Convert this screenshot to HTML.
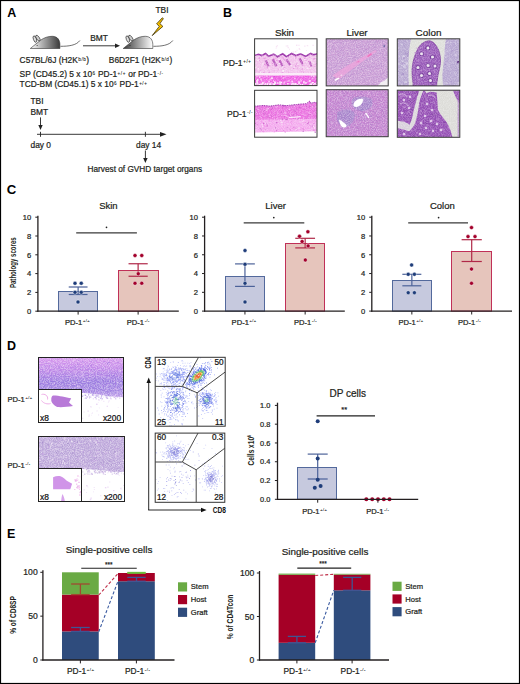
<!DOCTYPE html>
<html><head><meta charset="utf-8"><title>Figure</title>
<style>html,body{margin:0;padding:0;background:#fff;}body{width:520px;height:684px;overflow:hidden;font-family:"Liberation Sans",sans-serif;}svg{display:block;}</style>
</head><body>
<svg width="520" height="684" viewBox="0 0 520 684" font-family="Liberation Sans, sans-serif"><defs><filter id="soft" x="-5%" y="-5%" width="110%" height="110%"><feGaussianBlur stdDeviation="0.35"/></filter><filter id="grain" x="0" y="0" width="100%" height="100%"><feTurbulence type="fractalNoise" baseFrequency="0.85" numOctaves="2" seed="5" result="t"/><feColorMatrix in="t" type="matrix" values="0 0 0 0 1  0 0 0 0 1  0 0 0 0 1  0 0 0 -3 1.9"/></filter><filter id="grainD" x="0" y="0" width="100%" height="100%"><feTurbulence type="fractalNoise" baseFrequency="0.8" numOctaves="2" seed="9" result="t"/><feColorMatrix in="t" type="matrix" values="0 0 0 0 0.35  0 0 0 0 0.2  0 0 0 0 0.55  0 0 0 -3 1.9"/></filter><linearGradient id="m1" x1="0" x2="1" y1="0" y2="0"><stop offset="0" stop-color="#ffffff"/><stop offset="1" stop-color="#3a3a3a"/></linearGradient><linearGradient id="thy1" x1="0" x2="0" y1="0" y2="1"><stop offset="0" stop-color="#d898ee"/><stop offset="0.3" stop-color="#c088e8"/><stop offset="0.6" stop-color="#9c7ce0"/><stop offset="0.85" stop-color="#a486e2"/><stop offset="1" stop-color="#c4a4ec"/></linearGradient><linearGradient id="m2" x1="0" x2="1" y1="0" y2="0"><stop offset="0" stop-color="#3a3a3a"/><stop offset="1" stop-color="#ffffff"/></linearGradient><clipPath id="cp1"><rect x="254.6" y="38.8" width="62.4" height="46.8"/></clipPath><clipPath id="cp2"><rect x="254.6" y="90.3" width="62.4" height="46.9"/></clipPath><clipPath id="cp3"><rect x="326.2" y="38.8" width="62" height="47.1"/></clipPath><clipPath id="cp4"><rect x="326.2" y="89.7" width="62" height="47"/></clipPath><clipPath id="cp5"><rect x="397.3" y="38.8" width="62.5" height="47.1"/></clipPath><clipPath id="cp6"><rect x="397.3" y="90.2" width="62.5" height="47.1"/></clipPath><clipPath id="cp7"><rect x="38.5" y="357.5" width="85" height="65"/></clipPath><clipPath id="cp8"><rect x="38.5" y="436.5" width="86" height="65"/></clipPath><clipPath id="cp9"><rect x="155.2" y="357.3" width="70" height="68.9"/></clipPath><clipPath id="cp10"><rect x="155.2" y="433.1" width="69.6" height="69.2"/></clipPath></defs><rect x="0" y="0" width="520" height="684" fill="#fff"/><text x="7.20" y="16.80" font-size="12.5" text-anchor="start" fill="#000" font-weight="bold" >A</text>
<g transform="translate(30.3,48.5)">
<path d="M0,0 L10.2,-8.2 C14,-11 18,-12.2 22,-12.2 C27.5,-12.2 29.6,-8 29.6,-4 L29.6,0 Z" fill="url(#m1)" stroke="#333" stroke-width="0.6"/>
<path d="M30.2,-2.2 C38,-2.2 46,-3 49.6,-8" fill="none" stroke="#333" stroke-width="0.7"/>
<ellipse cx="4.6" cy="-9.4" rx="1.5" ry="3.4" transform="rotate(-20 4.6 -9.4)" fill="#ddd" stroke="#222" stroke-width="0.6"/>
<ellipse cx="7.6" cy="-10.4" rx="1.5" ry="3.3" transform="rotate(-35 7.6 -10.4)" fill="#ccc" stroke="#222" stroke-width="0.6"/>
<circle cx="6.8" cy="-3" r="0.5" fill="#222"/>
</g>
<g transform="translate(123.2,48.5)">
<path d="M0,0 L10.2,-8.2 C14,-11 18,-12.2 22,-12.2 C27.5,-12.2 29.6,-8 29.6,-4 L29.6,0 Z" fill="url(#m2)" stroke="#333" stroke-width="0.6"/>
<path d="M30.2,-2.2 C38,-2.2 46,-3 49.6,-8" fill="none" stroke="#333" stroke-width="0.7"/>
<ellipse cx="4.6" cy="-9.4" rx="1.5" ry="3.4" transform="rotate(-20 4.6 -9.4)" fill="#ddd" stroke="#222" stroke-width="0.6"/>
<ellipse cx="7.6" cy="-10.4" rx="1.5" ry="3.3" transform="rotate(-35 7.6 -10.4)" fill="#ccc" stroke="#222" stroke-width="0.6"/>
<circle cx="6.8" cy="-3" r="0.5" fill="#222"/>
</g>
<text x="99.00" y="40.50" font-size="8.4" text-anchor="middle" fill="#231f20" stroke="#231f20" stroke-width="0.22" >BMT</text>
<line x1="83.00" y1="45.80" x2="117.00" y2="45.80" stroke="#222" stroke-width="0.9" />
<path d="M115,43.6 L120,45.8 L115,48 Z" fill="#222"/>
<text x="162.00" y="13.40" font-size="8.4" text-anchor="middle" fill="#231f20" stroke="#231f20" stroke-width="0.22" >TBI</text>
<path d="M162.3,17.8 L156.6,23.8 L159.3,26.3 L152.2,35.6 L162.9,26.4 L159.9,23.6 L163.4,18.6 Z" fill="#f5c000" stroke="#2a2000" stroke-width="0.7" stroke-linejoin="round"/>
<text x="19.60" y="63.10" font-size="8.4" text-anchor="start" fill="#231f20" stroke="#231f20" stroke-width="0.22" >C57BL/6J (H2K<tspan dx="0.5" dy="-2.6" font-size="4.6" letter-spacing="0.55" stroke-width="0.08">b/b</tspan><tspan dy="2.6" stroke-width="0.22">)</tspan></text>
<text x="108.80" y="63.10" font-size="8.4" text-anchor="start" fill="#231f20" stroke="#231f20" stroke-width="0.22" >B6D2F1 (H2K<tspan dx="0.5" dy="-2.6" font-size="4.6" letter-spacing="0.55" stroke-width="0.08">b/d</tspan><tspan dy="2.6" stroke-width="0.22">)</tspan></text>
<text x="19.60" y="77.10" font-size="8.4" text-anchor="start" fill="#231f20" stroke="#231f20" stroke-width="0.22" >SP (CD45.2) 5 x 10<tspan dx="0.5" dy="-2.6" font-size="4.6" letter-spacing="0.55" stroke-width="0.08">6</tspan><tspan dy="2.6" stroke-width="0.22"> PD-1</tspan><tspan dx="0.5" dy="-2.6" font-size="4.6" letter-spacing="0.55" stroke-width="0.08">+/+</tspan><tspan dy="2.6" stroke-width="0.22"> or PD-1</tspan><tspan dx="0.5" dy="-2.6" font-size="4.6" letter-spacing="0.55" stroke-width="0.08">-/-</tspan></text>
<text x="19.60" y="87.10" font-size="8.4" text-anchor="start" fill="#231f20" stroke="#231f20" stroke-width="0.22" >TCD-BM (CD45.1) 5 x 10<tspan dx="0.5" dy="-2.6" font-size="4.6" letter-spacing="0.55" stroke-width="0.08">6</tspan><tspan dy="2.6" stroke-width="0.22"> PD-1</tspan><tspan dx="0.5" dy="-2.6" font-size="4.6" letter-spacing="0.55" stroke-width="0.08">+/+</tspan></text>
<text x="30.50" y="103.50" font-size="8.4" text-anchor="start" fill="#231f20" stroke="#231f20" stroke-width="0.22" >TBI</text>
<text x="30.50" y="114.60" font-size="8.4" text-anchor="start" fill="#231f20" stroke="#231f20" stroke-width="0.22" >BMT</text>
<line x1="40.50" y1="117.40" x2="40.50" y2="127.00" stroke="#222" stroke-width="0.9" />
<path d="M38.3,125 L40.5,130 L42.7,125 Z" fill="#222"/>
<line x1="37.00" y1="134.30" x2="162.00" y2="134.30" stroke="#222" stroke-width="0.9" />
<path d="M160,131.9 L166.5,134.3 L160,136.7 Z" fill="#222"/>
<line x1="40.50" y1="131.80" x2="40.50" y2="136.80" stroke="#222" stroke-width="0.9" />
<line x1="145.40" y1="131.80" x2="145.40" y2="136.80" stroke="#222" stroke-width="0.9" />
<text x="30.50" y="147.50" font-size="8.4" text-anchor="start" fill="#231f20" stroke="#231f20" stroke-width="0.22" >day 0</text>
<text x="136.00" y="147.50" font-size="8.4" text-anchor="start" fill="#231f20" stroke="#231f20" stroke-width="0.22" >day 14</text>
<line x1="145.40" y1="150.50" x2="145.40" y2="160.00" stroke="#222" stroke-width="0.9" />
<path d="M143.2,158 L145.4,163 L147.6,158 Z" fill="#222"/>
<text x="87.50" y="172.30" font-size="8.25" text-anchor="start" fill="#231f20" stroke="#231f20" stroke-width="0.22" >Harvest of GVHD target organs</text>
<text x="223.00" y="16.70" font-size="12.5" text-anchor="start" fill="#000" font-weight="bold" >B</text>
<text x="284.50" y="36.00" font-size="9.9" text-anchor="middle" fill="#231f20" stroke="#231f20" stroke-width="0.22" >Skin</text>
<text x="357.00" y="36.20" font-size="9.8" text-anchor="middle" fill="#231f20" stroke="#231f20" stroke-width="0.22" >Liver</text>
<text x="428.50" y="36.20" font-size="9.9" text-anchor="middle" fill="#231f20" stroke="#231f20" stroke-width="0.22" >Colon</text>
<text x="223.00" y="65.90" font-size="8.6" text-anchor="start" fill="#231f20" stroke="#231f20" stroke-width="0.22" >PD-1<tspan dx="0.69" dy="-2.67" font-size="4.47" letter-spacing="0.52" stroke-width="0.08">+/+</tspan></text>
<text x="227.00" y="117.00" font-size="8.6" text-anchor="start" fill="#231f20" stroke="#231f20" stroke-width="0.22" >PD-1<tspan dx="0.69" dy="-2.67" font-size="4.47" letter-spacing="0.52" stroke-width="0.08">-/-</tspan></text>
<g clip-path="url(#cp1)"><g filter="url(#soft)"><rect x="254.6" y="38.8" width="62.4" height="46.8" fill="#fff"/><path fill="#f4d4f0" opacity="0.7" d="M286.8 45.3h1.5v1.5h-1.5zM306.8 44.9h1.4v1.4h-1.4zM275.7 47.8h0.9v0.9h-0.9zM296.0 44.6h1.4v1.4h-1.4zM299.4 49.0h0.9v0.9h-0.9zM275.9 45.9h1.4v1.4h-1.4zM285.7 45.5h0.9v0.9h-0.9zM296.6 49.8h0.9v0.9h-0.9zM289.1 48.8h0.9v0.9h-0.9zM298.7 48.1h1.3v1.3h-1.3zM292.6 51.6h1.2v1.2h-1.2zM305.9 49.9h1.0v1.0h-1.0zM294.8 51.0h1.5v1.5h-1.5zM298.3 44.7h1.3v1.3h-1.3zM304.2 45.4h1.3v1.3h-1.3zM312.4 44.7h1.4v1.4h-1.4zM287.6 47.0h1.3v1.3h-1.3zM276.8 45.0h1.1v1.1h-1.1z"/><path d="M254.6,55.3 L258.6,54.3 L261.6,55.599999999999994 L265.6,53.599999999999994 L268.6,56.3 L273.6,54.099999999999994 L277.6,56.8 L282.6,53.8 L286.6,56.8 L291.6,53.4 L295.6,55.599999999999994 L300.6,54.0 L305.6,56.4 L310.6,53.4 L313.6,54.8 L317.0,53.8 L317.0,85.6 L254.6,85.6 Z" fill="#f2c2ec"/><path fill="#fff" opacity="0.6" d="M257.8 68.1h1.2v1.2h-1.2zM312.7 62.2h1.2v1.2h-1.2zM281.9 65.4h1.5v1.5h-1.5zM265.2 60.3h0.8v0.8h-0.8zM282.3 70.8h1.6v1.6h-1.6zM278.9 63.0h1.1v1.1h-1.1zM307.0 73.1h1.1v1.1h-1.1zM259.4 72.2h1.3v1.3h-1.3zM316.0 56.7h1.2v1.2h-1.2zM304.2 58.6h1.4v1.4h-1.4zM285.4 69.3h0.9v0.9h-0.9zM306.0 57.2h1.3v1.3h-1.3zM287.5 65.4h0.6v0.6h-0.6zM297.3 63.9h1.1v1.1h-1.1zM311.8 71.6h0.8v0.8h-0.8zM316.0 70.6h0.8v0.8h-0.8zM274.2 68.8h0.6v0.6h-0.6zM310.5 59.2h1.4v1.4h-1.4zM306.8 67.5h1.5v1.5h-1.5zM259.5 57.1h1.3v1.3h-1.3zM270.8 58.6h0.6v0.6h-0.6zM299.9 65.8h0.8v0.8h-0.8zM269.3 63.8h1.3v1.3h-1.3zM254.7 66.7h1.5v1.5h-1.5zM290.5 65.1h1.4v1.4h-1.4zM299.5 67.4h0.6v0.6h-0.6zM268.5 67.3h1.1v1.1h-1.1zM282.5 70.0h1.6v1.6h-1.6zM309.5 68.3h0.8v0.8h-0.8zM278.4 58.7h1.5v1.5h-1.5zM279.4 68.7h1.0v1.0h-1.0zM310.4 61.2h1.0v1.0h-1.0zM278.6 71.3h0.7v0.7h-0.7zM303.3 63.8h0.6v0.6h-0.6zM294.2 57.5h1.1v1.1h-1.1zM288.5 64.0h0.9v0.9h-0.9zM304.8 59.9h0.6v0.6h-0.6zM259.9 71.6h1.0v1.0h-1.0zM261.9 63.3h1.4v1.4h-1.4zM314.7 64.8h0.7v0.7h-0.7zM263.7 73.0h0.7v0.7h-0.7zM314.1 66.9h1.1v1.1h-1.1zM257.3 59.4h1.5v1.5h-1.5zM268.3 56.9h0.9v0.9h-0.9z"/><path fill="#e070d8" opacity="0.6" d="M271.7 62.7h1.3v1.3h-1.3zM296.8 62.9h0.8v0.8h-0.8zM297.1 65.0h1.2v1.2h-1.2zM287.5 72.3h1.2v1.2h-1.2zM313.7 66.5h1.1v1.1h-1.1zM313.6 65.4h0.7v0.7h-0.7zM301.3 61.2h1.2v1.2h-1.2zM266.4 64.5h1.3v1.3h-1.3zM266.6 66.7h1.5v1.5h-1.5zM283.8 67.2h1.4v1.4h-1.4zM255.3 69.7h1.3v1.3h-1.3zM264.7 64.2h1.3v1.3h-1.3zM274.4 65.0h1.2v1.2h-1.2zM309.3 57.4h0.8v0.8h-0.8zM302.2 64.9h1.2v1.2h-1.2zM262.6 58.3h1.0v1.0h-1.0zM314.8 58.1h0.9v0.9h-0.9zM310.2 61.1h0.6v0.6h-0.6zM303.9 57.5h1.5v1.5h-1.5zM304.4 73.4h0.6v0.6h-0.6zM267.7 59.4h0.9v0.9h-0.9zM283.8 64.9h0.8v0.8h-0.8zM259.9 70.3h0.7v0.7h-0.7zM278.6 61.3h1.2v1.2h-1.2zM300.0 70.2h0.7v0.7h-0.7zM259.3 56.9h1.2v1.2h-1.2zM277.8 64.1h0.7v0.7h-0.7zM293.1 67.8h1.1v1.1h-1.1zM282.3 57.2h1.5v1.5h-1.5zM258.9 71.8h0.9v0.9h-0.9zM254.9 57.4h0.9v0.9h-0.9zM306.2 58.1h1.5v1.5h-1.5zM301.3 70.9h0.9v0.9h-0.9zM311.0 72.2h1.1v1.1h-1.1zM280.8 61.4h1.4v1.4h-1.4zM278.2 60.0h1.2v1.2h-1.2z"/><path fill="#f8dcf6" opacity="0.6" d="M257.9 69.5h0.7v0.7h-0.7zM278.9 71.8h1.1v1.1h-1.1zM306.0 59.5h0.9v0.9h-0.9zM280.2 62.5h1.2v1.2h-1.2zM258.1 57.5h0.8v0.8h-0.8zM261.1 66.7h0.7v0.7h-0.7zM283.9 68.0h1.1v1.1h-1.1zM297.6 60.8h1.0v1.0h-1.0zM293.6 66.5h1.4v1.4h-1.4zM304.2 70.0h1.3v1.3h-1.3zM306.2 58.3h1.0v1.0h-1.0zM279.0 72.2h1.3v1.3h-1.3zM295.0 62.2h1.1v1.1h-1.1zM286.9 72.2h1.0v1.0h-1.0zM295.4 70.1h1.1v1.1h-1.1zM302.4 66.5h1.4v1.4h-1.4zM281.7 66.7h1.1v1.1h-1.1zM262.7 71.0h1.6v1.6h-1.6zM300.5 57.7h1.5v1.5h-1.5zM285.8 57.1h1.6v1.6h-1.6zM312.1 61.0h0.7v0.7h-0.7zM312.7 72.8h0.9v0.9h-0.9zM266.7 61.7h0.9v0.9h-0.9zM297.0 73.0h0.9v0.9h-0.9zM279.5 62.4h0.7v0.7h-0.7zM291.6 68.3h0.6v0.6h-0.6zM305.4 66.0h1.5v1.5h-1.5zM304.7 70.8h0.8v0.8h-0.8zM292.8 67.4h0.7v0.7h-0.7zM274.7 67.2h1.3v1.3h-1.3zM283.2 64.4h0.7v0.7h-0.7zM315.9 62.6h1.5v1.5h-1.5zM305.9 60.9h1.5v1.5h-1.5zM257.2 68.7h1.1v1.1h-1.1zM294.5 61.3h0.6v0.6h-0.6zM300.3 73.0h0.9v0.9h-0.9zM272.9 65.8h1.0v1.0h-1.0zM280.8 65.7h0.8v0.8h-0.8zM261.8 64.7h1.2v1.2h-1.2zM314.9 60.7h0.7v0.7h-0.7zM259.6 69.7h0.6v0.6h-0.6zM297.9 58.4h0.7v0.7h-0.7zM294.3 71.3h1.1v1.1h-1.1z"/><path fill="#d860d0" opacity="0.6" d="M308.0 61.0h1.0v1.0h-1.0zM308.8 66.9h0.7v0.7h-0.7zM273.4 58.6h1.3v1.3h-1.3zM276.2 60.0h1.1v1.1h-1.1zM303.5 64.4h0.8v0.8h-0.8zM281.7 71.9h1.6v1.6h-1.6zM259.1 58.0h1.1v1.1h-1.1zM283.7 59.1h1.4v1.4h-1.4zM305.7 60.0h0.9v0.9h-0.9zM285.7 60.4h1.1v1.1h-1.1zM296.1 63.7h0.8v0.8h-0.8zM303.1 71.7h0.8v0.8h-0.8zM316.1 63.2h1.0v1.0h-1.0zM281.6 56.6h0.9v0.9h-0.9zM263.3 71.8h1.2v1.2h-1.2zM272.3 64.9h0.8v0.8h-0.8zM294.8 65.3h1.5v1.5h-1.5zM264.1 57.5h1.4v1.4h-1.4zM264.0 63.9h0.9v0.9h-0.9zM314.9 65.7h0.8v0.8h-0.8zM301.7 68.5h1.1v1.1h-1.1zM295.1 57.3h1.3v1.3h-1.3zM297.3 67.8h0.9v0.9h-0.9zM273.5 57.7h1.1v1.1h-1.1zM258.6 57.7h1.3v1.3h-1.3zM313.3 58.3h1.4v1.4h-1.4zM274.0 70.8h0.6v0.6h-0.6zM314.7 63.8h0.9v0.9h-0.9zM264.8 63.4h0.9v0.9h-0.9zM275.5 57.9h0.8v0.8h-0.8zM278.1 69.1h0.8v0.8h-0.8zM275.3 57.4h0.9v0.9h-0.9zM268.5 71.8h1.2v1.2h-1.2zM287.7 73.3h0.9v0.9h-0.9zM288.2 56.8h1.0v1.0h-1.0zM259.1 60.2h1.0v1.0h-1.0zM276.9 63.2h0.6v0.6h-0.6z"/><path d="M264.6,60.8 l3,6 l2.2,-0.8 l-3,-6z M271.6,59.8 l4,7 l2,-1 l-4,-7z M278.6,60.8 l3,6 l2,-1 l-3,-6z M285.6,59.8 l3.5,6 l2,-1 l-3.5,-6z M298.6,58.8 l3,6 l2,-1 l-3,-6z M308.6,61.8 l2,5 l1.8,-0.6 l-2,-5z" fill="#a838b0" opacity="0.75"/><path d="M254.6,55.3 L258.6,54.3 L261.6,55.599999999999994 L265.6,53.599999999999994 L268.6,56.3 L273.6,54.099999999999994 L277.6,56.8 L282.6,53.8 L286.6,56.8 L291.6,53.4 L295.6,55.599999999999994 L300.6,54.0 L305.6,56.4 L310.6,53.4 L313.6,54.8 L317.0,53.8" fill="none" stroke="#9c36aa" stroke-width="1.7"/><rect x="254.6" y="73.0" width="62.4" height="2.6" fill="#fae8f8"/><rect x="254.6" y="75.6" width="62.4" height="10.0" fill="#f060e4"/><path fill="#fff" opacity="0.7" d="M300.2 78.8h1.0v1.0h-1.0zM273.5 81.0h1.1v1.1h-1.1zM308.7 79.9h2.0v2.0h-2.0zM315.6 78.4h0.9v0.9h-0.9zM271.1 77.3h1.9v1.9h-1.9zM312.8 75.4h1.8v1.8h-1.8zM303.0 81.3h1.8v1.8h-1.8zM273.0 80.2h1.0v1.0h-1.0zM258.7 76.3h1.7v1.7h-1.7zM274.0 81.7h1.9v1.9h-1.9zM315.8 82.1h1.0v1.0h-1.0zM270.3 78.4h1.0v1.0h-1.0zM268.2 80.7h1.6v1.6h-1.6zM311.1 75.5h1.2v1.2h-1.2zM256.8 79.1h1.8v1.8h-1.8zM291.4 80.4h1.6v1.6h-1.6zM260.4 79.2h1.5v1.5h-1.5zM256.0 80.0h1.9v1.9h-1.9zM288.5 79.8h0.9v0.9h-0.9zM294.2 77.9h1.3v1.3h-1.3zM281.2 76.4h0.9v0.9h-0.9zM279.3 81.3h1.4v1.4h-1.4z"/><path fill="#e040d8" opacity="0.7" d="M270.7 81.6h0.9v0.9h-0.9zM257.2 75.6h1.3v1.3h-1.3zM274.2 76.1h1.9v1.9h-1.9zM253.9 80.1h1.9v1.9h-1.9zM311.6 76.2h1.8v1.8h-1.8zM274.4 77.4h1.2v1.2h-1.2zM279.4 79.7h1.4v1.4h-1.4zM279.8 79.3h1.6v1.6h-1.6zM272.3 79.1h1.2v1.2h-1.2zM258.1 77.0h1.1v1.1h-1.1zM305.1 78.0h1.2v1.2h-1.2zM273.2 76.3h1.8v1.8h-1.8zM283.9 77.8h1.8v1.8h-1.8zM278.4 76.7h2.0v2.0h-2.0zM273.2 81.9h1.2v1.2h-1.2zM259.5 79.5h1.2v1.2h-1.2z"/><path fill="#f8c0f0" opacity="0.7" d="M285.0 76.6h1.1v1.1h-1.1zM310.7 75.4h1.5v1.5h-1.5zM257.2 75.2h1.5v1.5h-1.5zM282.9 77.1h1.7v1.7h-1.7zM289.0 80.5h1.3v1.3h-1.3zM305.5 78.4h0.9v0.9h-0.9zM266.1 78.9h1.3v1.3h-1.3zM276.9 81.7h0.8v0.8h-0.8zM269.4 79.5h1.3v1.3h-1.3zM255.8 75.3h1.9v1.9h-1.9zM266.0 75.5h1.5v1.5h-1.5zM270.8 81.7h1.5v1.5h-1.5zM300.2 79.7h1.9v1.9h-1.9zM283.3 81.5h1.9v1.9h-1.9zM270.7 75.9h0.9v0.9h-0.9zM287.4 80.4h1.7v1.7h-1.7zM263.4 81.2h1.5v1.5h-1.5zM260.1 78.2h1.8v1.8h-1.8zM311.7 77.5h1.8v1.8h-1.8zM256.5 77.8h0.9v0.9h-0.9zM309.3 78.3h0.8v0.8h-0.8zM262.2 75.7h1.0v1.0h-1.0z"/><path fill="#fff" opacity="0.9" d="M264.7 82.9h1.2v1.2h-1.2zM311.6 81.9h1.6v1.6h-1.6zM273.3 83.4h1.8v1.8h-1.8zM310.0 83.4h2.0v2.0h-2.0zM293.7 84.3h1.7v1.7h-1.7zM312.4 82.1h1.4v1.4h-1.4zM269.0 83.7h2.1v2.1h-2.1zM294.9 83.0h1.5v1.5h-1.5zM301.5 84.1h1.5v1.5h-1.5zM280.7 81.8h1.5v1.5h-1.5zM294.8 84.4h1.0v1.0h-1.0zM315.8 83.7h2.0v2.0h-2.0zM262.1 84.6h1.3v1.3h-1.3zM314.1 83.0h1.6v1.6h-1.6zM274.6 81.9h1.3v1.3h-1.3zM292.2 82.9h1.6v1.6h-1.6zM261.9 82.2h1.8v1.8h-1.8zM287.2 83.0h1.4v1.4h-1.4zM266.6 83.6h1.6v1.6h-1.6zM269.6 84.8h1.1v1.1h-1.1zM279.4 82.5h1.1v1.1h-1.1zM254.3 83.1h2.1v2.1h-2.1zM259.0 83.9h1.2v1.2h-1.2zM294.0 84.9h1.3v1.3h-1.3zM264.2 84.3h2.0v2.0h-2.0zM283.6 83.5h1.0v1.0h-1.0z"/><path fill="#fbe0f8" opacity="0.9" d="M272.9 84.5h1.1v1.1h-1.1zM305.7 82.3h1.3v1.3h-1.3zM308.8 84.2h1.8v1.8h-1.8zM261.1 83.4h1.7v1.7h-1.7zM294.4 82.7h1.3v1.3h-1.3zM254.0 84.8h1.6v1.6h-1.6zM304.6 83.1h1.1v1.1h-1.1zM256.1 81.7h2.1v2.1h-2.1zM302.6 83.5h1.1v1.1h-1.1zM296.8 84.0h1.3v1.3h-1.3zM292.0 82.4h1.4v1.4h-1.4zM310.4 83.2h1.3v1.3h-1.3zM266.8 82.4h1.6v1.6h-1.6zM277.1 82.2h1.5v1.5h-1.5zM296.4 84.7h1.2v1.2h-1.2zM260.9 83.2h1.8v1.8h-1.8zM269.3 83.1h2.0v2.0h-2.0zM270.3 84.7h1.7v1.7h-1.7zM272.4 83.3h1.4v1.4h-1.4zM299.7 84.1h1.3v1.3h-1.3zM257.3 83.5h1.4v1.4h-1.4zM254.6 84.0h1.8v1.8h-1.8zM259.6 83.4h2.0v2.0h-2.0zM279.2 82.7h1.0v1.0h-1.0zM290.8 83.3h1.7v1.7h-1.7zM279.5 83.1h1.8v1.8h-1.8zM304.7 82.2h1.4v1.4h-1.4zM292.7 84.6h1.9v1.9h-1.9zM298.2 81.3h2.0v2.0h-2.0zM270.3 83.9h1.1v1.1h-1.1zM298.2 82.3h1.7v1.7h-1.7zM296.3 84.2h2.2v2.2h-2.2zM312.9 84.1h1.4v1.4h-1.4zM274.1 82.0h2.1v2.1h-2.1z"/></g><rect x="254.6" y="38.8" width="62.4" height="46.8" filter="url(#grain)" opacity="0.3"/><g filter="url(#soft)"></g></g>
<rect x="254.60" y="38.80" width="62.40" height="46.80" fill="none" stroke="#3a3a3a" stroke-width="1" />
<g clip-path="url(#cp2)"><g filter="url(#soft)"><rect x="254.6" y="90.3" width="62.4" height="46.9" fill="#fff"/><path d="M254.6,106.3 L262.6,105.5 L270.6,106.1 L278.6,104.89999999999999 L286.6,105.7 L294.6,104.7 L300.6,104.1 L306.6,103.7 L309.6,101.3 L311.6,103.8 L313.6,102.3 L317.0,102.8 L317.0,131.3 L254.6,132.6 Z" fill="#f4a8ee"/><path d="M254.6,106.3 L262.6,105.5 L270.6,106.1 L278.6,104.89999999999999 L286.6,105.7 L294.6,104.7 L300.6,104.1 L306.6,103.7 L309.6,101.3 L311.6,103.8 L313.6,102.3 L317.0,102.8 L317.0,118.8 L254.6,119.8 Z" fill="#ea70e0"/><path fill="#fff" opacity="0.55" d="M281.3 124.3h1.2v1.2h-1.2zM262.3 126.1h1.2v1.2h-1.2zM274.2 116.4h0.6v0.6h-0.6zM312.0 105.9h1.4v1.4h-1.4zM302.1 121.0h1.1v1.1h-1.1zM308.2 116.9h1.2v1.2h-1.2zM263.8 109.1h0.8v0.8h-0.8zM298.7 118.5h1.2v1.2h-1.2zM299.5 121.3h1.2v1.2h-1.2zM296.3 117.6h1.4v1.4h-1.4zM280.7 121.9h1.3v1.3h-1.3zM295.6 128.7h1.4v1.4h-1.4zM316.6 123.2h0.8v0.8h-0.8zM293.7 105.5h1.2v1.2h-1.2zM256.1 124.1h1.2v1.2h-1.2zM288.7 129.5h0.9v0.9h-0.9zM280.2 119.5h1.4v1.4h-1.4zM276.3 118.2h0.9v0.9h-0.9zM303.6 113.8h0.9v0.9h-0.9zM303.3 120.0h0.9v0.9h-0.9zM267.7 108.0h1.1v1.1h-1.1zM313.8 127.2h1.2v1.2h-1.2zM313.0 125.9h1.2v1.2h-1.2zM304.7 112.6h0.6v0.6h-0.6zM265.9 109.5h1.3v1.3h-1.3zM277.5 117.5h0.7v0.7h-0.7zM284.5 120.2h0.9v0.9h-0.9zM316.2 111.0h0.6v0.6h-0.6zM283.5 114.8h1.0v1.0h-1.0zM306.6 121.7h1.1v1.1h-1.1zM274.4 111.3h0.7v0.7h-0.7zM288.4 108.5h1.5v1.5h-1.5zM276.6 105.9h1.0v1.0h-1.0zM279.7 124.5h0.7v0.7h-0.7zM308.6 112.1h0.8v0.8h-0.8zM261.4 123.9h1.4v1.4h-1.4zM255.1 129.6h1.3v1.3h-1.3zM302.7 114.0h0.8v0.8h-0.8zM298.7 127.5h1.2v1.2h-1.2zM309.7 113.0h1.1v1.1h-1.1zM278.2 120.8h0.6v0.6h-0.6zM264.3 130.5h0.9v0.9h-0.9zM284.5 112.2h1.6v1.6h-1.6zM281.4 115.1h0.8v0.8h-0.8zM274.1 127.4h1.4v1.4h-1.4zM255.4 111.5h1.5v1.5h-1.5zM281.3 121.4h1.6v1.6h-1.6zM297.4 125.1h0.7v0.7h-0.7zM265.1 122.6h0.9v0.9h-0.9z"/><path fill="#f080e8" opacity="0.55" d="M303.3 115.3h1.2v1.2h-1.2zM297.8 124.9h0.7v0.7h-0.7zM301.4 109.9h1.6v1.6h-1.6zM289.9 112.5h1.0v1.0h-1.0zM314.2 120.5h1.6v1.6h-1.6zM277.3 113.0h1.0v1.0h-1.0zM312.9 108.1h1.2v1.2h-1.2zM264.5 116.5h1.4v1.4h-1.4zM285.6 111.8h1.4v1.4h-1.4zM300.3 129.3h1.0v1.0h-1.0zM290.5 122.1h1.4v1.4h-1.4zM269.7 116.2h1.1v1.1h-1.1zM263.9 125.6h1.5v1.5h-1.5zM311.1 121.6h1.3v1.3h-1.3zM270.5 110.7h1.3v1.3h-1.3zM267.2 106.8h0.9v0.9h-0.9zM275.5 108.7h1.5v1.5h-1.5zM260.0 122.6h0.9v0.9h-0.9zM279.0 119.8h1.0v1.0h-1.0zM303.2 129.3h1.2v1.2h-1.2zM265.8 105.9h0.6v0.6h-0.6zM294.3 130.2h0.7v0.7h-0.7zM299.0 105.3h0.6v0.6h-0.6zM271.4 121.5h1.3v1.3h-1.3zM271.9 108.4h1.5v1.5h-1.5zM263.1 130.9h1.4v1.4h-1.4zM268.4 120.2h1.5v1.5h-1.5zM259.7 110.1h1.5v1.5h-1.5zM280.5 130.2h1.4v1.4h-1.4zM270.0 119.9h1.2v1.2h-1.2zM280.4 111.6h0.6v0.6h-0.6zM290.6 110.4h0.7v0.7h-0.7zM255.1 120.9h1.2v1.2h-1.2zM305.1 127.9h0.7v0.7h-0.7zM256.3 122.2h0.9v0.9h-0.9zM270.9 119.2h1.5v1.5h-1.5zM261.3 120.6h1.6v1.6h-1.6zM290.0 112.0h1.3v1.3h-1.3zM256.1 113.9h0.8v0.8h-0.8zM257.6 105.3h1.2v1.2h-1.2zM306.0 114.2h1.4v1.4h-1.4zM292.3 127.5h1.4v1.4h-1.4zM279.9 107.6h1.0v1.0h-1.0zM290.4 118.0h1.6v1.6h-1.6zM263.5 127.8h0.9v0.9h-0.9zM272.1 114.3h1.0v1.0h-1.0zM279.5 118.2h1.2v1.2h-1.2zM273.7 131.0h1.4v1.4h-1.4z"/><path fill="#d050c8" opacity="0.55" d="M311.1 108.9h0.6v0.6h-0.6zM292.6 108.9h1.6v1.6h-1.6zM255.9 108.4h1.2v1.2h-1.2zM260.9 110.5h0.7v0.7h-0.7zM313.2 129.2h1.4v1.4h-1.4zM305.6 121.9h0.9v0.9h-0.9zM286.4 107.4h1.1v1.1h-1.1zM287.4 110.4h1.5v1.5h-1.5zM266.4 125.1h1.6v1.6h-1.6zM312.8 111.2h0.8v0.8h-0.8zM284.6 131.5h1.2v1.2h-1.2zM309.7 124.9h1.0v1.0h-1.0zM255.3 111.6h1.3v1.3h-1.3zM315.8 109.7h1.1v1.1h-1.1zM263.6 113.0h1.0v1.0h-1.0zM287.1 114.0h1.2v1.2h-1.2zM264.5 128.8h1.2v1.2h-1.2zM268.7 108.5h1.1v1.1h-1.1zM285.0 119.1h1.5v1.5h-1.5zM262.2 131.2h0.7v0.7h-0.7zM305.2 117.4h1.4v1.4h-1.4zM263.1 122.8h1.3v1.3h-1.3zM260.6 109.9h0.6v0.6h-0.6zM290.0 129.6h1.0v1.0h-1.0zM267.5 109.1h0.6v0.6h-0.6zM254.4 122.6h1.6v1.6h-1.6zM282.9 130.0h0.9v0.9h-0.9zM270.6 108.8h1.5v1.5h-1.5zM296.8 129.5h0.9v0.9h-0.9zM282.6 107.0h1.4v1.4h-1.4zM269.4 129.7h1.1v1.1h-1.1zM291.3 114.1h1.1v1.1h-1.1zM316.4 115.2h0.6v0.6h-0.6zM288.9 128.3h1.1v1.1h-1.1zM307.7 121.8h1.5v1.5h-1.5zM312.8 106.3h1.2v1.2h-1.2zM296.2 112.8h1.2v1.2h-1.2zM303.7 108.8h1.4v1.4h-1.4zM257.7 124.5h0.9v0.9h-0.9zM298.7 110.3h0.7v0.7h-0.7zM256.3 123.7h1.2v1.2h-1.2zM276.0 129.7h1.6v1.6h-1.6zM302.6 128.2h1.2v1.2h-1.2zM286.1 119.1h1.1v1.1h-1.1zM260.3 111.4h1.4v1.4h-1.4zM269.0 116.8h1.0v1.0h-1.0zM290.8 125.5h0.7v0.7h-0.7zM291.5 121.3h0.6v0.6h-0.6zM258.4 116.4h1.1v1.1h-1.1zM293.4 126.4h1.5v1.5h-1.5zM266.6 116.1h1.5v1.5h-1.5zM313.2 123.0h1.1v1.1h-1.1z"/><path fill="#b040b8" opacity="0.55" d="M309.5 106.3h1.5v1.5h-1.5zM292.7 105.6h1.0v1.0h-1.0zM293.3 114.4h1.0v1.0h-1.0zM261.0 129.5h0.9v0.9h-0.9zM282.8 104.9h1.5v1.5h-1.5zM297.3 118.2h1.2v1.2h-1.2zM307.2 123.0h1.2v1.2h-1.2zM280.9 111.7h1.3v1.3h-1.3zM310.1 113.9h0.6v0.6h-0.6zM271.4 115.8h0.6v0.6h-0.6zM314.4 131.4h1.6v1.6h-1.6zM275.9 121.8h1.4v1.4h-1.4zM270.9 115.0h0.9v0.9h-0.9zM276.5 122.5h0.9v0.9h-0.9zM260.5 108.7h0.8v0.8h-0.8zM266.4 123.4h1.1v1.1h-1.1zM296.1 108.1h0.7v0.7h-0.7zM264.0 113.3h1.3v1.3h-1.3zM295.6 127.5h1.0v1.0h-1.0zM308.7 114.2h0.8v0.8h-0.8zM286.5 126.9h1.4v1.4h-1.4zM283.9 116.1h0.7v0.7h-0.7zM299.5 107.0h1.2v1.2h-1.2zM293.4 116.1h1.0v1.0h-1.0zM312.1 120.8h0.6v0.6h-0.6zM306.1 105.9h1.4v1.4h-1.4zM302.4 130.4h1.5v1.5h-1.5zM263.2 111.0h0.7v0.7h-0.7zM306.6 113.9h0.8v0.8h-0.8zM281.6 118.5h1.1v1.1h-1.1zM274.8 127.3h1.5v1.5h-1.5zM272.1 107.5h1.3v1.3h-1.3zM299.0 106.2h0.7v0.7h-0.7zM313.1 105.2h1.2v1.2h-1.2zM263.3 123.2h1.0v1.0h-1.0zM268.2 116.2h1.0v1.0h-1.0zM281.3 118.4h1.5v1.5h-1.5zM294.5 110.1h1.3v1.3h-1.3zM308.6 116.8h0.7v0.7h-0.7zM259.8 127.7h1.5v1.5h-1.5zM292.0 115.0h1.1v1.1h-1.1zM288.8 115.2h0.9v0.9h-0.9zM311.5 125.6h1.1v1.1h-1.1zM286.2 118.6h1.3v1.3h-1.3zM282.9 105.8h1.3v1.3h-1.3zM263.7 109.9h1.0v1.0h-1.0z"/><path fill="#f8c0f2" opacity="0.55" d="M275.7 107.2h1.3v1.3h-1.3zM270.4 130.3h0.9v0.9h-0.9zM285.1 114.8h1.5v1.5h-1.5zM294.5 114.2h0.9v0.9h-0.9zM268.4 113.7h1.2v1.2h-1.2zM291.8 114.3h0.8v0.8h-0.8zM269.9 130.3h1.6v1.6h-1.6zM314.2 107.6h1.0v1.0h-1.0zM303.7 124.6h1.0v1.0h-1.0zM269.1 115.4h1.3v1.3h-1.3zM307.5 118.7h1.3v1.3h-1.3zM310.8 107.7h0.9v0.9h-0.9zM275.8 127.6h1.1v1.1h-1.1zM286.4 115.6h1.5v1.5h-1.5zM267.1 108.1h1.4v1.4h-1.4zM283.5 120.1h0.8v0.8h-0.8zM283.2 112.7h1.1v1.1h-1.1zM302.6 117.3h1.4v1.4h-1.4zM305.6 129.1h1.4v1.4h-1.4zM284.2 129.1h1.3v1.3h-1.3zM304.5 107.3h1.1v1.1h-1.1zM257.4 113.1h0.6v0.6h-0.6zM267.3 122.8h1.1v1.1h-1.1zM311.2 122.5h1.0v1.0h-1.0zM296.2 120.5h1.6v1.6h-1.6zM298.8 111.2h1.3v1.3h-1.3zM311.5 114.5h1.3v1.3h-1.3zM258.9 113.0h1.3v1.3h-1.3zM277.0 120.3h1.0v1.0h-1.0zM263.2 126.3h1.0v1.0h-1.0zM274.5 120.9h1.6v1.6h-1.6zM291.6 113.1h1.0v1.0h-1.0zM277.5 123.2h1.2v1.2h-1.2zM287.8 117.9h1.0v1.0h-1.0zM273.4 106.4h1.0v1.0h-1.0zM274.2 118.6h0.8v0.8h-0.8zM290.0 114.3h1.4v1.4h-1.4zM314.4 111.8h0.6v0.6h-0.6zM278.8 117.0h0.8v0.8h-0.8zM257.4 108.5h1.4v1.4h-1.4zM284.2 109.4h0.8v0.8h-0.8zM311.1 128.9h1.1v1.1h-1.1zM312.1 128.0h1.5v1.5h-1.5zM260.9 117.1h1.1v1.1h-1.1zM314.9 106.1h1.5v1.5h-1.5zM289.2 127.5h0.7v0.7h-0.7zM314.7 116.5h0.9v0.9h-0.9zM311.9 107.5h0.9v0.9h-0.9zM254.2 127.2h1.1v1.1h-1.1zM289.9 108.6h0.8v0.8h-0.8zM309.4 124.4h1.4v1.4h-1.4zM266.8 121.2h1.3v1.3h-1.3zM259.6 115.7h1.4v1.4h-1.4zM269.2 107.1h1.2v1.2h-1.2zM279.3 108.4h1.2v1.2h-1.2zM263.1 120.1h1.3v1.3h-1.3zM295.6 105.3h0.7v0.7h-0.7zM260.6 108.3h0.6v0.6h-0.6zM313.5 112.6h0.9v0.9h-0.9zM310.3 107.0h1.2v1.2h-1.2zM271.9 116.9h1.3v1.3h-1.3zM268.0 130.5h1.3v1.3h-1.3zM280.2 123.0h0.7v0.7h-0.7zM270.7 121.7h1.2v1.2h-1.2zM277.8 112.8h1.1v1.1h-1.1z"/><path d="M254.6,106.3 L262.6,105.5 L270.6,106.1 L278.6,104.89999999999999 L286.6,105.7 L294.6,104.7 L300.6,104.1 L306.6,103.7 L309.6,101.3 L311.6,103.8 L313.6,102.3 L317.0,102.8" fill="none" stroke="#a040b0" stroke-width="1.1" stroke-dasharray="1.5,0.8"/><path d="M288.6,117.1 L300.6,116.1 L300.6,117.3 L288.6,118.3 Z" fill="#fff" opacity="0.8"/></g><rect x="254.6" y="90.3" width="62.4" height="46.9" filter="url(#grain)" opacity="0.3"/><g filter="url(#soft)"></g></g>
<rect x="254.60" y="90.30" width="62.40" height="46.90" fill="none" stroke="#3a3a3a" stroke-width="1" />
<g clip-path="url(#cp3)"><g filter="url(#soft)"><rect x="326.2" y="38.8" width="62" height="47.1" fill="#d0a2d8"/><path fill="#dcb4e2" opacity="0.6" d="M376.4 84.8h1.3v1.3h-1.3zM336.1 62.8h1.3v1.3h-1.3zM367.7 70.1h1.1v1.1h-1.1zM349.8 60.4h0.9v0.9h-0.9zM335.5 54.8h1.2v1.2h-1.2zM364.8 65.7h0.8v0.8h-0.8zM384.1 85.3h1.1v1.1h-1.1zM359.2 50.9h1.2v1.2h-1.2zM331.0 51.8h1.3v1.3h-1.3zM381.2 39.4h1.2v1.2h-1.2zM361.1 72.2h0.8v0.8h-0.8zM372.1 42.3h1.2v1.2h-1.2zM368.4 73.0h1.3v1.3h-1.3zM328.3 60.2h1.4v1.4h-1.4zM340.5 40.2h1.1v1.1h-1.1zM381.8 82.8h1.0v1.0h-1.0zM334.6 49.2h0.7v0.7h-0.7zM339.4 56.0h0.6v0.6h-0.6zM334.8 41.9h0.6v0.6h-0.6zM381.8 46.1h0.8v0.8h-0.8zM375.5 70.1h1.1v1.1h-1.1zM370.4 53.9h1.1v1.1h-1.1zM366.6 55.8h1.1v1.1h-1.1zM358.6 50.2h1.0v1.0h-1.0zM364.5 83.5h1.0v1.0h-1.0zM368.5 39.1h1.4v1.4h-1.4zM337.3 64.5h0.8v0.8h-0.8zM330.3 67.5h1.1v1.1h-1.1zM377.9 83.8h1.2v1.2h-1.2zM365.0 72.7h0.7v0.7h-0.7zM357.3 68.3h0.9v0.9h-0.9zM346.4 71.4h1.1v1.1h-1.1zM334.9 47.8h1.3v1.3h-1.3zM344.6 55.0h1.0v1.0h-1.0zM364.5 54.1h1.0v1.0h-1.0zM358.4 54.7h1.2v1.2h-1.2zM332.6 73.0h0.7v0.7h-0.7zM367.6 54.9h0.8v0.8h-0.8zM376.8 51.7h0.9v0.9h-0.9zM379.8 50.1h0.9v0.9h-0.9zM328.6 74.8h1.0v1.0h-1.0zM372.3 60.2h0.9v0.9h-0.9zM328.2 62.2h0.8v0.8h-0.8zM342.5 53.8h0.6v0.6h-0.6zM368.1 59.1h1.1v1.1h-1.1zM385.8 38.2h1.2v1.2h-1.2zM345.5 55.2h1.3v1.3h-1.3zM353.8 42.5h0.9v0.9h-0.9zM382.6 50.4h0.8v0.8h-0.8zM367.1 54.0h0.7v0.7h-0.7zM332.2 64.7h1.3v1.3h-1.3zM351.3 60.5h1.3v1.3h-1.3zM383.2 52.2h0.9v0.9h-0.9zM355.6 40.8h1.2v1.2h-1.2zM345.0 50.2h1.3v1.3h-1.3zM369.7 76.1h1.1v1.1h-1.1zM334.1 79.6h1.3v1.3h-1.3zM383.1 44.7h0.7v0.7h-0.7zM339.7 64.2h0.7v0.7h-0.7zM335.0 47.0h0.9v0.9h-0.9zM356.6 63.7h0.7v0.7h-0.7zM380.7 38.8h1.4v1.4h-1.4zM326.4 82.6h0.9v0.9h-0.9zM387.5 75.6h1.0v1.0h-1.0zM337.9 67.6h1.3v1.3h-1.3zM375.4 61.4h1.2v1.2h-1.2zM340.6 66.0h1.0v1.0h-1.0zM331.1 51.0h1.2v1.2h-1.2zM339.6 80.2h1.1v1.1h-1.1zM325.5 46.4h1.4v1.4h-1.4zM386.6 72.8h1.2v1.2h-1.2zM334.2 73.9h0.8v0.8h-0.8zM348.1 69.4h1.1v1.1h-1.1zM384.0 76.6h0.6v0.6h-0.6zM351.7 84.3h1.1v1.1h-1.1zM385.4 47.2h0.8v0.8h-0.8zM368.0 55.4h0.9v0.9h-0.9zM342.1 47.7h1.3v1.3h-1.3zM328.4 51.4h1.0v1.0h-1.0zM372.4 51.3h0.9v0.9h-0.9zM380.8 79.7h0.7v0.7h-0.7zM369.8 45.0h1.2v1.2h-1.2zM378.5 69.7h1.1v1.1h-1.1zM381.3 80.5h1.2v1.2h-1.2zM380.1 44.4h1.2v1.2h-1.2zM339.1 59.8h1.2v1.2h-1.2zM362.0 57.1h1.0v1.0h-1.0zM365.5 65.4h0.9v0.9h-0.9zM368.8 58.3h0.6v0.6h-0.6zM378.5 63.3h0.8v0.8h-0.8zM369.5 82.6h1.4v1.4h-1.4zM373.8 72.6h0.7v0.7h-0.7zM334.1 39.0h0.8v0.8h-0.8zM378.9 54.2h1.0v1.0h-1.0zM362.5 44.4h0.8v0.8h-0.8zM361.1 81.6h1.1v1.1h-1.1zM372.8 65.1h1.2v1.2h-1.2zM382.2 47.9h0.6v0.6h-0.6zM373.7 40.4h1.0v1.0h-1.0zM369.4 69.4h1.1v1.1h-1.1zM333.4 69.0h0.8v0.8h-0.8zM349.5 46.1h0.7v0.7h-0.7zM348.3 45.2h0.7v0.7h-0.7zM365.7 62.2h1.3v1.3h-1.3zM336.8 43.1h0.8v0.8h-0.8zM339.7 47.5h0.8v0.8h-0.8zM332.5 64.5h1.0v1.0h-1.0zM330.0 48.7h1.2v1.2h-1.2zM330.7 50.6h1.3v1.3h-1.3z"/><path fill="#e4c0e8" opacity="0.6" d="M364.7 62.9h1.3v1.3h-1.3zM379.7 80.5h1.0v1.0h-1.0zM361.5 57.8h0.7v0.7h-0.7zM385.0 61.5h1.4v1.4h-1.4zM344.9 79.5h1.0v1.0h-1.0zM385.1 58.0h1.3v1.3h-1.3zM327.9 69.7h0.9v0.9h-0.9zM340.8 44.5h0.8v0.8h-0.8zM360.0 60.2h1.2v1.2h-1.2zM357.0 49.0h1.0v1.0h-1.0zM362.2 55.7h0.8v0.8h-0.8zM350.0 42.5h0.7v0.7h-0.7zM343.0 57.1h1.3v1.3h-1.3zM336.8 43.6h1.3v1.3h-1.3zM370.1 40.4h0.6v0.6h-0.6zM359.8 67.8h1.4v1.4h-1.4zM379.9 65.8h1.2v1.2h-1.2zM357.4 70.3h0.8v0.8h-0.8zM336.4 45.9h1.2v1.2h-1.2zM347.2 42.6h1.1v1.1h-1.1zM334.1 71.5h1.1v1.1h-1.1zM369.4 38.5h1.2v1.2h-1.2zM383.8 54.9h0.8v0.8h-0.8zM359.8 74.3h0.7v0.7h-0.7zM362.7 59.9h1.2v1.2h-1.2zM332.9 52.0h0.9v0.9h-0.9zM332.5 61.4h0.9v0.9h-0.9zM373.8 77.9h0.8v0.8h-0.8zM385.2 62.9h1.3v1.3h-1.3zM349.3 68.8h0.9v0.9h-0.9zM331.3 40.2h1.0v1.0h-1.0zM381.1 41.5h0.6v0.6h-0.6zM331.0 53.6h1.0v1.0h-1.0zM379.3 63.2h1.1v1.1h-1.1zM339.4 73.1h1.2v1.2h-1.2zM339.4 77.7h1.1v1.1h-1.1zM378.4 70.2h1.2v1.2h-1.2zM377.3 56.9h0.7v0.7h-0.7zM351.0 40.7h0.6v0.6h-0.6zM383.2 70.2h0.8v0.8h-0.8zM384.6 39.0h0.9v0.9h-0.9zM348.2 63.3h0.8v0.8h-0.8zM345.2 54.1h1.0v1.0h-1.0zM342.7 61.9h0.8v0.8h-0.8zM348.1 51.4h1.2v1.2h-1.2zM350.7 56.8h1.2v1.2h-1.2zM330.1 47.1h1.3v1.3h-1.3zM347.9 55.4h0.9v0.9h-0.9zM383.9 67.9h0.7v0.7h-0.7zM371.3 80.7h1.3v1.3h-1.3zM350.9 81.4h1.4v1.4h-1.4zM327.5 39.2h1.2v1.2h-1.2zM344.3 85.2h0.8v0.8h-0.8zM355.2 82.2h1.2v1.2h-1.2zM375.4 45.3h1.3v1.3h-1.3zM329.5 43.3h1.4v1.4h-1.4zM358.4 38.5h0.8v0.8h-0.8zM377.9 83.6h0.7v0.7h-0.7zM350.5 53.3h0.9v0.9h-0.9zM349.7 56.5h0.9v0.9h-0.9zM368.5 72.5h1.4v1.4h-1.4zM357.1 66.0h1.4v1.4h-1.4zM358.2 60.9h0.8v0.8h-0.8zM329.8 74.0h0.9v0.9h-0.9zM358.5 76.7h0.8v0.8h-0.8zM368.8 59.5h1.0v1.0h-1.0zM331.2 68.1h1.3v1.3h-1.3zM347.5 56.4h1.1v1.1h-1.1zM361.1 39.0h1.0v1.0h-1.0zM383.4 69.1h1.2v1.2h-1.2zM327.9 48.7h1.0v1.0h-1.0zM351.0 72.7h0.8v0.8h-0.8zM336.8 81.7h1.0v1.0h-1.0zM375.6 63.6h0.7v0.7h-0.7zM346.0 78.1h0.7v0.7h-0.7zM332.9 77.5h0.7v0.7h-0.7zM338.1 60.4h1.2v1.2h-1.2zM328.8 54.0h1.0v1.0h-1.0zM328.2 65.6h0.9v0.9h-0.9zM351.6 77.9h0.7v0.7h-0.7zM377.9 79.4h1.0v1.0h-1.0zM342.0 43.4h0.8v0.8h-0.8zM348.5 47.7h0.9v0.9h-0.9zM386.9 81.0h1.2v1.2h-1.2zM374.9 71.5h0.8v0.8h-0.8zM346.9 76.5h1.0v1.0h-1.0zM327.8 75.6h0.7v0.7h-0.7zM335.2 54.7h0.7v0.7h-0.7zM331.5 72.2h0.9v0.9h-0.9zM371.8 77.4h1.2v1.2h-1.2zM329.8 75.1h1.2v1.2h-1.2zM351.1 63.8h0.8v0.8h-0.8zM367.9 40.1h1.3v1.3h-1.3zM350.0 54.1h0.7v0.7h-0.7zM344.7 53.2h1.3v1.3h-1.3zM360.2 59.3h1.2v1.2h-1.2zM347.7 82.7h0.8v0.8h-0.8zM377.3 71.7h1.3v1.3h-1.3zM350.6 61.9h0.9v0.9h-0.9zM338.9 72.5h1.2v1.2h-1.2zM328.3 77.4h0.7v0.7h-0.7zM343.8 82.2h1.4v1.4h-1.4zM337.7 67.5h0.7v0.7h-0.7zM352.8 47.5h1.2v1.2h-1.2zM387.4 52.9h0.6v0.6h-0.6zM374.8 60.6h1.3v1.3h-1.3zM338.9 50.4h0.6v0.6h-0.6zM355.9 68.5h0.8v0.8h-0.8zM336.0 68.9h1.3v1.3h-1.3zM370.0 60.3h1.3v1.3h-1.3zM333.1 61.8h0.9v0.9h-0.9zM375.5 80.4h0.6v0.6h-0.6zM328.5 49.5h1.3v1.3h-1.3zM373.0 80.0h0.7v0.7h-0.7zM337.2 62.0h1.3v1.3h-1.3zM334.7 66.7h1.4v1.4h-1.4zM326.3 42.0h0.7v0.7h-0.7zM358.0 59.8h0.9v0.9h-0.9zM377.8 72.2h0.6v0.6h-0.6zM378.2 58.4h1.3v1.3h-1.3zM364.2 52.2h0.8v0.8h-0.8zM385.6 45.9h1.0v1.0h-1.0zM370.1 58.8h0.7v0.7h-0.7zM331.3 79.0h1.1v1.1h-1.1zM379.2 60.1h0.9v0.9h-0.9zM327.7 77.4h0.8v0.8h-0.8zM348.6 46.1h1.1v1.1h-1.1zM333.1 61.0h0.7v0.7h-0.7zM332.5 82.7h1.0v1.0h-1.0zM333.1 84.7h1.0v1.0h-1.0zM365.8 70.8h0.6v0.6h-0.6zM378.7 55.5h1.3v1.3h-1.3zM353.6 78.4h0.8v0.8h-0.8zM377.8 52.7h0.9v0.9h-0.9z"/><path fill="#bc88cc" opacity="0.6" d="M357.1 47.3h0.7v0.7h-0.7zM347.5 85.1h1.1v1.1h-1.1zM368.8 39.0h0.6v0.6h-0.6zM382.7 57.2h0.7v0.7h-0.7zM358.0 62.5h0.6v0.6h-0.6zM334.7 49.6h0.8v0.8h-0.8zM342.1 42.8h1.3v1.3h-1.3zM347.4 59.5h0.9v0.9h-0.9zM339.2 56.8h1.2v1.2h-1.2zM353.1 67.6h0.8v0.8h-0.8zM335.7 66.1h0.7v0.7h-0.7zM331.2 46.4h0.9v0.9h-0.9zM385.9 52.0h1.0v1.0h-1.0zM346.5 79.4h0.9v0.9h-0.9zM333.4 73.6h1.1v1.1h-1.1zM327.6 72.3h0.7v0.7h-0.7zM341.2 78.2h0.9v0.9h-0.9zM352.5 74.1h0.7v0.7h-0.7zM367.1 65.2h1.3v1.3h-1.3zM377.5 75.0h0.8v0.8h-0.8zM387.7 67.4h0.8v0.8h-0.8zM362.1 49.6h1.1v1.1h-1.1zM328.5 80.6h0.8v0.8h-0.8zM353.4 65.2h0.8v0.8h-0.8zM374.4 53.5h0.9v0.9h-0.9zM366.1 41.9h1.2v1.2h-1.2zM371.0 85.2h1.1v1.1h-1.1zM386.1 83.6h1.1v1.1h-1.1zM332.6 46.6h1.3v1.3h-1.3zM339.9 65.4h0.7v0.7h-0.7zM379.1 64.1h1.2v1.2h-1.2zM360.8 74.9h0.7v0.7h-0.7zM354.3 44.1h0.7v0.7h-0.7zM336.2 73.5h0.9v0.9h-0.9zM370.4 40.3h1.1v1.1h-1.1zM347.7 53.7h1.1v1.1h-1.1zM356.1 61.3h0.6v0.6h-0.6zM350.0 79.4h1.1v1.1h-1.1zM326.8 59.7h1.4v1.4h-1.4zM387.2 39.9h1.0v1.0h-1.0zM379.7 74.7h1.1v1.1h-1.1zM381.5 51.4h0.8v0.8h-0.8zM372.8 67.9h0.8v0.8h-0.8zM379.4 68.9h0.8v0.8h-0.8zM370.4 38.6h0.8v0.8h-0.8zM336.4 78.8h1.2v1.2h-1.2zM335.5 39.3h0.8v0.8h-0.8zM335.1 68.0h0.9v0.9h-0.9zM381.7 56.7h0.8v0.8h-0.8zM379.3 85.2h0.8v0.8h-0.8zM382.1 45.3h1.2v1.2h-1.2zM386.5 40.0h0.8v0.8h-0.8zM378.7 84.2h0.8v0.8h-0.8zM342.7 46.7h0.8v0.8h-0.8zM366.8 42.3h1.1v1.1h-1.1zM335.3 69.6h0.7v0.7h-0.7zM333.4 45.6h0.8v0.8h-0.8zM375.4 50.2h1.0v1.0h-1.0zM382.8 72.1h0.9v0.9h-0.9zM386.3 78.4h1.1v1.1h-1.1zM349.2 63.1h1.0v1.0h-1.0zM350.3 44.6h1.2v1.2h-1.2zM367.3 73.2h0.9v0.9h-0.9zM373.5 44.0h0.8v0.8h-0.8zM378.0 44.9h0.9v0.9h-0.9zM379.8 45.2h0.9v0.9h-0.9zM337.2 63.7h1.0v1.0h-1.0zM348.5 76.2h0.8v0.8h-0.8zM329.2 58.7h1.1v1.1h-1.1zM357.8 60.4h0.8v0.8h-0.8zM369.5 59.2h0.9v0.9h-0.9zM356.0 39.0h1.2v1.2h-1.2zM338.2 51.6h0.8v0.8h-0.8zM361.6 52.4h1.1v1.1h-1.1zM375.9 72.4h1.0v1.0h-1.0zM374.6 66.4h1.0v1.0h-1.0zM348.1 69.7h0.7v0.7h-0.7zM331.0 46.2h1.3v1.3h-1.3zM352.1 67.9h0.7v0.7h-0.7zM331.0 65.7h0.8v0.8h-0.8zM376.7 41.8h0.9v0.9h-0.9zM383.0 70.5h1.2v1.2h-1.2zM358.5 54.0h0.7v0.7h-0.7zM333.9 77.1h1.3v1.3h-1.3zM372.0 66.2h1.1v1.1h-1.1zM361.2 82.1h1.3v1.3h-1.3zM326.2 61.5h0.6v0.6h-0.6zM378.9 83.9h0.9v0.9h-0.9zM360.7 69.2h1.2v1.2h-1.2zM356.5 71.1h0.6v0.6h-0.6zM334.6 65.9h1.1v1.1h-1.1zM364.5 49.6h1.2v1.2h-1.2zM345.8 77.6h1.0v1.0h-1.0zM375.1 54.8h0.7v0.7h-0.7zM338.0 53.4h1.0v1.0h-1.0zM365.6 83.8h1.1v1.1h-1.1zM368.2 82.0h0.7v0.7h-0.7zM335.0 69.8h1.2v1.2h-1.2zM342.8 41.1h1.0v1.0h-1.0zM339.3 75.8h0.8v0.8h-0.8zM351.9 41.2h1.1v1.1h-1.1zM385.1 53.6h1.4v1.4h-1.4zM343.1 47.4h1.2v1.2h-1.2zM371.9 82.8h1.3v1.3h-1.3zM327.2 76.4h1.4v1.4h-1.4zM354.3 40.2h1.3v1.3h-1.3zM338.2 54.8h1.3v1.3h-1.3zM365.2 73.4h0.6v0.6h-0.6zM342.2 45.7h0.6v0.6h-0.6zM375.7 46.0h1.0v1.0h-1.0zM357.4 83.4h0.9v0.9h-0.9zM330.1 39.6h1.1v1.1h-1.1zM356.8 67.5h1.1v1.1h-1.1zM350.2 38.6h1.2v1.2h-1.2zM367.8 42.5h0.8v0.8h-0.8zM382.4 72.7h1.2v1.2h-1.2zM342.7 50.1h0.9v0.9h-0.9zM352.2 54.3h0.7v0.7h-0.7zM383.7 57.3h1.3v1.3h-1.3zM365.8 48.5h1.2v1.2h-1.2zM372.5 50.1h0.8v0.8h-0.8zM330.5 72.6h1.0v1.0h-1.0zM368.7 46.3h1.4v1.4h-1.4zM375.6 70.0h0.8v0.8h-0.8zM366.8 46.9h0.7v0.7h-0.7zM377.7 41.1h0.8v0.8h-0.8zM361.2 49.0h0.7v0.7h-0.7zM382.0 46.0h1.2v1.2h-1.2zM340.3 39.7h1.0v1.0h-1.0zM347.9 60.2h1.3v1.3h-1.3zM358.1 62.4h0.9v0.9h-0.9zM331.7 51.4h1.2v1.2h-1.2zM357.2 67.7h1.2v1.2h-1.2zM334.5 76.0h1.4v1.4h-1.4zM369.1 39.1h1.0v1.0h-1.0z"/><path fill="#c496d4" opacity="0.6" d="M367.1 47.6h1.0v1.0h-1.0zM375.9 41.4h0.6v0.6h-0.6zM381.5 76.8h0.8v0.8h-0.8zM345.8 69.7h0.7v0.7h-0.7zM375.7 74.1h0.8v0.8h-0.8zM383.8 46.7h0.9v0.9h-0.9zM368.0 40.1h0.9v0.9h-0.9zM347.4 83.0h1.0v1.0h-1.0zM355.9 47.0h1.4v1.4h-1.4zM359.6 50.2h0.6v0.6h-0.6zM369.4 59.6h0.7v0.7h-0.7zM330.7 71.9h1.4v1.4h-1.4zM365.5 67.7h1.3v1.3h-1.3zM332.1 72.2h0.8v0.8h-0.8zM348.6 64.3h0.9v0.9h-0.9zM384.7 60.9h1.1v1.1h-1.1zM348.0 49.6h1.0v1.0h-1.0zM364.2 79.4h1.1v1.1h-1.1zM376.9 44.1h0.9v0.9h-0.9zM332.9 39.4h0.7v0.7h-0.7zM377.6 66.1h0.8v0.8h-0.8zM362.4 40.5h0.7v0.7h-0.7zM370.8 53.9h1.0v1.0h-1.0zM367.8 52.5h1.2v1.2h-1.2zM356.8 80.3h1.2v1.2h-1.2zM362.0 45.0h1.2v1.2h-1.2zM370.6 64.1h1.3v1.3h-1.3zM370.3 81.6h1.3v1.3h-1.3zM339.4 57.2h0.8v0.8h-0.8zM385.6 66.8h0.7v0.7h-0.7zM365.5 81.9h0.8v0.8h-0.8zM379.5 39.6h1.0v1.0h-1.0zM341.8 60.3h0.6v0.6h-0.6zM360.9 85.0h0.6v0.6h-0.6zM366.5 66.7h0.9v0.9h-0.9zM376.3 61.0h0.6v0.6h-0.6zM366.0 64.1h1.2v1.2h-1.2zM348.2 63.3h0.8v0.8h-0.8zM326.2 60.6h1.1v1.1h-1.1zM359.9 46.7h1.4v1.4h-1.4zM386.6 61.7h1.1v1.1h-1.1zM339.9 47.8h1.2v1.2h-1.2zM338.7 40.6h1.2v1.2h-1.2zM346.7 81.5h1.2v1.2h-1.2zM369.2 72.8h0.6v0.6h-0.6zM364.8 63.8h1.4v1.4h-1.4zM385.8 47.7h0.6v0.6h-0.6zM359.3 64.1h1.2v1.2h-1.2zM381.5 68.3h0.8v0.8h-0.8zM382.0 40.6h1.2v1.2h-1.2zM376.7 75.4h1.3v1.3h-1.3zM369.8 56.8h1.0v1.0h-1.0zM330.1 75.8h1.1v1.1h-1.1zM341.8 77.8h1.3v1.3h-1.3zM348.3 69.5h1.0v1.0h-1.0zM372.7 45.3h1.1v1.1h-1.1zM356.0 69.3h1.1v1.1h-1.1zM361.2 41.1h0.7v0.7h-0.7zM333.7 83.5h0.8v0.8h-0.8zM369.9 52.2h0.9v0.9h-0.9zM360.6 40.8h1.1v1.1h-1.1zM357.6 58.3h0.6v0.6h-0.6zM341.1 56.2h0.9v0.9h-0.9zM344.7 44.6h0.8v0.8h-0.8zM371.1 38.9h0.7v0.7h-0.7zM356.5 70.0h1.1v1.1h-1.1zM384.6 57.8h1.1v1.1h-1.1zM343.9 49.2h1.1v1.1h-1.1zM369.6 72.3h0.8v0.8h-0.8zM350.0 39.9h0.9v0.9h-0.9zM387.4 82.5h1.0v1.0h-1.0zM385.5 54.3h1.4v1.4h-1.4zM346.3 55.6h0.7v0.7h-0.7zM341.1 65.3h0.6v0.6h-0.6zM328.2 67.3h1.2v1.2h-1.2zM352.6 77.1h1.2v1.2h-1.2zM349.9 75.1h1.2v1.2h-1.2zM377.1 57.6h0.7v0.7h-0.7zM366.9 80.9h0.9v0.9h-0.9zM380.2 60.7h0.9v0.9h-0.9zM354.2 54.2h0.8v0.8h-0.8zM350.3 60.4h0.6v0.6h-0.6zM330.4 67.7h1.0v1.0h-1.0zM371.1 73.8h0.6v0.6h-0.6zM355.4 38.5h1.3v1.3h-1.3zM387.5 46.4h1.1v1.1h-1.1zM356.3 84.3h0.9v0.9h-0.9zM335.9 73.2h0.7v0.7h-0.7zM381.8 65.8h1.4v1.4h-1.4zM356.9 57.7h0.7v0.7h-0.7zM358.5 51.8h1.1v1.1h-1.1zM353.6 38.8h1.0v1.0h-1.0zM373.5 56.7h1.4v1.4h-1.4zM367.4 80.9h0.7v0.7h-0.7zM363.8 51.4h0.7v0.7h-0.7zM363.5 80.9h0.8v0.8h-0.8zM367.5 84.1h1.2v1.2h-1.2zM327.3 62.8h0.7v0.7h-0.7zM339.4 46.3h1.2v1.2h-1.2zM339.5 79.0h1.4v1.4h-1.4zM373.5 47.7h1.2v1.2h-1.2zM329.8 48.2h0.6v0.6h-0.6zM360.3 67.8h1.1v1.1h-1.1zM373.5 54.3h1.3v1.3h-1.3zM373.7 60.3h1.4v1.4h-1.4zM386.8 67.3h0.7v0.7h-0.7zM331.3 51.3h0.8v0.8h-0.8zM341.4 52.5h0.9v0.9h-0.9zM372.8 77.5h1.4v1.4h-1.4zM346.9 64.0h0.9v0.9h-0.9zM325.9 74.7h0.8v0.8h-0.8zM375.1 63.5h0.7v0.7h-0.7zM363.7 67.4h0.7v0.7h-0.7zM366.3 66.4h1.2v1.2h-1.2zM378.3 41.9h0.7v0.7h-0.7zM342.2 82.0h1.3v1.3h-1.3zM348.4 72.5h0.7v0.7h-0.7zM378.4 49.5h1.3v1.3h-1.3zM379.6 40.6h1.1v1.1h-1.1zM352.2 41.3h0.8v0.8h-0.8zM374.3 44.4h1.2v1.2h-1.2zM373.7 69.7h0.7v0.7h-0.7z"/><circle cx="384" cy="46" r="1.2" fill="#7a6aa8"/></g><rect x="326.2" y="38.8" width="62" height="47.1" filter="url(#grain)" opacity="0.35"/><rect x="326.2" y="38.8" width="62" height="47.1" filter="url(#grainD)" opacity="0.3"/><g filter="url(#soft)"><path d="M332.5,75.5 L345,67 L358,59.6 L375.5,50 L376.6,51.6 L361,62.6 L348.5,71.8 L338.5,79.5 Z" fill="#eea4dc" opacity="0.75"/><path d="M367,56 L371,53 L372,54.5 L368,57.2 Z M356,62.5 L359,60.8 L359.5,62 Z" fill="#f06ab8" opacity="0.8"/><path d="M334.5,79.8 L338.5,77.5 L339.5,78.6 L335.5,81 Z M340,75.5 L342,74.5 L342.4,75.4 Z" fill="#fff"/><path d="M378,86 L381,82 L384,81 L388.2,77 L388.2,86 Z" fill="#f2eef2"/></g></g>
<rect x="326.20" y="38.80" width="62.00" height="47.10" fill="none" stroke="#3a3a3a" stroke-width="1" />
<g clip-path="url(#cp4)"><g filter="url(#soft)"><rect x="326.2" y="89.7" width="62" height="47" fill="#c986d2"/><path fill="#b070c4" opacity="0.6" d="M383.9 108.0h1.1v1.1h-1.1zM327.7 97.6h0.9v0.9h-0.9zM361.1 125.5h0.8v0.8h-0.8zM387.7 95.6h0.9v0.9h-0.9zM331.5 109.5h1.3v1.3h-1.3zM375.7 119.9h1.0v1.0h-1.0zM381.5 134.6h0.8v0.8h-0.8zM376.5 117.3h1.3v1.3h-1.3zM327.4 126.6h1.3v1.3h-1.3zM381.6 126.2h0.8v0.8h-0.8zM351.7 111.8h0.8v0.8h-0.8zM383.3 101.7h0.8v0.8h-0.8zM347.0 112.4h0.8v0.8h-0.8zM375.7 126.5h0.8v0.8h-0.8zM376.9 111.4h0.9v0.9h-0.9zM387.6 131.6h0.7v0.7h-0.7zM336.7 118.9h0.8v0.8h-0.8zM368.3 111.7h0.8v0.8h-0.8zM329.8 121.5h0.6v0.6h-0.6zM378.6 120.3h0.9v0.9h-0.9zM334.6 121.9h1.2v1.2h-1.2zM327.6 131.9h1.1v1.1h-1.1zM368.2 120.4h0.6v0.6h-0.6zM378.4 130.6h0.7v0.7h-0.7zM371.1 106.3h0.7v0.7h-0.7zM348.6 118.1h1.0v1.0h-1.0zM361.2 94.1h1.1v1.1h-1.1zM338.6 106.3h0.9v0.9h-0.9zM332.0 126.5h1.1v1.1h-1.1zM337.0 132.0h1.0v1.0h-1.0zM339.3 118.9h0.6v0.6h-0.6zM363.2 131.8h0.8v0.8h-0.8zM384.4 110.2h0.7v0.7h-0.7zM362.5 96.1h0.7v0.7h-0.7zM347.7 107.4h0.7v0.7h-0.7zM365.6 110.9h1.3v1.3h-1.3zM384.9 118.5h0.7v0.7h-0.7zM343.2 95.4h1.3v1.3h-1.3zM363.4 115.6h1.3v1.3h-1.3zM348.7 107.5h0.9v0.9h-0.9zM339.4 109.9h0.7v0.7h-0.7zM384.2 114.9h1.3v1.3h-1.3zM373.5 96.0h1.3v1.3h-1.3zM372.1 129.6h0.9v0.9h-0.9zM386.4 91.2h0.6v0.6h-0.6zM335.8 131.0h1.2v1.2h-1.2zM356.6 121.7h0.7v0.7h-0.7zM356.6 132.5h1.2v1.2h-1.2zM378.9 135.7h1.0v1.0h-1.0zM361.9 109.1h1.3v1.3h-1.3zM362.3 95.5h0.9v0.9h-0.9zM330.8 110.4h0.9v0.9h-0.9zM376.2 90.8h1.0v1.0h-1.0zM379.0 99.8h0.8v0.8h-0.8zM339.4 131.8h1.1v1.1h-1.1zM373.1 117.0h0.7v0.7h-0.7zM345.3 90.7h0.8v0.8h-0.8zM360.0 98.9h1.0v1.0h-1.0zM383.1 135.8h1.1v1.1h-1.1zM367.3 107.1h1.4v1.4h-1.4zM329.7 128.0h1.4v1.4h-1.4zM348.1 120.1h1.4v1.4h-1.4zM362.2 109.4h1.0v1.0h-1.0zM337.9 101.3h1.2v1.2h-1.2zM346.6 92.8h1.2v1.2h-1.2zM336.2 109.3h1.3v1.3h-1.3zM369.6 109.5h0.7v0.7h-0.7zM376.5 126.4h0.8v0.8h-0.8zM327.9 108.6h1.3v1.3h-1.3zM333.6 92.4h0.9v0.9h-0.9zM368.8 116.2h1.4v1.4h-1.4zM364.3 120.3h0.7v0.7h-0.7zM359.3 102.8h1.3v1.3h-1.3zM365.2 121.9h0.8v0.8h-0.8zM375.6 100.0h0.9v0.9h-0.9zM370.4 124.0h0.7v0.7h-0.7zM351.9 96.2h1.2v1.2h-1.2zM387.0 107.7h0.7v0.7h-0.7zM368.0 118.7h0.8v0.8h-0.8zM361.7 116.2h0.8v0.8h-0.8zM354.8 125.3h1.3v1.3h-1.3zM327.9 104.4h1.1v1.1h-1.1zM340.9 116.8h0.9v0.9h-0.9zM373.6 111.5h1.4v1.4h-1.4zM335.8 132.2h1.3v1.3h-1.3zM376.8 120.0h0.7v0.7h-0.7zM342.4 129.1h0.7v0.7h-0.7zM363.2 95.4h0.9v0.9h-0.9zM367.2 103.2h1.2v1.2h-1.2zM334.1 103.7h0.6v0.6h-0.6zM366.2 100.9h1.1v1.1h-1.1zM369.1 97.1h1.1v1.1h-1.1zM377.5 122.8h0.9v0.9h-0.9zM353.2 130.9h1.1v1.1h-1.1zM365.9 106.7h1.0v1.0h-1.0zM360.0 123.8h0.7v0.7h-0.7zM338.0 99.0h0.8v0.8h-0.8zM372.2 110.5h1.0v1.0h-1.0zM363.8 119.0h1.2v1.2h-1.2zM357.7 115.2h1.3v1.3h-1.3zM382.1 109.8h1.2v1.2h-1.2zM383.1 94.4h0.8v0.8h-0.8zM375.8 106.2h1.2v1.2h-1.2zM326.8 96.4h0.8v0.8h-0.8zM376.2 115.1h1.1v1.1h-1.1zM361.8 103.7h1.4v1.4h-1.4zM359.5 120.1h0.8v0.8h-0.8zM362.1 103.3h0.8v0.8h-0.8zM334.2 115.1h0.7v0.7h-0.7zM369.9 93.6h1.1v1.1h-1.1zM381.0 114.1h1.0v1.0h-1.0zM354.6 109.9h1.1v1.1h-1.1zM327.1 93.8h1.2v1.2h-1.2zM361.1 90.6h1.3v1.3h-1.3zM328.6 112.7h1.0v1.0h-1.0zM353.5 111.1h1.1v1.1h-1.1zM384.6 136.1h1.0v1.0h-1.0zM346.8 118.9h0.9v0.9h-0.9zM338.5 105.2h0.6v0.6h-0.6zM371.0 126.8h1.1v1.1h-1.1zM347.6 111.4h0.7v0.7h-0.7zM382.1 115.6h1.4v1.4h-1.4zM364.3 111.6h1.1v1.1h-1.1zM363.7 95.7h1.2v1.2h-1.2zM328.8 94.8h1.3v1.3h-1.3zM350.2 114.8h1.3v1.3h-1.3zM357.0 95.8h1.3v1.3h-1.3zM380.8 100.5h1.2v1.2h-1.2zM375.7 114.6h1.0v1.0h-1.0zM347.5 130.7h0.7v0.7h-0.7z"/><path fill="#bc7ccc" opacity="0.6" d="M348.2 112.1h0.7v0.7h-0.7zM345.0 126.2h0.8v0.8h-0.8zM379.7 108.9h1.0v1.0h-1.0zM353.4 112.7h1.0v1.0h-1.0zM362.5 101.2h0.9v0.9h-0.9zM365.4 108.4h1.4v1.4h-1.4zM385.4 131.6h0.8v0.8h-0.8zM361.8 133.5h1.1v1.1h-1.1zM338.0 89.9h1.0v1.0h-1.0zM369.0 89.5h0.8v0.8h-0.8zM354.9 92.7h0.9v0.9h-0.9zM364.5 122.0h0.8v0.8h-0.8zM372.3 128.7h0.9v0.9h-0.9zM340.7 101.4h0.9v0.9h-0.9zM363.9 131.7h0.8v0.8h-0.8zM339.6 125.3h1.3v1.3h-1.3zM350.4 113.9h0.8v0.8h-0.8zM338.0 94.8h1.0v1.0h-1.0zM345.3 111.5h1.2v1.2h-1.2zM358.8 125.8h1.2v1.2h-1.2zM364.1 94.2h1.0v1.0h-1.0zM355.0 134.1h1.1v1.1h-1.1zM372.1 132.2h1.0v1.0h-1.0zM386.3 118.2h0.9v0.9h-0.9zM379.4 116.4h0.6v0.6h-0.6zM363.1 131.3h1.4v1.4h-1.4zM339.7 104.0h1.3v1.3h-1.3zM344.4 118.3h0.9v0.9h-0.9zM372.6 127.5h0.8v0.8h-0.8zM349.4 128.8h0.7v0.7h-0.7zM374.7 128.6h1.4v1.4h-1.4zM345.3 105.3h1.3v1.3h-1.3zM358.1 127.6h1.2v1.2h-1.2zM372.1 122.6h1.2v1.2h-1.2zM381.4 115.5h0.9v0.9h-0.9zM354.0 119.0h1.4v1.4h-1.4zM335.6 108.4h1.1v1.1h-1.1zM374.7 116.9h1.1v1.1h-1.1zM363.9 127.1h1.0v1.0h-1.0zM348.3 131.3h0.9v0.9h-0.9zM332.8 96.9h0.7v0.7h-0.7zM384.9 132.8h1.1v1.1h-1.1zM374.7 126.1h1.3v1.3h-1.3zM345.5 124.9h0.8v0.8h-0.8zM335.5 129.5h1.0v1.0h-1.0zM334.9 124.9h1.1v1.1h-1.1zM363.1 109.5h1.3v1.3h-1.3zM356.4 123.2h0.8v0.8h-0.8zM373.3 121.7h1.1v1.1h-1.1zM385.0 91.2h1.3v1.3h-1.3zM347.4 129.1h1.3v1.3h-1.3zM354.4 111.2h1.2v1.2h-1.2zM365.6 124.8h1.1v1.1h-1.1zM338.9 108.8h1.0v1.0h-1.0zM355.6 114.2h0.8v0.8h-0.8zM385.1 110.6h0.9v0.9h-0.9zM372.6 100.5h0.7v0.7h-0.7zM342.4 135.2h0.7v0.7h-0.7zM332.1 133.1h0.8v0.8h-0.8zM348.9 106.5h0.7v0.7h-0.7zM332.7 126.8h0.7v0.7h-0.7zM351.1 114.5h0.8v0.8h-0.8zM335.3 92.5h1.0v1.0h-1.0zM374.8 126.5h0.7v0.7h-0.7zM340.4 99.4h1.4v1.4h-1.4zM347.3 121.9h0.9v0.9h-0.9zM331.5 99.7h0.7v0.7h-0.7zM351.8 120.5h0.7v0.7h-0.7zM342.7 125.3h1.2v1.2h-1.2zM376.9 135.4h0.9v0.9h-0.9zM346.9 108.5h0.9v0.9h-0.9zM332.6 102.0h1.0v1.0h-1.0zM357.4 95.1h0.8v0.8h-0.8zM348.6 109.5h1.0v1.0h-1.0zM332.1 114.2h0.7v0.7h-0.7zM378.9 98.9h1.3v1.3h-1.3zM378.2 117.5h1.0v1.0h-1.0zM343.1 93.0h1.4v1.4h-1.4zM377.8 106.2h1.4v1.4h-1.4zM370.3 123.8h0.7v0.7h-0.7zM358.8 129.9h0.8v0.8h-0.8zM327.3 123.2h0.6v0.6h-0.6zM379.7 135.7h1.0v1.0h-1.0zM360.2 89.6h0.6v0.6h-0.6zM339.2 134.1h0.9v0.9h-0.9zM356.7 90.3h1.2v1.2h-1.2zM342.2 105.7h0.7v0.7h-0.7zM335.2 97.1h1.3v1.3h-1.3zM358.9 99.3h1.2v1.2h-1.2zM386.6 96.7h0.8v0.8h-0.8zM333.0 99.9h0.6v0.6h-0.6zM351.3 133.0h0.9v0.9h-0.9zM387.6 113.3h0.7v0.7h-0.7zM381.6 109.6h0.6v0.6h-0.6zM334.7 107.9h0.6v0.6h-0.6zM346.5 95.2h1.1v1.1h-1.1zM333.0 123.7h0.7v0.7h-0.7zM363.2 97.4h0.7v0.7h-0.7zM330.7 118.0h1.1v1.1h-1.1zM334.2 127.8h0.9v0.9h-0.9zM331.6 113.5h0.9v0.9h-0.9zM332.8 113.1h1.0v1.0h-1.0zM348.7 108.4h1.3v1.3h-1.3zM330.8 129.9h0.7v0.7h-0.7zM368.1 98.3h1.1v1.1h-1.1zM349.9 95.8h1.0v1.0h-1.0zM358.2 95.9h1.0v1.0h-1.0zM340.8 102.5h1.4v1.4h-1.4zM342.3 108.1h0.8v0.8h-0.8zM362.7 132.4h1.2v1.2h-1.2zM346.2 122.2h1.3v1.3h-1.3zM361.7 89.8h0.9v0.9h-0.9zM371.0 111.2h1.2v1.2h-1.2zM328.5 130.4h1.1v1.1h-1.1zM369.6 133.9h0.6v0.6h-0.6zM371.0 128.5h1.2v1.2h-1.2zM341.1 113.5h0.9v0.9h-0.9zM335.1 110.1h1.3v1.3h-1.3zM346.0 92.6h0.9v0.9h-0.9zM381.5 91.6h1.3v1.3h-1.3zM331.6 125.1h1.2v1.2h-1.2zM368.1 129.1h1.1v1.1h-1.1zM375.8 117.8h0.7v0.7h-0.7zM338.4 103.8h0.6v0.6h-0.6z"/><path fill="#e0a8e6" opacity="0.6" d="M357.4 133.8h1.0v1.0h-1.0zM364.1 99.2h1.3v1.3h-1.3zM360.7 122.8h0.7v0.7h-0.7zM360.6 102.1h0.9v0.9h-0.9zM374.7 101.1h1.1v1.1h-1.1zM381.6 92.4h1.2v1.2h-1.2zM355.1 121.0h1.2v1.2h-1.2zM349.3 112.5h0.9v0.9h-0.9zM365.5 130.7h0.7v0.7h-0.7zM348.5 134.3h1.2v1.2h-1.2zM364.9 122.1h1.4v1.4h-1.4zM348.5 129.1h1.1v1.1h-1.1zM332.6 132.9h1.4v1.4h-1.4zM370.5 90.6h1.2v1.2h-1.2zM331.2 91.5h1.0v1.0h-1.0zM333.8 129.4h1.4v1.4h-1.4zM372.9 107.8h0.8v0.8h-0.8zM375.4 90.5h1.0v1.0h-1.0zM372.6 125.4h1.1v1.1h-1.1zM376.5 119.7h0.6v0.6h-0.6zM367.1 91.6h1.3v1.3h-1.3zM354.8 110.8h1.2v1.2h-1.2zM345.9 90.3h1.2v1.2h-1.2zM355.6 108.6h1.3v1.3h-1.3zM327.0 95.2h1.4v1.4h-1.4zM338.3 103.5h0.9v0.9h-0.9zM356.4 124.7h0.6v0.6h-0.6zM363.1 106.8h1.3v1.3h-1.3zM379.4 106.0h1.3v1.3h-1.3zM356.9 131.4h1.3v1.3h-1.3zM357.3 133.0h1.0v1.0h-1.0zM335.4 110.0h0.6v0.6h-0.6zM375.6 131.8h0.7v0.7h-0.7zM359.0 100.0h1.3v1.3h-1.3zM350.8 122.9h1.4v1.4h-1.4zM344.9 119.1h1.0v1.0h-1.0zM337.7 104.0h1.0v1.0h-1.0zM375.3 96.5h1.0v1.0h-1.0zM342.7 104.7h1.3v1.3h-1.3zM384.1 107.1h0.7v0.7h-0.7zM329.5 127.2h0.7v0.7h-0.7zM364.9 122.6h0.7v0.7h-0.7zM328.0 104.5h1.2v1.2h-1.2zM386.0 135.9h1.2v1.2h-1.2zM357.6 96.3h0.6v0.6h-0.6zM378.0 106.1h1.2v1.2h-1.2zM381.0 98.0h1.4v1.4h-1.4zM329.0 135.6h1.0v1.0h-1.0zM330.6 126.2h1.3v1.3h-1.3zM347.1 133.2h0.7v0.7h-0.7zM348.3 134.1h1.4v1.4h-1.4zM356.7 102.6h0.9v0.9h-0.9zM355.6 133.0h0.8v0.8h-0.8zM348.1 117.7h0.8v0.8h-0.8zM369.7 116.8h0.9v0.9h-0.9zM347.4 122.6h1.0v1.0h-1.0zM326.6 98.9h0.7v0.7h-0.7zM387.2 118.4h1.1v1.1h-1.1zM341.7 96.0h0.7v0.7h-0.7zM354.3 124.4h1.2v1.2h-1.2zM351.8 100.2h1.2v1.2h-1.2zM387.1 100.6h0.6v0.6h-0.6zM357.6 133.3h0.8v0.8h-0.8zM356.5 135.6h1.2v1.2h-1.2zM346.4 93.9h1.2v1.2h-1.2zM326.0 99.7h0.9v0.9h-0.9zM346.4 101.6h1.1v1.1h-1.1zM335.9 109.9h0.7v0.7h-0.7zM331.2 123.2h1.3v1.3h-1.3zM385.6 119.3h1.4v1.4h-1.4zM344.9 98.7h1.2v1.2h-1.2zM348.8 113.2h1.1v1.1h-1.1zM376.4 111.8h1.2v1.2h-1.2zM347.9 124.6h1.2v1.2h-1.2zM348.6 101.9h1.0v1.0h-1.0zM343.7 96.6h0.7v0.7h-0.7zM370.1 105.9h0.6v0.6h-0.6zM371.4 94.6h0.9v0.9h-0.9zM337.9 129.2h1.3v1.3h-1.3zM387.5 132.4h0.6v0.6h-0.6zM366.8 110.9h1.1v1.1h-1.1zM384.0 130.5h0.8v0.8h-0.8zM368.5 92.2h1.3v1.3h-1.3zM382.7 105.6h0.9v0.9h-0.9zM334.4 121.0h0.7v0.7h-0.7zM367.6 112.6h1.0v1.0h-1.0zM359.4 92.5h0.7v0.7h-0.7zM341.9 119.6h0.7v0.7h-0.7zM366.6 130.2h0.8v0.8h-0.8zM344.8 121.1h1.0v1.0h-1.0zM367.4 124.2h0.9v0.9h-0.9zM372.4 106.3h1.0v1.0h-1.0zM362.4 121.6h1.0v1.0h-1.0zM348.9 127.0h1.3v1.3h-1.3zM343.0 124.1h1.3v1.3h-1.3zM335.4 125.2h0.9v0.9h-0.9zM354.8 112.9h1.2v1.2h-1.2zM375.8 130.3h0.8v0.8h-0.8zM359.9 117.4h1.1v1.1h-1.1zM339.5 130.0h0.9v0.9h-0.9zM331.7 123.0h1.3v1.3h-1.3zM377.4 89.8h1.3v1.3h-1.3zM364.6 117.0h1.4v1.4h-1.4zM338.9 91.6h0.8v0.8h-0.8zM376.4 130.3h0.9v0.9h-0.9zM327.1 110.0h0.9v0.9h-0.9zM328.3 103.0h1.2v1.2h-1.2zM327.3 123.3h0.9v0.9h-0.9zM349.6 109.8h0.8v0.8h-0.8zM365.9 101.4h1.3v1.3h-1.3zM353.1 125.1h0.8v0.8h-0.8zM379.4 94.1h0.7v0.7h-0.7zM384.1 101.2h1.3v1.3h-1.3zM368.5 132.9h0.9v0.9h-0.9zM350.6 116.0h1.0v1.0h-1.0zM387.1 110.9h1.3v1.3h-1.3zM368.0 92.8h1.0v1.0h-1.0zM355.2 103.9h0.9v0.9h-0.9zM378.2 120.8h0.7v0.7h-0.7zM386.0 102.9h0.7v0.7h-0.7zM331.6 133.7h0.9v0.9h-0.9zM368.6 97.6h0.7v0.7h-0.7zM338.6 99.0h1.1v1.1h-1.1zM364.7 97.2h1.4v1.4h-1.4zM371.9 113.1h0.7v0.7h-0.7zM378.4 125.8h1.1v1.1h-1.1zM367.1 89.3h1.0v1.0h-1.0zM352.3 130.6h1.1v1.1h-1.1zM369.6 122.1h1.2v1.2h-1.2zM327.5 119.5h1.2v1.2h-1.2zM339.0 133.2h1.2v1.2h-1.2zM364.5 94.7h0.9v0.9h-0.9z"/><path fill="#d8a0e0" opacity="0.6" d="M335.3 127.3h1.1v1.1h-1.1zM336.3 109.2h0.7v0.7h-0.7zM379.1 134.3h0.8v0.8h-0.8zM367.6 92.6h1.2v1.2h-1.2zM338.7 104.5h1.3v1.3h-1.3zM354.4 104.3h1.4v1.4h-1.4zM331.2 134.8h1.0v1.0h-1.0zM380.5 118.1h1.1v1.1h-1.1zM347.2 124.9h0.9v0.9h-0.9zM368.6 120.9h1.2v1.2h-1.2zM370.0 99.9h1.2v1.2h-1.2zM331.7 116.9h0.8v0.8h-0.8zM337.8 116.7h0.7v0.7h-0.7zM357.4 99.1h1.2v1.2h-1.2zM332.3 92.5h0.9v0.9h-0.9zM329.8 127.0h1.0v1.0h-1.0zM369.0 103.9h1.3v1.3h-1.3zM336.1 97.3h1.2v1.2h-1.2zM369.4 106.1h1.3v1.3h-1.3zM386.0 94.8h0.8v0.8h-0.8zM332.4 99.7h1.3v1.3h-1.3zM338.0 111.0h0.9v0.9h-0.9zM384.8 103.7h1.1v1.1h-1.1zM366.3 115.9h1.0v1.0h-1.0zM339.1 130.5h1.4v1.4h-1.4zM335.6 119.3h0.7v0.7h-0.7zM363.1 101.5h0.8v0.8h-0.8zM377.5 109.1h1.0v1.0h-1.0zM351.5 128.6h1.2v1.2h-1.2zM355.0 102.2h1.0v1.0h-1.0zM347.7 109.2h0.9v0.9h-0.9zM328.3 126.1h1.0v1.0h-1.0zM384.6 96.1h0.9v0.9h-0.9zM365.4 111.7h0.9v0.9h-0.9zM367.4 134.8h0.9v0.9h-0.9zM345.9 108.4h1.0v1.0h-1.0zM353.2 118.3h1.3v1.3h-1.3zM359.8 131.0h0.6v0.6h-0.6zM380.4 117.5h0.9v0.9h-0.9zM361.1 123.5h0.9v0.9h-0.9zM342.8 106.4h1.3v1.3h-1.3zM354.0 129.8h0.9v0.9h-0.9zM346.4 96.7h1.3v1.3h-1.3zM364.7 114.1h1.3v1.3h-1.3zM368.1 124.3h0.8v0.8h-0.8zM335.6 121.3h1.0v1.0h-1.0zM380.7 132.0h1.3v1.3h-1.3zM356.3 101.8h0.9v0.9h-0.9zM345.3 116.1h0.6v0.6h-0.6zM377.1 131.1h1.0v1.0h-1.0zM356.8 116.2h1.0v1.0h-1.0zM381.1 105.9h1.2v1.2h-1.2zM339.3 120.6h1.3v1.3h-1.3zM357.3 97.0h1.1v1.1h-1.1zM341.9 110.6h0.8v0.8h-0.8zM382.7 93.9h1.0v1.0h-1.0zM341.2 93.7h1.3v1.3h-1.3zM343.7 133.0h1.3v1.3h-1.3zM366.7 101.6h0.7v0.7h-0.7zM330.9 103.5h1.1v1.1h-1.1zM357.6 100.7h1.3v1.3h-1.3zM370.8 129.6h1.2v1.2h-1.2zM381.1 128.9h1.3v1.3h-1.3zM346.1 129.1h1.3v1.3h-1.3zM333.0 135.7h0.8v0.8h-0.8zM358.0 115.1h0.8v0.8h-0.8zM373.9 128.8h1.0v1.0h-1.0zM335.4 133.9h1.4v1.4h-1.4zM351.6 134.2h0.9v0.9h-0.9zM326.0 136.2h0.8v0.8h-0.8zM348.2 101.5h0.7v0.7h-0.7zM327.3 99.3h1.4v1.4h-1.4zM326.7 131.1h1.0v1.0h-1.0zM339.6 93.3h1.3v1.3h-1.3zM363.8 129.9h0.7v0.7h-0.7zM350.6 96.7h1.0v1.0h-1.0zM349.2 116.5h0.8v0.8h-0.8zM374.3 120.9h1.3v1.3h-1.3zM355.2 114.5h1.0v1.0h-1.0zM342.2 98.0h0.6v0.6h-0.6zM339.4 100.5h1.3v1.3h-1.3zM387.6 99.2h0.6v0.6h-0.6zM351.5 118.2h1.2v1.2h-1.2zM367.6 116.7h1.0v1.0h-1.0zM342.6 128.0h1.3v1.3h-1.3zM364.4 118.8h1.3v1.3h-1.3zM333.0 111.0h1.0v1.0h-1.0zM345.5 119.4h1.3v1.3h-1.3zM381.3 100.4h1.0v1.0h-1.0zM362.2 123.2h0.8v0.8h-0.8zM343.8 116.4h0.6v0.6h-0.6zM362.7 117.4h0.8v0.8h-0.8zM337.1 119.4h1.0v1.0h-1.0zM328.2 98.0h1.4v1.4h-1.4zM377.5 130.6h0.8v0.8h-0.8zM350.2 89.8h0.9v0.9h-0.9zM364.5 116.6h1.3v1.3h-1.3zM359.9 127.5h0.7v0.7h-0.7zM366.7 133.1h1.2v1.2h-1.2zM353.5 92.5h0.6v0.6h-0.6zM365.8 113.0h0.9v0.9h-0.9zM377.8 129.2h1.3v1.3h-1.3zM368.8 134.5h1.3v1.3h-1.3zM351.1 134.3h1.0v1.0h-1.0zM332.1 93.7h1.1v1.1h-1.1zM346.1 114.6h1.3v1.3h-1.3zM383.8 90.2h0.8v0.8h-0.8zM359.1 90.9h1.3v1.3h-1.3zM386.5 95.4h0.7v0.7h-0.7zM331.7 102.3h1.2v1.2h-1.2zM383.4 89.4h1.3v1.3h-1.3zM330.8 100.7h1.1v1.1h-1.1zM340.6 126.2h1.2v1.2h-1.2zM358.8 122.2h0.7v0.7h-0.7z"/><path d="M337,113 C341,109 349,108 354,112 C356,117 353,124 348,126 C343,127 338,124 337,120 Z" fill="#9c88cc" opacity="0.65"/><path d="M352,99 C358,95 368,96 372,100 C374,105 370,110 364,111 C358,112 353,108 352,104 Z" fill="#9c88cc" opacity="0.65"/><path fill="#8878c0" opacity="0.4" d="M339.0 109.0h0.8v0.8h-0.8zM347.6 115.6h0.7v0.7h-0.7zM354.4 108.2h0.8v0.8h-0.8zM366.7 126.4h0.9v0.9h-0.9zM359.6 123.5h0.9v0.9h-0.9zM346.4 112.7h1.0v1.0h-1.0zM351.7 95.9h1.4v1.4h-1.4zM361.8 117.5h0.7v0.7h-0.7zM359.5 107.4h0.7v0.7h-0.7zM360.2 113.7h1.1v1.1h-1.1zM337.8 111.5h1.0v1.0h-1.0zM365.9 97.4h0.8v0.8h-0.8zM369.1 108.8h0.7v0.7h-0.7zM342.9 102.3h0.7v0.7h-0.7zM369.7 121.8h0.8v0.8h-0.8zM341.6 105.9h0.9v0.9h-0.9zM359.0 104.5h1.0v1.0h-1.0zM370.4 124.2h1.2v1.2h-1.2zM358.0 116.5h0.9v0.9h-0.9zM343.3 126.6h1.1v1.1h-1.1zM359.6 98.8h0.9v0.9h-0.9zM364.8 118.6h0.8v0.8h-0.8zM339.5 123.2h1.1v1.1h-1.1zM354.4 109.4h1.1v1.1h-1.1zM354.0 96.6h1.2v1.2h-1.2zM355.7 114.5h1.2v1.2h-1.2zM349.0 118.8h1.1v1.1h-1.1zM351.5 104.7h0.9v0.9h-0.9zM345.5 125.7h1.4v1.4h-1.4zM346.5 111.7h1.4v1.4h-1.4zM344.2 99.3h0.9v0.9h-0.9zM354.5 107.2h1.0v1.0h-1.0zM348.8 124.8h1.2v1.2h-1.2zM358.2 98.5h1.3v1.3h-1.3zM349.1 111.4h1.1v1.1h-1.1zM349.1 111.0h1.0v1.0h-1.0zM370.8 115.7h1.0v1.0h-1.0zM368.6 101.9h1.0v1.0h-1.0zM361.1 110.0h1.4v1.4h-1.4zM357.9 98.5h1.4v1.4h-1.4zM361.0 108.5h1.2v1.2h-1.2zM353.6 121.6h0.8v0.8h-0.8zM360.7 108.9h1.4v1.4h-1.4zM370.9 98.1h1.2v1.2h-1.2zM370.5 116.7h0.8v0.8h-0.8zM341.3 127.2h1.2v1.2h-1.2zM341.0 108.5h1.4v1.4h-1.4zM352.1 117.8h1.0v1.0h-1.0zM354.3 114.1h1.3v1.3h-1.3z"/><path fill="#b0a0d8" opacity="0.4" d="M344.3 106.0h0.8v0.8h-0.8zM352.5 113.5h1.3v1.3h-1.3zM355.1 101.8h0.6v0.6h-0.6zM356.7 118.8h0.7v0.7h-0.7zM360.3 105.3h1.0v1.0h-1.0zM348.3 122.2h0.8v0.8h-0.8zM358.7 115.5h0.7v0.7h-0.7zM347.7 102.0h0.9v0.9h-0.9zM347.5 99.1h1.2v1.2h-1.2zM370.3 114.4h1.0v1.0h-1.0zM348.2 107.6h1.4v1.4h-1.4zM368.4 103.0h1.2v1.2h-1.2zM338.3 111.3h0.6v0.6h-0.6zM346.2 110.6h0.7v0.7h-0.7zM359.0 105.9h0.6v0.6h-0.6zM357.2 102.7h0.8v0.8h-0.8zM356.8 110.8h0.9v0.9h-0.9zM357.7 117.6h1.1v1.1h-1.1zM348.2 120.3h1.2v1.2h-1.2zM360.4 119.9h1.1v1.1h-1.1zM365.2 115.3h1.3v1.3h-1.3zM372.3 108.4h0.6v0.6h-0.6zM371.1 105.1h1.2v1.2h-1.2zM346.0 123.6h1.4v1.4h-1.4zM363.9 117.0h1.3v1.3h-1.3zM344.4 102.7h1.2v1.2h-1.2zM345.9 106.4h1.2v1.2h-1.2zM355.0 109.3h0.7v0.7h-0.7zM353.8 106.2h0.7v0.7h-0.7zM337.8 118.0h0.8v0.8h-0.8zM360.4 102.9h1.0v1.0h-1.0zM343.4 118.4h0.6v0.6h-0.6zM367.6 99.7h0.8v0.8h-0.8zM353.5 125.4h0.9v0.9h-0.9zM344.2 120.4h0.6v0.6h-0.6zM343.3 113.3h1.1v1.1h-1.1zM347.1 115.4h1.2v1.2h-1.2zM343.4 101.3h0.8v0.8h-0.8zM358.1 95.8h1.3v1.3h-1.3zM351.3 113.6h1.0v1.0h-1.0zM345.2 96.3h1.1v1.1h-1.1z"/></g><rect x="326.2" y="89.7" width="62" height="47" filter="url(#grain)" opacity="0.35"/><rect x="326.2" y="89.7" width="62" height="47" filter="url(#grainD)" opacity="0.3"/><g filter="url(#soft)"><path d="M353.5,106 C353,102.5 356,100 359,99 L362.5,98.5 C363.5,99.5 363,102 361.5,104 C359.5,106.5 356,108 353.5,106 Z" fill="#fff"/><path d="M339,119.5 C341,120 343,122 346,124.5 C347.5,126 346,127.8 343.5,127.5 C341.5,127 339.5,124 339,119.5 Z" fill="#fff"/><path d="M365,113 L366.5,113 L369.5,117.5 L368.5,118.4 Z" fill="#fff"/></g></g>
<rect x="326.20" y="89.70" width="62.00" height="47.00" fill="none" stroke="#3a3a3a" stroke-width="1" />
<g clip-path="url(#cp5)"><g filter="url(#soft)"><rect x="397.3" y="38.8" width="62.5" height="47.1" fill="#b8a8d2"/><path fill="#d4cce4" opacity="0.55" d="M421.7 44.3h1.9v1.9h-1.9zM405.4 62.0h1.9v1.9h-1.9zM452.2 62.1h1.5v1.5h-1.5zM405.3 42.6h1.1v1.1h-1.1zM426.7 79.3h1.8v1.8h-1.8zM443.8 52.1h1.8v1.8h-1.8zM404.0 73.4h1.3v1.3h-1.3zM427.4 73.6h1.6v1.6h-1.6zM417.5 67.9h0.9v0.9h-0.9zM438.4 80.6h2.1v2.1h-2.1zM453.8 83.7h1.4v1.4h-1.4zM445.6 82.0h1.9v1.9h-1.9zM402.8 65.8h1.4v1.4h-1.4zM427.7 71.5h2.2v2.2h-2.2zM449.4 59.3h1.3v1.3h-1.3zM412.6 65.8h1.2v1.2h-1.2zM415.1 71.3h1.1v1.1h-1.1zM439.3 56.2h1.2v1.2h-1.2zM448.1 64.1h1.3v1.3h-1.3zM448.0 65.7h1.4v1.4h-1.4zM408.0 79.5h1.0v1.0h-1.0zM398.5 55.4h1.5v1.5h-1.5zM449.2 39.6h0.9v0.9h-0.9zM427.9 45.2h2.0v2.0h-2.0zM447.1 62.9h1.6v1.6h-1.6zM422.5 64.6h0.9v0.9h-0.9zM455.1 40.8h0.8v0.8h-0.8zM443.8 81.9h1.3v1.3h-1.3zM457.4 76.5h0.8v0.8h-0.8zM454.4 39.7h1.4v1.4h-1.4zM401.4 44.0h1.3v1.3h-1.3zM430.3 81.2h1.7v1.7h-1.7zM444.0 65.0h1.7v1.7h-1.7zM449.9 76.5h1.5v1.5h-1.5zM417.0 71.6h1.9v1.9h-1.9zM425.5 84.5h1.2v1.2h-1.2zM438.5 77.8h1.4v1.4h-1.4zM405.7 81.5h1.4v1.4h-1.4zM422.2 78.1h1.2v1.2h-1.2zM396.6 42.3h1.8v1.8h-1.8zM404.5 58.8h1.6v1.6h-1.6zM416.7 41.1h1.2v1.2h-1.2zM440.1 53.1h1.9v1.9h-1.9zM419.6 65.9h1.9v1.9h-1.9zM428.0 61.3h1.6v1.6h-1.6zM421.7 65.3h1.5v1.5h-1.5zM398.1 62.7h1.7v1.7h-1.7zM443.9 54.4h1.3v1.3h-1.3zM453.8 72.6h1.8v1.8h-1.8zM413.1 56.1h2.0v2.0h-2.0zM439.4 62.4h1.8v1.8h-1.8zM409.3 52.7h0.8v0.8h-0.8zM417.4 57.4h1.8v1.8h-1.8zM415.7 77.8h1.8v1.8h-1.8zM442.5 67.3h1.1v1.1h-1.1zM456.5 59.8h2.0v2.0h-2.0zM437.1 72.6h1.6v1.6h-1.6zM401.0 84.6h1.8v1.8h-1.8zM443.0 61.6h0.8v0.8h-0.8zM396.8 46.7h1.6v1.6h-1.6zM406.2 69.5h1.0v1.0h-1.0zM427.6 83.1h1.1v1.1h-1.1zM431.5 64.1h2.2v2.2h-2.2zM423.8 48.7h1.9v1.9h-1.9zM403.4 61.1h0.9v0.9h-0.9z"/><path fill="#a890c8" opacity="0.55" d="M428.2 82.1h1.2v1.2h-1.2zM411.4 59.6h1.7v1.7h-1.7zM457.9 43.8h1.1v1.1h-1.1zM454.0 68.5h1.7v1.7h-1.7zM407.8 44.0h0.9v0.9h-0.9zM423.7 48.0h2.1v2.1h-2.1zM457.3 72.6h0.9v0.9h-0.9zM457.9 45.4h1.3v1.3h-1.3zM408.5 83.6h0.9v0.9h-0.9zM458.0 76.7h1.9v1.9h-1.9zM440.1 79.6h1.7v1.7h-1.7zM432.3 39.1h1.6v1.6h-1.6zM399.6 84.5h1.2v1.2h-1.2zM414.5 51.2h0.9v0.9h-0.9zM404.4 51.7h2.0v2.0h-2.0zM450.4 81.2h1.9v1.9h-1.9zM416.7 57.2h1.6v1.6h-1.6zM416.2 44.7h1.9v1.9h-1.9zM441.0 43.0h1.2v1.2h-1.2zM404.9 41.1h2.0v2.0h-2.0zM440.0 69.0h1.4v1.4h-1.4zM402.9 44.5h1.7v1.7h-1.7zM441.3 76.9h1.3v1.3h-1.3zM437.4 40.4h1.0v1.0h-1.0zM456.7 48.7h1.1v1.1h-1.1zM426.1 60.0h1.2v1.2h-1.2zM402.8 82.8h1.3v1.3h-1.3zM410.9 55.4h1.7v1.7h-1.7zM407.5 83.5h1.6v1.6h-1.6zM430.2 83.3h1.2v1.2h-1.2zM451.1 49.9h1.9v1.9h-1.9zM418.3 39.3h1.2v1.2h-1.2zM401.8 84.2h1.6v1.6h-1.6zM433.5 84.4h1.1v1.1h-1.1zM436.7 49.1h1.1v1.1h-1.1zM427.7 82.0h1.2v1.2h-1.2zM408.9 54.0h2.2v2.2h-2.2zM435.8 81.7h1.7v1.7h-1.7zM397.1 71.0h2.1v2.1h-2.1zM442.9 54.6h2.0v2.0h-2.0zM397.9 54.2h1.3v1.3h-1.3zM444.8 41.5h1.4v1.4h-1.4zM446.9 75.0h1.9v1.9h-1.9zM421.2 48.4h1.8v1.8h-1.8zM457.9 74.2h2.1v2.1h-2.1zM422.4 65.1h0.9v0.9h-0.9zM403.2 63.6h1.5v1.5h-1.5zM452.3 43.8h1.5v1.5h-1.5zM435.9 67.3h1.3v1.3h-1.3zM414.0 47.4h1.4v1.4h-1.4zM438.7 49.1h1.3v1.3h-1.3zM437.8 42.4h1.1v1.1h-1.1zM398.2 42.4h1.6v1.6h-1.6zM444.5 63.3h1.8v1.8h-1.8zM440.1 40.1h1.5v1.5h-1.5z"/><path fill="#e0d8ec" opacity="0.55" d="M404.6 58.1h0.8v0.8h-0.8zM405.5 70.2h1.4v1.4h-1.4zM431.7 55.2h1.3v1.3h-1.3zM412.8 52.0h1.7v1.7h-1.7zM397.7 72.1h1.4v1.4h-1.4zM405.9 40.3h1.8v1.8h-1.8zM449.0 49.6h1.2v1.2h-1.2zM403.4 65.7h2.2v2.2h-2.2zM400.7 76.0h1.7v1.7h-1.7zM407.5 76.7h1.2v1.2h-1.2zM404.2 80.7h2.2v2.2h-2.2zM458.3 74.5h1.2v1.2h-1.2zM426.9 63.5h1.9v1.9h-1.9zM401.8 56.0h1.6v1.6h-1.6zM430.9 72.0h2.1v2.1h-2.1zM430.7 52.2h1.0v1.0h-1.0zM407.1 57.3h1.0v1.0h-1.0zM446.7 42.3h1.3v1.3h-1.3zM420.0 54.5h1.0v1.0h-1.0zM406.0 62.6h2.1v2.1h-2.1zM438.9 52.2h1.8v1.8h-1.8zM456.3 38.1h2.1v2.1h-2.1zM431.4 64.3h0.8v0.8h-0.8zM402.3 57.1h1.1v1.1h-1.1zM437.0 59.0h1.6v1.6h-1.6zM432.8 63.0h1.6v1.6h-1.6zM457.4 82.9h1.8v1.8h-1.8zM422.0 51.9h0.8v0.8h-0.8zM416.8 65.2h2.1v2.1h-2.1zM455.2 43.0h1.3v1.3h-1.3zM401.0 64.1h1.8v1.8h-1.8zM419.7 65.6h1.1v1.1h-1.1zM418.6 45.1h0.9v0.9h-0.9zM454.8 53.8h1.9v1.9h-1.9zM458.5 81.9h1.9v1.9h-1.9zM430.3 70.3h0.9v0.9h-0.9zM449.7 41.9h1.7v1.7h-1.7zM426.0 60.2h1.8v1.8h-1.8zM411.7 70.2h2.2v2.2h-2.2zM401.2 43.8h1.1v1.1h-1.1zM445.2 56.4h1.5v1.5h-1.5zM433.1 45.2h2.0v2.0h-2.0zM415.8 50.3h2.1v2.1h-2.1zM429.1 78.2h1.9v1.9h-1.9zM423.4 43.7h2.2v2.2h-2.2zM448.4 67.4h1.1v1.1h-1.1zM401.5 60.2h1.7v1.7h-1.7zM403.5 64.3h2.2v2.2h-2.2zM402.8 55.2h2.1v2.1h-2.1zM429.3 53.8h2.1v2.1h-2.1zM457.4 74.0h1.1v1.1h-1.1zM442.3 41.2h1.9v1.9h-1.9zM440.4 71.8h2.2v2.2h-2.2zM446.4 50.4h1.7v1.7h-1.7z"/><path fill="#9a80c0" opacity="0.55" d="M406.8 54.0h2.0v2.0h-2.0zM424.5 43.8h1.1v1.1h-1.1zM424.2 76.6h1.1v1.1h-1.1zM403.4 57.3h1.7v1.7h-1.7zM407.2 52.4h1.7v1.7h-1.7zM433.0 58.7h2.0v2.0h-2.0zM423.3 81.6h1.2v1.2h-1.2zM428.9 66.4h1.0v1.0h-1.0zM421.2 74.6h1.9v1.9h-1.9zM440.6 72.9h2.1v2.1h-2.1zM417.7 50.6h1.7v1.7h-1.7zM407.2 55.9h0.9v0.9h-0.9zM405.2 53.5h1.1v1.1h-1.1zM432.3 67.0h1.0v1.0h-1.0zM407.9 82.2h1.4v1.4h-1.4zM425.5 76.4h1.3v1.3h-1.3zM418.7 70.8h1.4v1.4h-1.4zM444.2 64.3h1.3v1.3h-1.3zM439.3 59.2h1.6v1.6h-1.6zM415.3 69.7h1.6v1.6h-1.6zM433.7 43.1h2.0v2.0h-2.0zM401.1 63.0h1.8v1.8h-1.8zM402.8 81.7h0.9v0.9h-0.9zM424.9 49.4h1.1v1.1h-1.1zM441.5 84.8h0.8v0.8h-0.8zM424.1 84.6h1.3v1.3h-1.3zM403.0 73.1h1.7v1.7h-1.7zM452.5 84.9h1.6v1.6h-1.6zM418.9 67.2h1.6v1.6h-1.6zM408.9 80.3h2.1v2.1h-2.1zM443.4 78.2h0.9v0.9h-0.9zM401.9 73.6h1.1v1.1h-1.1zM458.7 56.2h2.0v2.0h-2.0zM421.5 51.0h1.0v1.0h-1.0zM436.3 82.2h1.0v1.0h-1.0zM430.0 60.5h2.1v2.1h-2.1zM449.6 45.9h1.0v1.0h-1.0zM419.4 76.6h1.5v1.5h-1.5zM439.7 78.6h1.0v1.0h-1.0zM419.4 53.7h0.8v0.8h-0.8zM437.6 47.2h1.6v1.6h-1.6zM401.5 74.5h1.0v1.0h-1.0zM423.3 63.3h1.0v1.0h-1.0zM405.8 41.8h1.3v1.3h-1.3zM437.2 45.5h2.0v2.0h-2.0zM424.0 83.8h1.5v1.5h-1.5z"/><path d="M411,38.8 L446,38.8 C445,45 444.5,50 444.3,56.6 C443.5,63 442.5,70 442.4,76.2 L443,86 L409,86 C408.5,80 408.3,72 408.4,66 C408.5,60 408.8,56 409,52 C409.5,46 410.5,42 411,38.8 Z" fill="#dedfdb"/><path d="M419.5,46.2 C422,42.5 427,40.5 430.6,40.9 C434,42 437,46 438.5,50 C440.5,55 440.6,59 440.4,63 C440,68 438.5,72 437.8,76.2 L436.5,86 L413,86 L413,82.8 C412,76 411.8,71 412.3,67 C413,60 416,51 419.5,46.2 Z" fill="#9a5cba" stroke="#7a3a9a" stroke-width="0.8"/><path fill="#7a3a9a" opacity="0.6" d="M426.3 61.8h0.7v0.7h-0.7zM428.3 49.9h1.0v1.0h-1.0zM427.9 78.6h0.7v0.7h-0.7zM434.5 55.3h0.9v0.9h-0.9zM435.7 63.5h1.2v1.2h-1.2zM420.2 65.2h1.6v1.6h-1.6zM425.7 73.5h0.9v0.9h-0.9zM417.1 81.2h1.0v1.0h-1.0zM433.4 82.2h0.7v0.7h-0.7zM417.8 65.2h1.1v1.1h-1.1zM423.1 74.5h1.3v1.3h-1.3zM427.3 48.2h1.5v1.5h-1.5zM435.7 51.9h0.6v0.6h-0.6zM430.3 67.5h0.9v0.9h-0.9zM419.9 52.4h1.4v1.4h-1.4zM414.9 70.5h0.7v0.7h-0.7zM423.9 82.7h0.8v0.8h-0.8zM419.7 48.5h0.7v0.7h-0.7zM431.4 84.1h1.1v1.1h-1.1zM435.5 55.9h1.1v1.1h-1.1zM431.1 73.1h1.6v1.6h-1.6zM436.0 56.8h0.9v0.9h-0.9zM431.6 66.8h0.7v0.7h-0.7zM424.7 47.5h1.5v1.5h-1.5zM434.7 50.3h0.7v0.7h-0.7zM434.4 83.2h0.8v0.8h-0.8zM426.6 60.5h0.8v0.8h-0.8zM424.3 79.0h1.2v1.2h-1.2zM422.2 73.1h0.7v0.7h-0.7zM429.9 81.2h1.4v1.4h-1.4z"/><path fill="#b47ccc" opacity="0.6" d="M422.1 58.8h1.3v1.3h-1.3zM428.4 69.5h1.4v1.4h-1.4zM427.0 81.6h0.9v0.9h-0.9zM428.4 57.3h1.5v1.5h-1.5zM419.0 66.7h0.8v0.8h-0.8zM435.1 64.6h1.5v1.5h-1.5zM424.8 81.2h1.1v1.1h-1.1zM425.5 70.0h1.5v1.5h-1.5zM435.0 85.1h0.7v0.7h-0.7zM417.3 66.0h1.6v1.6h-1.6zM418.2 58.8h0.9v0.9h-0.9zM431.8 53.8h0.9v0.9h-0.9zM425.5 64.8h1.3v1.3h-1.3zM416.7 59.4h0.7v0.7h-0.7zM426.8 48.4h0.9v0.9h-0.9zM417.1 77.2h1.4v1.4h-1.4zM432.8 53.7h0.8v0.8h-0.8zM418.3 48.3h1.3v1.3h-1.3zM419.9 77.5h1.1v1.1h-1.1zM427.0 79.9h1.0v1.0h-1.0zM424.6 61.3h1.2v1.2h-1.2zM418.5 69.2h0.9v0.9h-0.9zM414.5 52.1h1.5v1.5h-1.5zM421.2 69.7h1.4v1.4h-1.4zM425.8 67.4h0.8v0.8h-0.8zM419.9 59.5h0.7v0.7h-0.7zM421.2 70.6h0.9v0.9h-0.9zM425.1 65.3h1.3v1.3h-1.3zM424.9 66.7h0.9v0.9h-0.9zM415.7 83.4h1.0v1.0h-1.0zM416.9 70.9h0.6v0.6h-0.6zM435.7 84.5h0.9v0.9h-0.9zM424.1 83.1h1.2v1.2h-1.2zM418.6 59.6h0.7v0.7h-0.7z"/><path fill="#c89ad8" opacity="0.6" d="M429.8 74.7h0.7v0.7h-0.7zM429.8 54.3h1.1v1.1h-1.1zM434.5 71.5h1.2v1.2h-1.2zM430.2 47.8h1.1v1.1h-1.1zM416.9 48.6h0.9v0.9h-0.9zM419.1 51.5h1.2v1.2h-1.2zM416.6 59.7h0.8v0.8h-0.8zM427.6 71.0h0.6v0.6h-0.6zM417.8 60.5h1.4v1.4h-1.4zM424.8 77.3h0.7v0.7h-0.7zM420.0 47.6h1.2v1.2h-1.2zM422.2 54.1h1.2v1.2h-1.2zM416.3 47.5h1.3v1.3h-1.3zM418.4 79.0h1.6v1.6h-1.6zM421.8 51.9h1.5v1.5h-1.5zM422.1 50.9h1.5v1.5h-1.5z"/><circle cx="421.5" cy="53.8" r="2.5" fill="#74389a"/><circle cx="421.5" cy="53.8" r="1.5" fill="#ece2f0"/><circle cx="427.9" cy="48" r="2.5" fill="#74389a"/><circle cx="427.9" cy="48" r="1.5" fill="#ece2f0"/><circle cx="432.5" cy="57" r="2.5" fill="#74389a"/><circle cx="432.5" cy="57" r="1.5" fill="#ece2f0"/><circle cx="428" cy="65.5" r="2.5" fill="#74389a"/><circle cx="428" cy="65.5" r="1.5" fill="#ece2f0"/><circle cx="418" cy="67.4" r="2.5" fill="#74389a"/><circle cx="418" cy="67.4" r="1.5" fill="#ece2f0"/><circle cx="421.5" cy="75.6" r="2.5" fill="#74389a"/><circle cx="421.5" cy="75.6" r="1.5" fill="#ece2f0"/><circle cx="429.5" cy="73.5" r="2.5" fill="#74389a"/><circle cx="429.5" cy="73.5" r="1.5" fill="#ece2f0"/><circle cx="430.5" cy="80.5" r="2.5" fill="#74389a"/><circle cx="430.5" cy="80.5" r="1.5" fill="#ece2f0"/><circle cx="435" cy="66" r="2.5" fill="#74389a"/><circle cx="435" cy="66" r="1.5" fill="#ece2f0"/><circle cx="458" cy="62" r="1.2" fill="#5a2a80"/></g><rect x="397.3" y="38.8" width="62.5" height="47.1" filter="url(#grain)" opacity="0.25"/><g filter="url(#soft)"></g></g>
<rect x="397.30" y="38.80" width="62.50" height="47.10" fill="none" stroke="#3a3a3a" stroke-width="1" />
<g clip-path="url(#cp6)"><g filter="url(#soft)"><rect x="397.3" y="90.2" width="62.5" height="47.1" fill="#9550b5"/><path fill="#c890d8" opacity="0.5" d="M453.4 125.9h0.9v0.9h-0.9zM416.5 132.0h1.7v1.7h-1.7zM444.5 112.3h0.9v0.9h-0.9zM404.5 134.1h1.6v1.6h-1.6zM424.2 95.1h1.0v1.0h-1.0zM401.4 96.7h0.9v0.9h-0.9zM441.8 118.0h1.1v1.1h-1.1zM452.8 105.2h0.8v0.8h-0.8zM409.1 119.7h0.9v0.9h-0.9zM448.0 126.5h1.9v1.9h-1.9zM408.1 111.3h1.8v1.8h-1.8zM436.0 110.2h1.4v1.4h-1.4zM449.9 122.4h2.0v2.0h-2.0zM423.9 109.3h1.3v1.3h-1.3zM449.9 92.4h1.4v1.4h-1.4zM405.0 115.4h1.2v1.2h-1.2zM401.8 93.0h1.4v1.4h-1.4zM409.6 95.4h1.6v1.6h-1.6zM399.9 96.6h1.9v1.9h-1.9zM458.0 115.1h1.2v1.2h-1.2zM426.2 133.9h1.3v1.3h-1.3zM454.6 91.9h1.6v1.6h-1.6zM398.9 124.3h1.0v1.0h-1.0zM437.2 118.1h2.0v2.0h-2.0zM401.6 95.1h1.8v1.8h-1.8zM419.6 113.0h1.5v1.5h-1.5zM455.8 105.2h1.8v1.8h-1.8zM414.6 109.7h1.8v1.8h-1.8zM452.0 100.3h1.0v1.0h-1.0zM408.2 98.0h1.7v1.7h-1.7zM418.9 94.3h0.9v0.9h-0.9zM408.3 105.3h1.4v1.4h-1.4zM423.6 111.4h1.8v1.8h-1.8zM429.1 91.6h1.1v1.1h-1.1zM431.8 129.1h0.9v0.9h-0.9zM429.3 120.3h0.9v0.9h-0.9zM402.1 124.7h1.0v1.0h-1.0zM422.7 102.8h1.4v1.4h-1.4zM397.2 123.7h1.7v1.7h-1.7zM424.2 94.6h1.7v1.7h-1.7zM402.1 129.4h1.4v1.4h-1.4zM457.9 132.7h1.9v1.9h-1.9zM447.8 128.8h1.0v1.0h-1.0zM413.6 93.7h0.8v0.8h-0.8zM426.7 125.0h0.9v0.9h-0.9zM431.0 89.7h1.9v1.9h-1.9zM438.3 102.9h1.9v1.9h-1.9zM401.1 129.1h1.1v1.1h-1.1zM439.6 113.5h1.5v1.5h-1.5zM425.1 96.7h1.2v1.2h-1.2zM419.6 110.4h1.9v1.9h-1.9zM418.5 90.3h0.9v0.9h-0.9zM431.4 119.5h1.7v1.7h-1.7zM440.8 128.6h1.9v1.9h-1.9zM448.6 126.5h1.5v1.5h-1.5zM449.9 100.0h1.8v1.8h-1.8zM401.8 116.0h0.9v0.9h-0.9zM405.2 131.6h1.0v1.0h-1.0zM442.8 129.6h1.7v1.7h-1.7zM458.7 118.6h1.3v1.3h-1.3zM449.7 135.0h1.9v1.9h-1.9zM403.8 121.6h1.9v1.9h-1.9zM428.5 129.8h0.9v0.9h-0.9zM416.8 95.5h1.8v1.8h-1.8zM404.2 106.2h1.9v1.9h-1.9zM449.1 99.4h2.0v2.0h-2.0zM404.1 94.2h1.8v1.8h-1.8zM399.1 127.2h1.8v1.8h-1.8zM399.7 134.6h1.1v1.1h-1.1zM426.2 99.3h1.8v1.8h-1.8zM452.0 126.2h1.4v1.4h-1.4zM409.6 113.4h1.5v1.5h-1.5zM451.5 113.6h1.7v1.7h-1.7z"/><path fill="#b070c8" opacity="0.5" d="M430.5 133.6h1.4v1.4h-1.4zM454.0 103.9h1.4v1.4h-1.4zM406.4 112.2h1.6v1.6h-1.6zM446.6 99.2h1.5v1.5h-1.5zM440.2 95.7h1.2v1.2h-1.2zM418.3 91.1h2.0v2.0h-2.0zM437.3 103.2h1.8v1.8h-1.8zM412.6 108.9h1.2v1.2h-1.2zM444.4 106.8h1.1v1.1h-1.1zM437.3 120.6h0.9v0.9h-0.9zM408.4 123.4h1.4v1.4h-1.4zM445.8 115.5h1.8v1.8h-1.8zM458.9 107.0h0.9v0.9h-0.9zM413.9 114.3h1.4v1.4h-1.4zM423.3 92.0h1.9v1.9h-1.9zM418.1 105.6h1.8v1.8h-1.8zM411.0 129.0h1.8v1.8h-1.8zM426.6 133.7h0.9v0.9h-0.9zM415.7 136.0h2.0v2.0h-2.0zM455.9 129.3h0.8v0.8h-0.8zM435.4 110.1h1.3v1.3h-1.3zM448.6 120.5h0.9v0.9h-0.9zM409.4 98.3h1.2v1.2h-1.2zM411.4 119.6h0.8v0.8h-0.8zM428.0 107.6h1.8v1.8h-1.8zM432.8 99.7h1.6v1.6h-1.6zM433.9 101.6h1.9v1.9h-1.9zM434.7 114.7h1.0v1.0h-1.0zM446.0 103.3h1.0v1.0h-1.0zM402.1 106.0h1.9v1.9h-1.9zM424.2 115.2h1.9v1.9h-1.9zM453.6 118.3h1.0v1.0h-1.0zM401.0 127.7h1.1v1.1h-1.1zM430.0 121.1h1.0v1.0h-1.0zM419.8 134.6h0.8v0.8h-0.8zM409.0 91.0h1.7v1.7h-1.7zM408.6 101.8h1.6v1.6h-1.6zM449.1 97.3h1.9v1.9h-1.9zM404.4 123.6h1.2v1.2h-1.2zM424.5 97.5h1.4v1.4h-1.4zM415.4 122.8h1.8v1.8h-1.8zM412.9 94.3h1.8v1.8h-1.8zM419.8 123.7h1.2v1.2h-1.2zM452.4 102.9h1.1v1.1h-1.1zM436.7 115.2h0.8v0.8h-0.8zM457.9 136.4h1.2v1.2h-1.2zM412.3 111.7h1.6v1.6h-1.6zM447.8 113.2h1.9v1.9h-1.9zM399.4 93.9h1.6v1.6h-1.6zM414.1 114.0h1.1v1.1h-1.1zM420.9 120.6h1.8v1.8h-1.8z"/><path fill="#7a3a9a" opacity="0.5" d="M442.2 96.2h1.4v1.4h-1.4zM438.0 123.0h1.4v1.4h-1.4zM415.7 93.5h1.4v1.4h-1.4zM399.5 122.6h1.5v1.5h-1.5zM432.0 113.4h1.7v1.7h-1.7zM437.2 96.7h1.8v1.8h-1.8zM444.5 116.6h1.1v1.1h-1.1zM430.9 131.2h0.9v0.9h-0.9zM412.7 99.9h1.6v1.6h-1.6zM397.9 118.8h1.6v1.6h-1.6zM414.1 114.0h0.9v0.9h-0.9zM415.0 115.2h0.9v0.9h-0.9zM456.1 120.0h1.3v1.3h-1.3zM415.8 106.7h1.7v1.7h-1.7zM428.9 114.1h1.0v1.0h-1.0zM416.8 129.8h1.7v1.7h-1.7zM427.0 115.1h0.9v0.9h-0.9zM416.8 92.9h1.9v1.9h-1.9zM409.7 114.7h0.9v0.9h-0.9zM405.8 101.8h1.3v1.3h-1.3zM454.6 103.7h1.3v1.3h-1.3zM429.9 94.9h1.9v1.9h-1.9zM422.5 123.0h1.1v1.1h-1.1zM433.0 106.1h1.5v1.5h-1.5zM423.0 103.4h1.4v1.4h-1.4zM408.0 98.0h1.6v1.6h-1.6zM425.4 122.4h1.7v1.7h-1.7zM444.3 115.0h1.7v1.7h-1.7zM401.9 125.7h1.8v1.8h-1.8zM411.2 106.9h2.0v2.0h-2.0zM408.7 107.3h1.1v1.1h-1.1zM438.5 112.9h1.0v1.0h-1.0zM450.8 116.3h1.9v1.9h-1.9zM409.6 120.0h1.5v1.5h-1.5zM398.9 122.1h1.5v1.5h-1.5zM451.9 116.9h1.2v1.2h-1.2zM455.2 125.8h1.6v1.6h-1.6zM423.9 97.9h1.3v1.3h-1.3zM451.1 135.9h1.1v1.1h-1.1zM421.2 112.4h0.9v0.9h-0.9zM455.9 103.3h1.6v1.6h-1.6zM426.9 118.7h1.5v1.5h-1.5zM451.5 91.3h0.8v0.8h-0.8zM454.7 127.0h0.8v0.8h-0.8zM455.9 113.4h1.4v1.4h-1.4zM424.5 119.3h0.9v0.9h-0.9zM443.7 122.1h1.5v1.5h-1.5zM443.4 127.5h1.4v1.4h-1.4zM411.5 108.8h1.8v1.8h-1.8zM421.3 109.4h1.1v1.1h-1.1zM427.2 89.8h2.0v2.0h-2.0zM417.0 121.0h1.0v1.0h-1.0zM431.4 124.4h1.7v1.7h-1.7zM419.0 93.5h1.4v1.4h-1.4zM432.1 114.5h1.0v1.0h-1.0zM416.8 125.6h1.5v1.5h-1.5zM441.9 117.2h1.0v1.0h-1.0zM406.2 132.3h1.6v1.6h-1.6zM409.2 100.2h1.9v1.9h-1.9zM443.0 89.4h2.0v2.0h-2.0zM448.7 122.3h2.0v2.0h-2.0zM439.3 111.2h1.9v1.9h-1.9zM432.3 124.0h1.6v1.6h-1.6zM435.2 113.9h1.4v1.4h-1.4zM427.7 97.1h1.2v1.2h-1.2zM429.1 132.8h1.2v1.2h-1.2zM409.7 111.8h0.9v0.9h-0.9zM446.6 130.5h1.1v1.1h-1.1zM424.3 98.1h0.9v0.9h-0.9zM412.9 134.6h1.2v1.2h-1.2zM403.2 130.9h1.5v1.5h-1.5zM434.9 94.8h1.3v1.3h-1.3zM443.5 103.4h1.4v1.4h-1.4zM437.6 128.2h1.0v1.0h-1.0zM433.8 124.4h1.5v1.5h-1.5zM400.2 131.8h1.9v1.9h-1.9z"/><circle cx="427" cy="104" r="1.3" fill="#e6d2ee" opacity="0.85"/><circle cx="432" cy="110" r="1.3" fill="#e6d2ee" opacity="0.85"/><circle cx="425" cy="116" r="1.3" fill="#e6d2ee" opacity="0.85"/><circle cx="431" cy="121" r="1.3" fill="#e6d2ee" opacity="0.85"/><circle cx="437" cy="124" r="1.3" fill="#e6d2ee" opacity="0.85"/><circle cx="426" cy="128" r="1.3" fill="#e6d2ee" opacity="0.85"/><circle cx="433" cy="131" r="1.3" fill="#e6d2ee" opacity="0.85"/><circle cx="441" cy="130" r="1.3" fill="#e6d2ee" opacity="0.85"/><circle cx="421" cy="123" r="1.3" fill="#e6d2ee" opacity="0.85"/><circle cx="404" cy="100" r="1.3" fill="#e6d2ee" opacity="0.85"/><circle cx="409" cy="108" r="1.3" fill="#e6d2ee" opacity="0.85"/><circle cx="402" cy="113" r="1.3" fill="#e6d2ee" opacity="0.85"/><circle cx="410" cy="97" r="1.3" fill="#e6d2ee" opacity="0.85"/><circle cx="404" cy="134" r="1.3" fill="#e6d2ee" opacity="0.85"/><circle cx="420" cy="134" r="1.3" fill="#e6d2ee" opacity="0.85"/><path d="M424.6,90.2 L460,90.2 L460,137.5 L452.5,137.5 C451,130 448,124 445.5,120.7 C441,115 438.5,112 437.9,109.3 C437.5,103 437.2,97 436.6,92.5 C433,91.5 428,91.5 426.5,93.5 Z" fill="#dcdcd8"/><path d="M453,90.2 L460,90.2 L460,104 C457,100 454.5,95 453,90.2 Z" fill="#9a58b8"/><rect x="457.6" y="100" width="1.6" height="37.5" fill="#b488cc" opacity="0.8"/><path d="M419.5,90.2 L423.5,90.2 C421,96 419,102 418.8,106 C418,112 416.8,118 414.8,124 C413.3,127 411.3,129.2 409,131.2 L406,130.2 C409,127 411,122 412.4,117 C413.8,110 416,100 419.5,90.2 Z" fill="#dcd8dc"/><path d="M397.3,121 C402,121 407,122 411,126 C410,128 409,129 406,130.2 C402,129 399,128.5 397.3,128 Z" fill="#d8d0dc"/><path d="M399,95 C402,93 406,94 407,97 M400,104 C403,102 407,103 408,106 M428,96 C431,94 434,95 435,98" stroke="#d8b8e4" stroke-width="0.9" fill="none"/></g><rect x="397.3" y="90.2" width="62.5" height="47.1" filter="url(#grain)" opacity="0.25"/><g filter="url(#soft)"></g></g>
<rect x="397.30" y="90.20" width="62.50" height="47.10" fill="none" stroke="#3a3a3a" stroke-width="1" />
<text x="6.80" y="194.20" font-size="13.2" text-anchor="start" fill="#000" font-weight="bold" >C</text>
<text x="0.00" y="0.00" font-size="9.4" text-anchor="middle" fill="#231f20" font-weight="bold" transform="translate(16.2,262.7) rotate(-90)" textLength="50.8" lengthAdjust="spacingAndGlyphs">Pathology scores</text>
<text x="108.40" y="208.60" font-size="9.5" text-anchor="middle" fill="#231f20" stroke="#231f20" stroke-width="0.22" >Skin</text>
<rect x="58.50" y="291.50" width="39.00" height="19.70" fill="#c6c9de" stroke="#53699c" stroke-width="1.0" />
<rect x="118.50" y="270.50" width="40.00" height="40.70" fill="#e6c5bc" stroke="#c03058" stroke-width="1.0" />
<line x1="78.12" y1="287.00" x2="78.12" y2="294.50" stroke="#4c6299" stroke-width="1.2" />
<line x1="68.72" y1="287.00" x2="87.53" y2="287.00" stroke="#4c6299" stroke-width="1.2" />
<line x1="68.72" y1="294.50" x2="87.53" y2="294.50" stroke="#4c6299" stroke-width="1.2" />
<line x1="138.12" y1="263.75" x2="138.12" y2="276.25" stroke="#b02848" stroke-width="1.2" />
<line x1="128.53" y1="263.75" x2="147.72" y2="263.75" stroke="#b02848" stroke-width="1.2" />
<line x1="128.53" y1="276.25" x2="147.72" y2="276.25" stroke="#b02848" stroke-width="1.2" />
<circle cx="75.00" cy="283.25" r="2.0" fill="#1f3d7a" stroke="#fff" stroke-opacity="0.6" stroke-width="0.7"/>
<circle cx="81.25" cy="283.25" r="2.0" fill="#1f3d7a" stroke="#fff" stroke-opacity="0.6" stroke-width="0.7"/>
<circle cx="75.00" cy="292.30" r="2.0" fill="#1f3d7a" stroke="#fff" stroke-opacity="0.6" stroke-width="0.7"/>
<circle cx="81.25" cy="292.30" r="2.0" fill="#1f3d7a" stroke="#fff" stroke-opacity="0.6" stroke-width="0.7"/>
<circle cx="78.00" cy="302.00" r="2.0" fill="#1f3d7a" stroke="#fff" stroke-opacity="0.6" stroke-width="0.7"/>
<circle cx="135.00" cy="255.50" r="2.0" fill="#a3002b" stroke="#fff" stroke-opacity="0.6" stroke-width="0.7"/>
<circle cx="141.75" cy="255.50" r="2.0" fill="#a3002b" stroke="#fff" stroke-opacity="0.6" stroke-width="0.7"/>
<circle cx="138.25" cy="273.75" r="2.0" fill="#a3002b" stroke="#fff" stroke-opacity="0.6" stroke-width="0.7"/>
<circle cx="135.00" cy="283.25" r="2.0" fill="#a3002b" stroke="#fff" stroke-opacity="0.6" stroke-width="0.7"/>
<circle cx="141.75" cy="283.25" r="2.0" fill="#a3002b" stroke="#fff" stroke-opacity="0.6" stroke-width="0.7"/>
<line x1="37.90" y1="215.70" x2="37.90" y2="311.80" stroke="#231f20" stroke-width="1.3" />
<line x1="35.30" y1="311.20" x2="37.90" y2="311.20" stroke="#231f20" stroke-width="1" />
<text x="31.30" y="313.94" font-size="7.6" text-anchor="end" fill="#231f20" stroke="#231f20" stroke-width="0.22" >0</text>
<line x1="35.30" y1="292.40" x2="37.90" y2="292.40" stroke="#231f20" stroke-width="1" />
<text x="31.30" y="295.14" font-size="7.6" text-anchor="end" fill="#231f20" stroke="#231f20" stroke-width="0.22" >2</text>
<line x1="35.30" y1="273.60" x2="37.90" y2="273.60" stroke="#231f20" stroke-width="1" />
<text x="31.30" y="276.34" font-size="7.6" text-anchor="end" fill="#231f20" stroke="#231f20" stroke-width="0.22" >4</text>
<line x1="35.30" y1="254.80" x2="37.90" y2="254.80" stroke="#231f20" stroke-width="1" />
<text x="31.30" y="257.54" font-size="7.6" text-anchor="end" fill="#231f20" stroke="#231f20" stroke-width="0.22" >6</text>
<line x1="35.30" y1="236.00" x2="37.90" y2="236.00" stroke="#231f20" stroke-width="1" />
<text x="31.30" y="238.74" font-size="7.6" text-anchor="end" fill="#231f20" stroke="#231f20" stroke-width="0.22" >8</text>
<line x1="35.30" y1="217.20" x2="37.90" y2="217.20" stroke="#231f20" stroke-width="1" />
<text x="31.30" y="219.94" font-size="7.6" text-anchor="end" fill="#231f20" stroke="#231f20" stroke-width="0.22" >10</text>
<line x1="37.30" y1="311.20" x2="178.80" y2="311.20" stroke="#231f20" stroke-width="1.3" />
<line x1="78.12" y1="311.20" x2="78.12" y2="314.60" stroke="#231f20" stroke-width="1" />
<line x1="138.12" y1="311.20" x2="138.12" y2="314.60" stroke="#231f20" stroke-width="1" />
<line x1="76.20" y1="232.80" x2="136.90" y2="232.80" stroke="#3a3a3a" stroke-width="1.2" />
<circle cx="106.50" cy="227.30" r="0.85" fill="#222"/>
<text x="65.00" y="324.60" font-size="7.6" text-anchor="start" fill="#231f20" stroke="#231f20" stroke-width="0.22" >PD-1<tspan dx="0.61" dy="-2.36" font-size="3.95" letter-spacing="0.46" stroke-width="0.08">+/+</tspan></text>
<text x="126.80" y="324.60" font-size="7.6" text-anchor="start" fill="#231f20" stroke="#231f20" stroke-width="0.22" >PD-1<tspan dx="0.61" dy="-2.36" font-size="3.95" letter-spacing="0.46" stroke-width="0.08">-/-</tspan></text>
<text x="275.60" y="208.60" font-size="9.5" text-anchor="middle" fill="#231f20" stroke="#231f20" stroke-width="0.22" >Liver</text>
<rect x="225.50" y="276.50" width="39.00" height="34.60" fill="#c6c9de" stroke="#53699c" stroke-width="1.0" />
<rect x="285.50" y="243.50" width="39.00" height="67.60" fill="#e6c5bc" stroke="#c03058" stroke-width="1.0" />
<line x1="244.95" y1="263.90" x2="244.95" y2="286.40" stroke="#4c6299" stroke-width="1.2" />
<line x1="235.05" y1="263.90" x2="254.85" y2="263.90" stroke="#4c6299" stroke-width="1.2" />
<line x1="235.05" y1="286.40" x2="254.85" y2="286.40" stroke="#4c6299" stroke-width="1.2" />
<line x1="305.15" y1="238.30" x2="305.15" y2="247.90" stroke="#b02848" stroke-width="1.2" />
<line x1="295.25" y1="238.30" x2="315.05" y2="238.30" stroke="#b02848" stroke-width="1.2" />
<line x1="295.25" y1="247.90" x2="315.05" y2="247.90" stroke="#b02848" stroke-width="1.2" />
<circle cx="245.00" cy="250.50" r="2.0" fill="#1f3d7a" stroke="#fff" stroke-opacity="0.6" stroke-width="0.7"/>
<circle cx="245.00" cy="264.30" r="2.0" fill="#1f3d7a" stroke="#fff" stroke-opacity="0.6" stroke-width="0.7"/>
<circle cx="245.00" cy="283.30" r="2.0" fill="#1f3d7a" stroke="#fff" stroke-opacity="0.6" stroke-width="0.7"/>
<circle cx="245.00" cy="302.00" r="2.0" fill="#1f3d7a" stroke="#fff" stroke-opacity="0.6" stroke-width="0.7"/>
<circle cx="307.90" cy="231.80" r="2.0" fill="#a3002b" stroke="#fff" stroke-opacity="0.6" stroke-width="0.7"/>
<circle cx="299.50" cy="236.30" r="2.0" fill="#a3002b" stroke="#fff" stroke-opacity="0.6" stroke-width="0.7"/>
<circle cx="302.10" cy="241.50" r="2.0" fill="#a3002b" stroke="#fff" stroke-opacity="0.6" stroke-width="0.7"/>
<circle cx="308.10" cy="245.90" r="2.0" fill="#a3002b" stroke="#fff" stroke-opacity="0.6" stroke-width="0.7"/>
<circle cx="305.30" cy="260.00" r="2.0" fill="#a3002b" stroke="#fff" stroke-opacity="0.6" stroke-width="0.7"/>
<line x1="204.60" y1="215.70" x2="204.60" y2="311.70" stroke="#231f20" stroke-width="1.3" />
<line x1="202.00" y1="311.10" x2="204.60" y2="311.10" stroke="#231f20" stroke-width="1" />
<text x="198.00" y="313.84" font-size="7.6" text-anchor="end" fill="#231f20" stroke="#231f20" stroke-width="0.22" >0</text>
<line x1="202.00" y1="292.32" x2="204.60" y2="292.32" stroke="#231f20" stroke-width="1" />
<text x="198.00" y="295.06" font-size="7.6" text-anchor="end" fill="#231f20" stroke="#231f20" stroke-width="0.22" >2</text>
<line x1="202.00" y1="273.54" x2="204.60" y2="273.54" stroke="#231f20" stroke-width="1" />
<text x="198.00" y="276.28" font-size="7.6" text-anchor="end" fill="#231f20" stroke="#231f20" stroke-width="0.22" >4</text>
<line x1="202.00" y1="254.76" x2="204.60" y2="254.76" stroke="#231f20" stroke-width="1" />
<text x="198.00" y="257.50" font-size="7.6" text-anchor="end" fill="#231f20" stroke="#231f20" stroke-width="0.22" >6</text>
<line x1="202.00" y1="235.98" x2="204.60" y2="235.98" stroke="#231f20" stroke-width="1" />
<text x="198.00" y="238.72" font-size="7.6" text-anchor="end" fill="#231f20" stroke="#231f20" stroke-width="0.22" >8</text>
<line x1="202.00" y1="217.20" x2="204.60" y2="217.20" stroke="#231f20" stroke-width="1" />
<text x="198.00" y="219.94" font-size="7.6" text-anchor="end" fill="#231f20" stroke="#231f20" stroke-width="0.22" >10</text>
<line x1="204.00" y1="311.10" x2="344.80" y2="311.10" stroke="#231f20" stroke-width="1.3" />
<line x1="244.95" y1="311.10" x2="244.95" y2="314.50" stroke="#231f20" stroke-width="1" />
<line x1="305.15" y1="311.10" x2="305.15" y2="314.50" stroke="#231f20" stroke-width="1" />
<line x1="243.70" y1="222.80" x2="304.30" y2="222.80" stroke="#3a3a3a" stroke-width="1.2" />
<circle cx="273.80" cy="217.60" r="0.85" fill="#222"/>
<text x="231.60" y="324.60" font-size="7.6" text-anchor="start" fill="#231f20" stroke="#231f20" stroke-width="0.22" >PD-1<tspan dx="0.61" dy="-2.36" font-size="3.95" letter-spacing="0.46" stroke-width="0.08">+/+</tspan></text>
<text x="294.00" y="324.60" font-size="7.6" text-anchor="start" fill="#231f20" stroke="#231f20" stroke-width="0.22" >PD-1<tspan dx="0.61" dy="-2.36" font-size="3.95" letter-spacing="0.46" stroke-width="0.08">-/-</tspan></text>
<text x="442.30" y="208.60" font-size="9.5" text-anchor="middle" fill="#231f20" stroke="#231f20" stroke-width="0.22" >Colon</text>
<rect x="392.50" y="280.50" width="39.00" height="30.60" fill="#c6c9de" stroke="#53699c" stroke-width="1.0" />
<rect x="451.50" y="251.50" width="40.00" height="59.60" fill="#e6c5bc" stroke="#c03058" stroke-width="1.0" />
<line x1="411.85" y1="274.30" x2="411.85" y2="285.80" stroke="#4c6299" stroke-width="1.2" />
<line x1="402.35" y1="274.30" x2="421.35" y2="274.30" stroke="#4c6299" stroke-width="1.2" />
<line x1="402.35" y1="285.80" x2="421.35" y2="285.80" stroke="#4c6299" stroke-width="1.2" />
<line x1="471.70" y1="239.70" x2="471.70" y2="261.50" stroke="#b02848" stroke-width="1.2" />
<line x1="461.60" y1="239.70" x2="481.80" y2="239.70" stroke="#b02848" stroke-width="1.2" />
<line x1="461.60" y1="261.50" x2="481.80" y2="261.50" stroke="#b02848" stroke-width="1.2" />
<circle cx="411.60" cy="265.00" r="2.0" fill="#1f3d7a" stroke="#fff" stroke-opacity="0.6" stroke-width="0.7"/>
<circle cx="408.20" cy="274.30" r="2.0" fill="#1f3d7a" stroke="#fff" stroke-opacity="0.6" stroke-width="0.7"/>
<circle cx="414.40" cy="274.30" r="2.0" fill="#1f3d7a" stroke="#fff" stroke-opacity="0.6" stroke-width="0.7"/>
<circle cx="408.20" cy="292.70" r="2.0" fill="#1f3d7a" stroke="#fff" stroke-opacity="0.6" stroke-width="0.7"/>
<circle cx="414.40" cy="292.70" r="2.0" fill="#1f3d7a" stroke="#fff" stroke-opacity="0.6" stroke-width="0.7"/>
<circle cx="471.50" cy="227.60" r="2.0" fill="#a3002b" stroke="#fff" stroke-opacity="0.6" stroke-width="0.7"/>
<circle cx="468.00" cy="236.60" r="2.0" fill="#a3002b" stroke="#fff" stroke-opacity="0.6" stroke-width="0.7"/>
<circle cx="475.00" cy="236.60" r="2.0" fill="#a3002b" stroke="#fff" stroke-opacity="0.6" stroke-width="0.7"/>
<circle cx="471.50" cy="269.10" r="2.0" fill="#a3002b" stroke="#fff" stroke-opacity="0.6" stroke-width="0.7"/>
<circle cx="471.50" cy="283.30" r="2.0" fill="#a3002b" stroke="#fff" stroke-opacity="0.6" stroke-width="0.7"/>
<line x1="371.80" y1="215.70" x2="371.80" y2="311.70" stroke="#231f20" stroke-width="1.3" />
<line x1="369.20" y1="311.10" x2="371.80" y2="311.10" stroke="#231f20" stroke-width="1" />
<text x="365.20" y="313.84" font-size="7.6" text-anchor="end" fill="#231f20" stroke="#231f20" stroke-width="0.22" >0</text>
<line x1="369.20" y1="292.32" x2="371.80" y2="292.32" stroke="#231f20" stroke-width="1" />
<text x="365.20" y="295.06" font-size="7.6" text-anchor="end" fill="#231f20" stroke="#231f20" stroke-width="0.22" >2</text>
<line x1="369.20" y1="273.54" x2="371.80" y2="273.54" stroke="#231f20" stroke-width="1" />
<text x="365.20" y="276.28" font-size="7.6" text-anchor="end" fill="#231f20" stroke="#231f20" stroke-width="0.22" >4</text>
<line x1="369.20" y1="254.76" x2="371.80" y2="254.76" stroke="#231f20" stroke-width="1" />
<text x="365.20" y="257.50" font-size="7.6" text-anchor="end" fill="#231f20" stroke="#231f20" stroke-width="0.22" >6</text>
<line x1="369.20" y1="235.98" x2="371.80" y2="235.98" stroke="#231f20" stroke-width="1" />
<text x="365.20" y="238.72" font-size="7.6" text-anchor="end" fill="#231f20" stroke="#231f20" stroke-width="0.22" >8</text>
<line x1="369.20" y1="217.20" x2="371.80" y2="217.20" stroke="#231f20" stroke-width="1" />
<text x="365.20" y="219.94" font-size="7.6" text-anchor="end" fill="#231f20" stroke="#231f20" stroke-width="0.22" >10</text>
<line x1="371.20" y1="311.10" x2="512.00" y2="311.10" stroke="#231f20" stroke-width="1.3" />
<line x1="411.85" y1="311.10" x2="411.85" y2="314.50" stroke="#231f20" stroke-width="1" />
<line x1="471.70" y1="311.10" x2="471.70" y2="314.50" stroke="#231f20" stroke-width="1" />
<line x1="408.20" y1="222.80" x2="468.00" y2="222.80" stroke="#3a3a3a" stroke-width="1.2" />
<circle cx="438.60" cy="217.60" r="0.85" fill="#222"/>
<text x="398.50" y="324.60" font-size="7.6" text-anchor="start" fill="#231f20" stroke="#231f20" stroke-width="0.22" >PD-1<tspan dx="0.61" dy="-2.36" font-size="3.95" letter-spacing="0.46" stroke-width="0.08">+/+</tspan></text>
<text x="458.00" y="324.60" font-size="7.6" text-anchor="start" fill="#231f20" stroke="#231f20" stroke-width="0.22" >PD-1<tspan dx="0.61" dy="-2.36" font-size="3.95" letter-spacing="0.46" stroke-width="0.08">-/-</tspan></text>
<text x="7.00" y="350.00" font-size="12.5" text-anchor="start" fill="#000" font-weight="bold" >D</text>
<text x="7.50" y="401.50" font-size="7.6" text-anchor="start" fill="#231f20" stroke="#231f20" stroke-width="0.22" >PD-1<tspan dx="0.61" dy="-2.36" font-size="3.95" letter-spacing="0.46" stroke-width="0.08">+/+</tspan></text>
<text x="7.50" y="467.50" font-size="7.6" text-anchor="start" fill="#231f20" stroke="#231f20" stroke-width="0.22" >PD-1<tspan dx="0.61" dy="-2.36" font-size="3.95" letter-spacing="0.46" stroke-width="0.08">-/-</tspan></text>
<g clip-path="url(#cp7)"><g filter="url(#soft)"><rect x="38.5" y="357.5" width="85" height="65" fill="#fff"/><path d="M38.5,357.5 L123.5,357.5 L123.5,397.3 C110.5,397.0 98.5,394.0 83.5,393.1 L38.5,393.1 Z" fill="url(#thy1)"/><path fill="#f4d4fa" opacity="0.5" d="M74.4 386.8h1.0v1.0h-1.0zM100.2 371.7h1.3v1.3h-1.3zM78.2 381.0h1.0v1.0h-1.0zM108.5 365.2h1.3v1.3h-1.3zM38.5 390.3h1.5v1.5h-1.5zM119.2 369.4h1.5v1.5h-1.5zM72.4 360.7h1.1v1.1h-1.1zM47.5 378.6h1.0v1.0h-1.0zM54.1 383.1h0.9v0.9h-0.9zM82.3 373.4h1.6v1.6h-1.6zM108.3 358.6h1.2v1.2h-1.2zM66.4 387.2h1.0v1.0h-1.0zM60.0 380.7h0.8v0.8h-0.8zM46.9 387.4h0.9v0.9h-0.9zM72.7 376.7h0.8v0.8h-0.8zM96.9 364.3h0.8v0.8h-0.8zM85.1 359.7h1.3v1.3h-1.3zM49.6 367.5h1.4v1.4h-1.4zM40.1 363.1h1.0v1.0h-1.0zM87.0 380.5h1.6v1.6h-1.6zM48.7 379.4h0.9v0.9h-0.9zM75.1 375.0h1.0v1.0h-1.0zM65.9 396.6h1.3v1.3h-1.3zM42.6 365.8h1.2v1.2h-1.2zM83.7 379.6h1.3v1.3h-1.3zM86.7 385.3h0.9v0.9h-0.9zM92.1 372.1h1.4v1.4h-1.4zM71.5 381.6h1.1v1.1h-1.1zM62.5 365.0h1.5v1.5h-1.5zM65.5 369.9h0.7v0.7h-0.7zM75.9 375.1h1.1v1.1h-1.1zM47.5 375.6h0.8v0.8h-0.8zM42.4 367.6h1.5v1.5h-1.5zM101.0 369.0h0.7v0.7h-0.7zM122.9 381.8h1.0v1.0h-1.0zM56.8 360.9h0.9v0.9h-0.9zM119.5 364.2h0.9v0.9h-0.9zM67.9 356.7h1.6v1.6h-1.6zM79.0 386.3h1.3v1.3h-1.3zM43.4 392.6h1.2v1.2h-1.2zM68.9 373.8h1.0v1.0h-1.0zM121.0 387.1h1.3v1.3h-1.3zM53.7 378.7h0.9v0.9h-0.9zM76.6 359.7h0.7v0.7h-0.7zM57.6 369.2h0.9v0.9h-0.9zM105.9 385.7h1.3v1.3h-1.3zM89.2 379.3h0.7v0.7h-0.7zM115.6 393.9h1.2v1.2h-1.2zM114.0 370.2h0.6v0.6h-0.6zM96.1 363.4h1.5v1.5h-1.5zM116.9 381.6h1.4v1.4h-1.4zM88.7 361.8h0.9v0.9h-0.9zM106.3 367.4h1.5v1.5h-1.5zM95.5 391.5h0.7v0.7h-0.7zM62.2 392.1h1.4v1.4h-1.4zM64.5 359.7h1.6v1.6h-1.6zM80.9 374.9h1.4v1.4h-1.4zM73.0 359.4h1.4v1.4h-1.4zM118.0 358.0h1.0v1.0h-1.0zM41.5 363.3h0.7v0.7h-0.7zM61.9 371.5h1.1v1.1h-1.1zM46.5 379.9h1.2v1.2h-1.2zM78.8 359.8h1.0v1.0h-1.0zM67.3 384.1h1.0v1.0h-1.0zM66.5 375.7h1.0v1.0h-1.0zM63.8 387.5h1.1v1.1h-1.1zM63.5 371.8h0.8v0.8h-0.8zM46.1 369.0h0.7v0.7h-0.7zM57.6 390.2h1.3v1.3h-1.3zM47.7 361.1h1.4v1.4h-1.4zM49.7 394.9h1.4v1.4h-1.4zM52.5 388.5h1.5v1.5h-1.5zM59.3 395.9h0.8v0.8h-0.8zM73.8 382.1h0.9v0.9h-0.9zM80.9 371.0h1.6v1.6h-1.6zM106.9 378.2h0.8v0.8h-0.8zM87.1 391.8h0.8v0.8h-0.8zM77.0 385.5h1.6v1.6h-1.6zM102.6 366.2h1.3v1.3h-1.3zM109.5 378.0h0.8v0.8h-0.8zM53.7 374.2h0.8v0.8h-0.8z"/><path fill="#8a70d8" opacity="0.5" d="M68.2 376.7h0.9v0.9h-0.9zM82.2 361.2h1.4v1.4h-1.4zM79.8 385.4h1.3v1.3h-1.3zM44.8 391.5h1.2v1.2h-1.2zM90.4 382.6h1.4v1.4h-1.4zM101.3 389.3h1.3v1.3h-1.3zM62.4 396.0h0.8v0.8h-0.8zM41.3 379.1h0.7v0.7h-0.7zM76.6 396.4h1.6v1.6h-1.6zM40.3 391.1h1.4v1.4h-1.4zM113.0 375.0h1.4v1.4h-1.4zM53.6 390.9h0.9v0.9h-0.9zM102.0 379.6h1.4v1.4h-1.4zM106.9 362.7h1.2v1.2h-1.2zM67.2 365.5h0.7v0.7h-0.7zM44.9 359.6h0.7v0.7h-0.7zM58.5 377.9h0.8v0.8h-0.8zM100.4 372.1h1.3v1.3h-1.3zM58.6 366.2h1.2v1.2h-1.2zM118.4 394.9h1.2v1.2h-1.2zM79.6 357.0h1.5v1.5h-1.5zM75.1 367.9h1.0v1.0h-1.0zM58.6 386.3h1.2v1.2h-1.2zM42.4 376.6h0.7v0.7h-0.7zM74.5 390.4h1.3v1.3h-1.3zM89.5 386.7h1.2v1.2h-1.2zM66.6 359.5h1.0v1.0h-1.0zM55.2 364.0h0.9v0.9h-0.9zM71.9 391.5h0.6v0.6h-0.6zM118.3 367.1h0.9v0.9h-0.9zM93.7 377.3h1.1v1.1h-1.1zM40.5 366.9h0.9v0.9h-0.9zM57.7 383.2h0.6v0.6h-0.6zM118.7 396.4h0.7v0.7h-0.7zM39.6 374.4h1.1v1.1h-1.1zM50.9 357.9h0.9v0.9h-0.9zM56.9 389.4h1.0v1.0h-1.0zM90.5 364.7h1.1v1.1h-1.1zM121.1 381.8h1.6v1.6h-1.6zM93.2 370.0h1.2v1.2h-1.2zM79.4 372.6h1.0v1.0h-1.0zM50.9 365.1h1.3v1.3h-1.3zM110.4 382.7h1.0v1.0h-1.0zM88.9 396.2h1.5v1.5h-1.5zM105.6 369.2h0.9v0.9h-0.9zM65.3 370.5h0.9v0.9h-0.9zM112.1 393.2h0.7v0.7h-0.7zM103.7 361.6h1.1v1.1h-1.1zM80.0 368.2h1.3v1.3h-1.3zM95.1 391.2h0.8v0.8h-0.8zM56.8 358.3h0.7v0.7h-0.7zM107.6 357.0h1.4v1.4h-1.4zM49.8 390.3h1.3v1.3h-1.3zM110.1 374.4h1.1v1.1h-1.1zM70.5 367.4h0.6v0.6h-0.6zM81.8 394.7h0.8v0.8h-0.8zM82.1 386.8h0.9v0.9h-0.9zM91.4 368.7h1.3v1.3h-1.3zM93.5 357.8h1.3v1.3h-1.3zM109.4 369.6h1.0v1.0h-1.0zM122.6 386.3h1.0v1.0h-1.0zM96.2 382.7h1.4v1.4h-1.4zM117.4 361.2h1.2v1.2h-1.2zM53.1 375.2h1.5v1.5h-1.5zM51.7 381.3h0.7v0.7h-0.7zM49.1 364.3h1.0v1.0h-1.0zM77.6 363.8h1.2v1.2h-1.2zM62.2 371.2h1.1v1.1h-1.1zM102.5 367.4h1.3v1.3h-1.3zM42.7 370.9h1.2v1.2h-1.2zM53.7 392.2h0.7v0.7h-0.7zM108.2 361.9h1.3v1.3h-1.3zM60.9 393.6h1.0v1.0h-1.0zM86.1 370.6h1.2v1.2h-1.2zM108.0 379.5h1.2v1.2h-1.2zM65.3 375.8h1.2v1.2h-1.2zM67.9 376.8h1.1v1.1h-1.1zM38.7 373.0h1.4v1.4h-1.4zM65.9 357.5h1.3v1.3h-1.3zM80.9 358.5h0.9v0.9h-0.9zM107.7 394.4h1.5v1.5h-1.5zM73.8 378.2h1.0v1.0h-1.0zM93.6 377.8h1.3v1.3h-1.3z"/><path fill="#a080e6" opacity="0.5" d="M51.3 381.9h1.6v1.6h-1.6zM42.5 369.4h1.5v1.5h-1.5zM51.3 386.2h0.6v0.6h-0.6zM54.6 358.6h1.2v1.2h-1.2zM84.6 373.6h0.9v0.9h-0.9zM45.4 365.8h0.7v0.7h-0.7zM76.3 393.5h1.3v1.3h-1.3zM59.5 376.3h1.4v1.4h-1.4zM44.1 378.8h1.6v1.6h-1.6zM98.2 381.2h0.9v0.9h-0.9zM63.6 379.3h0.7v0.7h-0.7zM45.4 373.5h1.6v1.6h-1.6zM107.6 380.1h0.9v0.9h-0.9zM120.1 366.9h1.4v1.4h-1.4zM44.5 368.3h0.8v0.8h-0.8zM68.7 391.9h1.2v1.2h-1.2zM109.1 371.1h1.6v1.6h-1.6zM97.2 379.1h0.7v0.7h-0.7zM94.3 360.4h1.5v1.5h-1.5zM76.3 395.0h1.5v1.5h-1.5zM102.8 374.0h0.8v0.8h-0.8zM45.8 362.2h1.3v1.3h-1.3zM51.0 379.7h0.9v0.9h-0.9zM92.9 385.6h1.6v1.6h-1.6zM115.6 374.4h0.9v0.9h-0.9zM79.1 381.1h1.4v1.4h-1.4zM65.0 393.6h1.4v1.4h-1.4zM121.0 377.0h1.3v1.3h-1.3zM90.8 360.2h1.3v1.3h-1.3zM54.8 385.5h1.2v1.2h-1.2zM64.1 385.7h1.6v1.6h-1.6zM87.5 365.3h1.3v1.3h-1.3zM99.3 385.6h1.4v1.4h-1.4zM120.7 388.3h1.4v1.4h-1.4zM44.3 365.7h1.4v1.4h-1.4zM63.2 387.3h1.5v1.5h-1.5zM95.3 373.9h1.1v1.1h-1.1zM90.1 373.0h1.5v1.5h-1.5zM88.6 357.3h1.2v1.2h-1.2zM122.4 388.3h1.4v1.4h-1.4zM64.6 376.9h1.5v1.5h-1.5zM95.8 395.6h0.9v0.9h-0.9zM58.1 382.1h1.4v1.4h-1.4zM71.6 375.4h0.8v0.8h-0.8zM54.7 390.8h0.9v0.9h-0.9zM87.1 364.4h1.2v1.2h-1.2zM112.6 359.8h1.2v1.2h-1.2zM42.9 370.4h0.8v0.8h-0.8zM67.8 395.8h1.3v1.3h-1.3zM88.4 368.1h1.4v1.4h-1.4zM116.9 371.9h1.3v1.3h-1.3zM84.5 358.8h0.8v0.8h-0.8zM48.0 382.8h0.9v0.9h-0.9zM98.8 371.3h1.4v1.4h-1.4zM52.3 375.4h0.7v0.7h-0.7zM84.4 370.5h0.6v0.6h-0.6zM72.2 376.7h1.0v1.0h-1.0zM105.3 380.4h1.3v1.3h-1.3zM60.1 370.3h0.9v0.9h-0.9zM120.0 395.6h1.0v1.0h-1.0zM95.0 380.7h1.0v1.0h-1.0zM72.6 366.2h0.6v0.6h-0.6zM46.0 379.1h1.1v1.1h-1.1zM58.3 369.2h1.0v1.0h-1.0zM78.3 359.8h1.1v1.1h-1.1zM60.7 385.8h1.3v1.3h-1.3zM81.8 386.6h1.4v1.4h-1.4zM67.1 393.8h1.3v1.3h-1.3zM95.3 383.3h1.0v1.0h-1.0zM67.9 381.0h1.5v1.5h-1.5zM38.2 362.1h1.0v1.0h-1.0zM98.7 376.0h1.4v1.4h-1.4zM101.3 369.0h0.8v0.8h-0.8zM108.8 375.3h1.4v1.4h-1.4zM97.1 373.1h1.5v1.5h-1.5zM121.9 374.6h0.8v0.8h-0.8zM83.6 366.3h1.5v1.5h-1.5zM74.5 366.0h1.4v1.4h-1.4zM82.1 387.5h0.7v0.7h-0.7zM93.0 370.3h1.2v1.2h-1.2zM69.1 370.2h0.6v0.6h-0.6zM85.1 379.6h1.1v1.1h-1.1zM81.0 395.4h1.5v1.5h-1.5zM107.9 364.3h1.1v1.1h-1.1zM43.8 366.1h1.2v1.2h-1.2z"/><path fill="#c890ec" opacity="0.5" d="M77.2 385.9h1.5v1.5h-1.5zM112.8 362.2h1.0v1.0h-1.0zM93.7 371.0h0.7v0.7h-0.7zM54.0 360.5h1.3v1.3h-1.3zM114.1 380.4h1.5v1.5h-1.5zM112.3 362.7h1.0v1.0h-1.0zM47.7 368.9h1.1v1.1h-1.1zM50.6 360.3h1.1v1.1h-1.1zM60.4 386.5h0.7v0.7h-0.7zM68.1 395.0h1.6v1.6h-1.6zM98.8 391.2h1.0v1.0h-1.0zM116.5 357.4h1.3v1.3h-1.3zM64.5 391.1h0.7v0.7h-0.7zM121.1 369.1h1.1v1.1h-1.1zM67.4 368.0h0.9v0.9h-0.9zM116.4 394.2h1.3v1.3h-1.3zM66.8 371.2h1.3v1.3h-1.3zM96.0 393.2h1.0v1.0h-1.0zM52.9 376.5h0.9v0.9h-0.9zM78.5 360.0h0.6v0.6h-0.6zM69.9 376.9h1.4v1.4h-1.4zM73.9 382.9h0.7v0.7h-0.7zM102.0 385.0h1.4v1.4h-1.4zM51.1 379.6h1.3v1.3h-1.3zM51.7 374.0h0.9v0.9h-0.9zM70.4 371.0h1.0v1.0h-1.0zM86.6 387.3h0.9v0.9h-0.9zM99.3 365.7h1.1v1.1h-1.1zM58.1 358.5h1.2v1.2h-1.2zM61.6 356.9h1.5v1.5h-1.5zM122.0 388.5h1.2v1.2h-1.2zM84.7 380.1h1.3v1.3h-1.3zM115.2 387.0h1.2v1.2h-1.2zM116.7 388.5h1.5v1.5h-1.5zM93.3 366.0h0.7v0.7h-0.7zM91.0 376.4h1.4v1.4h-1.4zM80.1 371.6h0.7v0.7h-0.7zM112.1 369.8h1.1v1.1h-1.1zM107.5 367.1h1.1v1.1h-1.1zM75.9 363.1h1.5v1.5h-1.5zM89.2 361.7h0.8v0.8h-0.8zM121.0 369.7h0.9v0.9h-0.9zM123.0 389.4h0.7v0.7h-0.7zM54.6 361.0h0.7v0.7h-0.7zM64.9 391.6h0.7v0.7h-0.7zM63.7 392.5h1.3v1.3h-1.3zM115.4 369.0h0.8v0.8h-0.8zM75.7 378.2h1.6v1.6h-1.6zM54.8 382.0h1.1v1.1h-1.1zM102.7 381.8h1.0v1.0h-1.0zM59.7 370.6h1.6v1.6h-1.6zM80.7 390.6h1.6v1.6h-1.6zM102.6 368.1h0.8v0.8h-0.8zM112.1 374.0h1.0v1.0h-1.0zM98.9 373.8h0.8v0.8h-0.8zM122.8 364.2h0.6v0.6h-0.6zM109.1 376.3h1.2v1.2h-1.2zM102.9 368.2h0.9v0.9h-0.9zM83.8 369.5h0.9v0.9h-0.9zM56.5 396.4h0.8v0.8h-0.8zM71.0 369.8h1.3v1.3h-1.3zM112.9 389.2h1.1v1.1h-1.1zM73.5 391.3h0.9v0.9h-0.9zM115.0 383.8h1.0v1.0h-1.0zM78.2 396.0h1.0v1.0h-1.0zM94.6 359.1h1.1v1.1h-1.1zM107.3 383.0h1.4v1.4h-1.4zM58.7 379.6h1.1v1.1h-1.1zM75.3 383.6h1.1v1.1h-1.1zM102.0 369.8h0.8v0.8h-0.8zM77.5 395.0h1.6v1.6h-1.6zM66.4 385.8h1.0v1.0h-1.0zM81.6 386.6h1.1v1.1h-1.1zM57.4 374.9h1.6v1.6h-1.6zM45.3 368.6h1.4v1.4h-1.4z"/><path fill="#e6b4f4" opacity="0.5" d="M103.2 364.0h1.0v1.0h-1.0zM59.0 384.5h0.9v0.9h-0.9zM114.5 367.0h1.0v1.0h-1.0zM120.1 383.1h1.1v1.1h-1.1zM59.0 359.7h1.4v1.4h-1.4zM56.2 391.3h0.6v0.6h-0.6zM45.4 381.9h0.9v0.9h-0.9zM84.3 389.0h0.9v0.9h-0.9zM69.8 384.4h1.4v1.4h-1.4zM100.0 363.3h1.1v1.1h-1.1zM115.1 360.4h1.4v1.4h-1.4zM73.4 383.5h1.5v1.5h-1.5zM53.2 372.1h1.3v1.3h-1.3zM105.7 388.7h1.2v1.2h-1.2zM64.4 394.3h0.7v0.7h-0.7zM46.2 370.7h1.6v1.6h-1.6zM117.7 374.7h1.5v1.5h-1.5zM79.6 376.8h1.4v1.4h-1.4zM73.4 389.7h1.3v1.3h-1.3zM81.9 363.5h1.5v1.5h-1.5zM88.6 369.9h1.6v1.6h-1.6zM113.2 395.8h1.4v1.4h-1.4zM110.5 365.1h0.7v0.7h-0.7zM93.8 363.0h1.1v1.1h-1.1zM43.0 382.1h1.3v1.3h-1.3zM57.5 378.2h0.6v0.6h-0.6zM96.1 393.7h0.7v0.7h-0.7zM117.8 367.6h1.2v1.2h-1.2zM83.7 369.4h1.0v1.0h-1.0zM95.5 392.6h0.7v0.7h-0.7zM74.5 371.4h1.3v1.3h-1.3zM51.1 397.1h0.6v0.6h-0.6zM105.7 370.1h0.6v0.6h-0.6zM76.7 368.4h1.3v1.3h-1.3zM95.2 383.9h1.1v1.1h-1.1zM38.3 384.6h1.3v1.3h-1.3zM69.4 388.2h1.1v1.1h-1.1zM114.6 388.3h1.4v1.4h-1.4zM101.9 372.2h0.6v0.6h-0.6zM109.8 369.5h0.9v0.9h-0.9zM68.2 383.9h0.8v0.8h-0.8zM74.2 377.1h0.7v0.7h-0.7zM96.7 363.4h1.0v1.0h-1.0zM117.0 391.6h1.5v1.5h-1.5zM101.6 375.0h1.6v1.6h-1.6zM45.2 391.6h1.5v1.5h-1.5zM39.1 378.2h0.9v0.9h-0.9zM112.6 370.1h0.7v0.7h-0.7zM73.8 396.0h0.9v0.9h-0.9zM48.1 369.9h0.9v0.9h-0.9zM91.3 390.0h0.7v0.7h-0.7zM61.7 376.4h1.1v1.1h-1.1zM38.9 372.7h1.4v1.4h-1.4zM113.2 379.4h1.4v1.4h-1.4zM77.9 389.7h1.5v1.5h-1.5zM81.2 373.5h0.7v0.7h-0.7zM95.8 389.4h1.0v1.0h-1.0zM87.8 377.8h1.5v1.5h-1.5zM102.6 364.9h0.9v0.9h-0.9zM49.3 393.1h0.7v0.7h-0.7zM73.5 370.6h0.9v0.9h-0.9zM50.1 395.6h1.5v1.5h-1.5zM69.4 380.6h0.7v0.7h-0.7zM96.1 391.7h1.1v1.1h-1.1zM103.8 379.2h1.0v1.0h-1.0zM88.5 372.0h1.3v1.3h-1.3zM90.4 395.5h1.0v1.0h-1.0zM98.8 392.2h0.7v0.7h-0.7zM66.8 369.2h0.7v0.7h-0.7zM110.4 375.9h0.6v0.6h-0.6zM106.9 364.9h1.3v1.3h-1.3zM94.9 374.5h1.0v1.0h-1.0zM38.1 373.0h1.1v1.1h-1.1zM52.4 383.6h1.2v1.2h-1.2zM38.8 373.7h1.5v1.5h-1.5zM84.0 359.7h1.0v1.0h-1.0zM74.8 372.5h1.2v1.2h-1.2zM45.6 382.7h1.2v1.2h-1.2zM69.1 376.9h1.5v1.5h-1.5zM109.4 384.9h1.0v1.0h-1.0zM88.3 375.4h1.4v1.4h-1.4zM78.0 374.8h0.6v0.6h-0.6zM61.2 386.6h1.4v1.4h-1.4zM82.1 361.4h0.7v0.7h-0.7zM114.9 360.3h1.1v1.1h-1.1zM112.9 358.8h0.9v0.9h-0.9zM111.2 378.8h0.8v0.8h-0.8zM66.4 392.6h0.7v0.7h-0.7zM104.5 374.6h0.8v0.8h-0.8zM54.8 385.8h1.3v1.3h-1.3zM49.3 358.8h1.2v1.2h-1.2zM49.9 367.7h1.0v1.0h-1.0zM47.0 370.5h1.6v1.6h-1.6zM121.3 361.2h1.1v1.1h-1.1zM82.5 376.1h1.3v1.3h-1.3zM61.6 378.0h1.4v1.4h-1.4z"/><path fill="#d8b8ec" opacity="0.6" d="M91.1 413.5h0.7v0.7h-0.7zM119.8 413.5h0.8v0.8h-0.8zM106.7 405.7h1.3v1.3h-1.3zM111.1 416.5h0.9v0.9h-0.9zM120.0 421.9h0.9v0.9h-0.9zM103.3 400.7h1.0v1.0h-1.0zM91.2 415.2h0.6v0.6h-0.6zM98.2 414.5h0.9v0.9h-0.9zM101.4 399.9h0.7v0.7h-0.7zM96.1 403.4h1.5v1.5h-1.5zM97.9 401.9h0.7v0.7h-0.7zM115.4 419.9h0.8v0.8h-0.8zM90.3 406.2h1.3v1.3h-1.3zM90.4 396.6h1.1v1.1h-1.1zM98.3 399.4h1.4v1.4h-1.4zM108.6 400.4h1.1v1.1h-1.1zM83.5 411.5h0.9v0.9h-0.9zM96.6 410.6h1.0v1.0h-1.0zM98.3 399.1h1.0v1.0h-1.0zM82.3 417.8h0.9v0.9h-0.9zM87.4 410.4h1.4v1.4h-1.4zM88.7 414.5h1.1v1.1h-1.1zM98.9 407.5h0.7v0.7h-0.7zM107.9 401.7h0.9v0.9h-0.9zM116.1 420.1h0.7v0.7h-0.7zM88.6 415.8h0.9v0.9h-0.9zM102.8 415.1h0.7v0.7h-0.7zM92.0 412.6h0.8v0.8h-0.8zM117.8 407.1h0.7v0.7h-0.7zM109.9 398.0h1.3v1.3h-1.3z"/><path fill="#b898e6" opacity="0.7" d="M92.3 394.6h1.2v1.2h-1.2zM121.0 393.6h1.1v1.1h-1.1zM97.6 394.9h0.8v0.8h-0.8zM86.6 396.0h1.2v1.2h-1.2zM118.1 395.6h0.9v0.9h-0.9zM105.9 396.8h1.1v1.1h-1.1zM119.2 393.5h1.1v1.1h-1.1zM117.6 394.6h1.3v1.3h-1.3zM105.2 395.2h0.6v0.6h-0.6zM106.2 395.8h0.8v0.8h-0.8zM110.6 398.3h0.9v0.9h-0.9zM119.3 397.8h1.0v1.0h-1.0zM100.9 396.0h1.0v1.0h-1.0zM84.4 394.5h1.2v1.2h-1.2zM114.2 396.9h1.2v1.2h-1.2zM82.8 395.2h0.8v0.8h-0.8zM85.2 397.1h0.7v0.7h-0.7zM107.0 397.8h1.2v1.2h-1.2zM112.5 395.5h0.8v0.8h-0.8zM94.5 394.0h0.8v0.8h-0.8zM103.3 396.8h0.7v0.7h-0.7zM105.9 396.6h0.8v0.8h-0.8zM113.4 397.5h0.6v0.6h-0.6zM118.6 395.4h0.6v0.6h-0.6z"/><path fill="#c8a8ee" opacity="0.7" d="M95.9 396.5h0.8v0.8h-0.8zM103.9 393.9h0.7v0.7h-0.7zM93.1 395.0h1.2v1.2h-1.2zM106.1 393.9h1.3v1.3h-1.3zM118.4 395.9h1.4v1.4h-1.4zM110.0 396.3h1.1v1.1h-1.1zM106.9 397.0h0.7v0.7h-0.7zM97.5 395.3h1.3v1.3h-1.3zM105.4 396.5h0.9v0.9h-0.9zM112.2 394.1h0.9v0.9h-0.9zM117.6 394.0h0.8v0.8h-0.8zM100.8 393.7h1.3v1.3h-1.3zM109.4 395.7h1.0v1.0h-1.0zM95.6 398.1h1.3v1.3h-1.3zM86.4 396.4h1.4v1.4h-1.4zM100.4 397.5h0.9v0.9h-0.9zM92.8 398.2h1.0v1.0h-1.0zM109.3 394.9h1.2v1.2h-1.2zM93.1 394.2h0.7v0.7h-0.7zM106.9 398.1h0.7v0.7h-0.7zM115.0 398.0h1.4v1.4h-1.4zM89.1 397.9h0.9v0.9h-0.9zM96.7 394.1h1.4v1.4h-1.4zM99.1 394.6h0.7v0.7h-0.7zM122.4 396.5h0.6v0.6h-0.6zM115.2 396.1h1.0v1.0h-1.0zM119.7 394.7h1.0v1.0h-1.0zM120.1 393.8h0.9v0.9h-0.9zM94.4 397.1h0.8v0.8h-0.8zM101.6 394.8h0.7v0.7h-0.7zM114.3 394.5h1.3v1.3h-1.3zM120.6 394.9h1.1v1.1h-1.1zM98.8 393.6h0.8v0.8h-0.8zM110.7 394.0h0.8v0.8h-0.8z"/><path fill="#a890e0" opacity="0.7" d="M116.7 397.1h1.0v1.0h-1.0zM85.7 397.7h1.3v1.3h-1.3zM113.6 394.9h0.6v0.6h-0.6zM111.0 395.1h1.2v1.2h-1.2zM91.9 395.1h0.8v0.8h-0.8zM106.0 395.2h1.0v1.0h-1.0zM85.0 398.2h0.6v0.6h-0.6zM95.4 394.9h0.9v0.9h-0.9zM82.0 395.8h1.1v1.1h-1.1zM88.1 394.7h1.0v1.0h-1.0zM106.3 397.8h0.9v0.9h-0.9zM95.1 396.7h1.2v1.2h-1.2zM95.9 394.8h0.7v0.7h-0.7zM96.4 395.4h1.4v1.4h-1.4zM93.0 393.7h0.9v0.9h-0.9zM107.1 395.5h1.2v1.2h-1.2zM108.8 395.6h1.2v1.2h-1.2zM85.0 394.7h1.3v1.3h-1.3zM98.5 396.4h0.7v0.7h-0.7zM90.3 396.8h0.6v0.6h-0.6zM98.3 396.5h1.2v1.2h-1.2zM100.3 398.1h1.0v1.0h-1.0zM100.9 395.1h1.4v1.4h-1.4zM101.6 398.2h1.3v1.3h-1.3zM88.1 394.0h1.2v1.2h-1.2zM105.0 393.9h1.1v1.1h-1.1zM100.8 396.9h0.9v0.9h-0.9zM84.1 398.4h0.7v0.7h-0.7zM104.7 395.2h1.1v1.1h-1.1zM91.8 394.1h1.1v1.1h-1.1zM97.6 394.0h0.8v0.8h-0.8zM97.5 393.7h0.8v0.8h-0.8z"/></g><rect x="38.5" y="357.5" width="85" height="65" filter="url(#grain)" opacity="0.4"/><g filter="url(#soft)"><rect x="38.5" y="389.5" width="43" height="33" fill="#fff"/><path d="M51.3,398.6 C51.5,396.5 52.5,395.7 53.1,395.5 C56.5,395.5 59.5,396.1 62.4,396.4 C65.5,397.0 68.5,398.0 71.2,398.2 L69.0,402.6 L73.0,406.1 C67.5,407.1 60.5,407.3 57.1,407.0 C54.0,405.5 52.0,403.5 51.3,401.1 Z" fill="#b87ad8"/><path d="M41.5,394.5 C44.5,393.5 48.5,395.5 47.5,399.5 M41.5,400.5 C43.5,403.5 47.5,404.5 50.5,403.5" stroke="#f0b0e8" stroke-width="1" fill="none"/></g></g>
<rect x="38.50" y="357.50" width="85.00" height="65.00" fill="none" stroke="#222" stroke-width="1" />
<rect x="38.50" y="389.50" width="43.00" height="33.00" fill="none" stroke="#222" stroke-width="1" />
<text x="40.00" y="420.60" font-size="8.4" text-anchor="start" fill="#111" stroke="#111" stroke-width="0.22" >x8</text>
<text x="121.10" y="420.60" font-size="8.4" text-anchor="end" fill="#111" stroke="#111" stroke-width="0.22" >x200</text>
<g clip-path="url(#cp8)"><g filter="url(#soft)"><rect x="38.5" y="436.5" width="86" height="65" fill="#fff"/><path d="M38.5,436.5 L124.5,436.5 L124.5,472.0 C110.5,471.5 98.5,469.5 83.5,469.0 L38.5,469.0 Z" fill="#bca6da"/><path fill="#c8a0e4" opacity="0.6" d="M83.9 445.7h0.6v0.6h-0.6zM93.7 466.3h1.4v1.4h-1.4zM71.4 470.1h1.0v1.0h-1.0zM48.4 445.8h1.4v1.4h-1.4zM107.3 444.2h1.1v1.1h-1.1zM114.8 454.3h1.0v1.0h-1.0zM118.3 456.4h1.3v1.3h-1.3zM63.8 462.8h0.8v0.8h-0.8zM97.7 452.6h1.2v1.2h-1.2zM112.0 440.8h1.3v1.3h-1.3zM108.2 470.6h1.3v1.3h-1.3zM89.1 444.8h1.3v1.3h-1.3zM96.0 452.7h0.8v0.8h-0.8zM47.2 453.3h0.8v0.8h-0.8zM81.4 445.5h0.7v0.7h-0.7zM117.6 448.2h1.2v1.2h-1.2zM122.0 468.9h1.0v1.0h-1.0zM57.2 461.6h1.6v1.6h-1.6zM86.7 452.7h0.7v0.7h-0.7zM67.7 447.9h0.7v0.7h-0.7zM46.5 447.0h0.8v0.8h-0.8zM92.1 437.4h1.5v1.5h-1.5zM110.0 471.3h0.9v0.9h-0.9zM105.8 444.1h0.8v0.8h-0.8zM45.4 438.9h0.9v0.9h-0.9zM66.7 457.0h0.7v0.7h-0.7zM117.5 444.4h0.7v0.7h-0.7zM90.4 451.5h0.8v0.8h-0.8zM122.3 447.3h1.3v1.3h-1.3zM96.5 440.6h1.0v1.0h-1.0zM105.5 438.2h0.7v0.7h-0.7zM91.2 462.3h1.2v1.2h-1.2zM97.3 451.1h0.7v0.7h-0.7zM48.1 437.3h1.5v1.5h-1.5zM77.3 458.5h1.4v1.4h-1.4zM59.5 462.9h1.6v1.6h-1.6zM50.9 442.2h0.9v0.9h-0.9zM78.0 447.1h0.9v0.9h-0.9zM114.3 447.4h1.3v1.3h-1.3zM43.2 470.2h0.9v0.9h-0.9zM54.8 459.8h1.6v1.6h-1.6zM38.0 455.0h1.1v1.1h-1.1zM88.5 451.5h1.0v1.0h-1.0zM73.9 467.2h1.5v1.5h-1.5zM97.9 466.1h1.2v1.2h-1.2zM85.5 463.9h0.8v0.8h-0.8zM93.5 457.9h0.7v0.7h-0.7zM57.8 462.8h0.6v0.6h-0.6zM94.1 440.4h1.5v1.5h-1.5zM105.3 452.1h1.4v1.4h-1.4zM116.1 456.6h1.2v1.2h-1.2zM65.8 457.6h1.2v1.2h-1.2zM97.5 442.2h1.6v1.6h-1.6zM91.2 455.8h1.1v1.1h-1.1zM98.7 458.1h0.8v0.8h-0.8zM92.4 460.6h1.2v1.2h-1.2zM74.8 441.7h1.5v1.5h-1.5zM73.1 465.1h0.7v0.7h-0.7zM37.9 458.5h1.5v1.5h-1.5zM71.7 445.0h1.5v1.5h-1.5zM80.6 436.9h0.7v0.7h-0.7zM76.9 436.2h0.7v0.7h-0.7zM42.0 453.0h1.5v1.5h-1.5zM101.7 464.6h1.1v1.1h-1.1zM82.9 450.9h1.0v1.0h-1.0zM99.1 445.5h0.8v0.8h-0.8zM57.5 437.9h0.6v0.6h-0.6zM95.8 450.4h1.4v1.4h-1.4zM115.3 449.1h0.8v0.8h-0.8zM122.7 449.1h1.3v1.3h-1.3zM104.8 448.5h0.7v0.7h-0.7zM123.0 436.3h1.1v1.1h-1.1zM95.2 460.0h1.4v1.4h-1.4zM102.0 456.3h1.1v1.1h-1.1zM58.6 440.0h1.6v1.6h-1.6zM102.1 442.5h0.7v0.7h-0.7zM67.2 437.7h1.1v1.1h-1.1zM52.8 465.1h1.5v1.5h-1.5zM76.3 469.4h1.4v1.4h-1.4zM61.5 452.8h0.8v0.8h-0.8zM114.5 437.2h1.2v1.2h-1.2zM57.3 443.7h1.5v1.5h-1.5zM87.7 445.7h0.8v0.8h-0.8zM93.6 457.4h1.5v1.5h-1.5zM100.8 471.7h1.0v1.0h-1.0zM40.4 470.2h1.1v1.1h-1.1zM46.1 468.6h0.6v0.6h-0.6z"/><path fill="#9c84c4" opacity="0.6" d="M113.3 460.1h0.7v0.7h-0.7zM58.1 461.2h1.2v1.2h-1.2zM43.7 467.0h1.3v1.3h-1.3zM119.5 449.7h1.1v1.1h-1.1zM69.0 461.0h0.8v0.8h-0.8zM104.6 438.4h1.2v1.2h-1.2zM80.6 454.5h1.0v1.0h-1.0zM76.4 456.5h1.1v1.1h-1.1zM57.0 437.4h1.0v1.0h-1.0zM75.2 463.5h1.4v1.4h-1.4zM70.2 445.6h1.4v1.4h-1.4zM119.1 462.9h1.0v1.0h-1.0zM62.3 447.5h1.0v1.0h-1.0zM82.8 463.5h1.0v1.0h-1.0zM73.0 462.0h0.8v0.8h-0.8zM61.1 446.3h1.4v1.4h-1.4zM85.7 442.8h1.0v1.0h-1.0zM121.7 452.3h1.1v1.1h-1.1zM60.8 461.8h1.1v1.1h-1.1zM51.5 468.7h1.4v1.4h-1.4zM99.7 444.8h1.0v1.0h-1.0zM52.8 439.6h1.1v1.1h-1.1zM59.2 438.5h0.7v0.7h-0.7zM55.9 451.7h1.4v1.4h-1.4zM114.5 456.6h1.3v1.3h-1.3zM102.7 451.7h1.4v1.4h-1.4zM105.9 463.5h0.9v0.9h-0.9zM43.8 460.4h0.9v0.9h-0.9zM114.6 450.7h1.5v1.5h-1.5zM42.0 442.0h1.3v1.3h-1.3zM62.3 455.1h0.6v0.6h-0.6zM42.2 470.1h1.1v1.1h-1.1zM101.8 462.1h1.2v1.2h-1.2zM96.0 448.0h1.0v1.0h-1.0zM108.5 460.2h1.5v1.5h-1.5zM71.6 446.4h1.2v1.2h-1.2zM115.2 436.3h1.1v1.1h-1.1zM43.3 437.5h0.8v0.8h-0.8zM84.2 465.1h1.2v1.2h-1.2zM41.8 446.2h1.1v1.1h-1.1zM63.8 453.4h1.1v1.1h-1.1zM99.7 461.2h1.0v1.0h-1.0zM104.3 448.5h1.2v1.2h-1.2zM76.5 441.3h1.5v1.5h-1.5zM59.7 450.2h1.3v1.3h-1.3zM99.7 445.9h0.9v0.9h-0.9zM101.7 470.9h0.9v0.9h-0.9zM115.4 438.5h1.4v1.4h-1.4zM110.6 464.3h1.5v1.5h-1.5zM65.8 459.7h0.6v0.6h-0.6zM65.8 453.2h0.8v0.8h-0.8zM96.4 457.1h0.9v0.9h-0.9zM56.1 437.4h1.3v1.3h-1.3zM40.7 464.4h1.5v1.5h-1.5zM74.3 470.2h1.5v1.5h-1.5zM61.1 471.6h1.5v1.5h-1.5zM100.6 443.9h0.8v0.8h-0.8zM60.2 463.5h1.4v1.4h-1.4zM72.7 438.6h1.0v1.0h-1.0zM99.4 455.9h0.8v0.8h-0.8zM70.7 470.2h0.7v0.7h-0.7zM118.2 457.1h1.4v1.4h-1.4zM96.9 469.2h1.4v1.4h-1.4zM67.4 470.1h0.9v0.9h-0.9zM84.9 466.7h0.6v0.6h-0.6zM113.4 452.7h0.7v0.7h-0.7zM67.0 442.9h1.5v1.5h-1.5zM94.8 443.9h1.4v1.4h-1.4zM114.2 467.7h1.4v1.4h-1.4zM98.9 449.8h1.4v1.4h-1.4zM93.4 458.0h1.5v1.5h-1.5zM74.3 440.3h1.5v1.5h-1.5zM44.6 468.8h1.3v1.3h-1.3zM71.8 452.3h1.5v1.5h-1.5zM55.5 437.1h1.6v1.6h-1.6zM103.5 461.2h1.4v1.4h-1.4zM86.0 468.6h1.6v1.6h-1.6zM47.5 444.2h1.6v1.6h-1.6zM119.0 461.2h1.1v1.1h-1.1zM114.0 451.7h0.7v0.7h-0.7zM119.1 444.1h1.3v1.3h-1.3zM121.1 443.7h1.5v1.5h-1.5zM63.7 460.2h1.0v1.0h-1.0zM123.6 458.4h0.7v0.7h-0.7zM47.2 455.0h0.7v0.7h-0.7zM65.1 460.2h1.0v1.0h-1.0zM106.0 449.6h1.5v1.5h-1.5z"/><path fill="#b094d4" opacity="0.6" d="M59.5 460.6h1.6v1.6h-1.6zM91.8 444.1h1.5v1.5h-1.5zM104.9 443.0h1.1v1.1h-1.1zM115.1 468.9h0.9v0.9h-0.9zM71.9 437.9h1.1v1.1h-1.1zM79.6 451.6h1.2v1.2h-1.2zM39.0 450.2h1.2v1.2h-1.2zM53.3 461.6h0.7v0.7h-0.7zM66.2 465.8h1.2v1.2h-1.2zM38.7 459.1h0.7v0.7h-0.7zM71.3 460.2h0.6v0.6h-0.6zM111.9 462.2h1.0v1.0h-1.0zM82.1 467.8h1.0v1.0h-1.0zM58.5 459.3h1.5v1.5h-1.5zM116.1 439.0h1.0v1.0h-1.0zM46.3 448.4h1.3v1.3h-1.3zM61.3 452.5h1.5v1.5h-1.5zM99.9 444.0h1.4v1.4h-1.4zM46.1 445.0h1.1v1.1h-1.1zM49.4 453.7h1.6v1.6h-1.6zM69.4 468.2h1.3v1.3h-1.3zM110.8 459.3h1.1v1.1h-1.1zM88.6 440.5h1.2v1.2h-1.2zM94.4 462.4h0.9v0.9h-0.9zM90.9 437.9h1.5v1.5h-1.5zM115.9 457.9h1.2v1.2h-1.2zM102.3 459.0h0.6v0.6h-0.6zM45.5 455.6h1.5v1.5h-1.5zM40.0 451.0h1.0v1.0h-1.0zM100.4 456.4h1.1v1.1h-1.1zM63.6 459.6h1.5v1.5h-1.5zM92.3 468.7h1.3v1.3h-1.3zM82.2 451.8h1.3v1.3h-1.3zM114.6 459.9h0.9v0.9h-0.9zM117.5 455.2h0.8v0.8h-0.8zM56.0 470.2h1.2v1.2h-1.2zM114.5 457.4h1.2v1.2h-1.2zM107.2 464.3h0.7v0.7h-0.7zM57.1 443.5h0.6v0.6h-0.6zM87.8 448.7h1.4v1.4h-1.4zM44.9 443.9h0.7v0.7h-0.7zM50.8 440.0h1.3v1.3h-1.3zM53.4 458.3h0.9v0.9h-0.9zM80.1 454.1h0.9v0.9h-0.9zM48.7 470.5h0.8v0.8h-0.8zM91.4 450.8h0.7v0.7h-0.7zM120.6 456.7h1.1v1.1h-1.1zM116.8 467.7h1.1v1.1h-1.1zM38.3 436.3h1.1v1.1h-1.1zM78.4 447.3h1.6v1.6h-1.6zM73.9 449.8h1.1v1.1h-1.1zM90.0 441.7h1.3v1.3h-1.3zM50.0 455.0h1.2v1.2h-1.2zM61.0 451.2h0.8v0.8h-0.8zM59.9 464.8h1.3v1.3h-1.3zM68.5 465.8h0.7v0.7h-0.7zM101.4 461.4h1.6v1.6h-1.6zM44.6 471.1h1.4v1.4h-1.4zM85.7 463.5h0.9v0.9h-0.9zM101.3 439.4h1.3v1.3h-1.3zM47.3 466.4h0.9v0.9h-0.9zM81.3 439.4h1.4v1.4h-1.4zM59.8 461.8h1.4v1.4h-1.4zM94.1 437.2h1.4v1.4h-1.4zM113.7 437.6h1.2v1.2h-1.2zM120.2 443.9h1.0v1.0h-1.0zM81.8 457.6h0.8v0.8h-0.8zM69.5 449.1h0.6v0.6h-0.6zM87.0 457.3h1.4v1.4h-1.4zM60.3 469.7h1.1v1.1h-1.1zM80.9 446.2h0.8v0.8h-0.8zM83.7 438.9h0.9v0.9h-0.9z"/><path fill="#f4e8f6" opacity="0.6" d="M116.0 453.5h1.3v1.3h-1.3zM123.7 465.5h1.1v1.1h-1.1zM107.7 471.0h0.6v0.6h-0.6zM89.9 463.5h1.2v1.2h-1.2zM61.7 462.6h1.4v1.4h-1.4zM116.0 458.5h0.9v0.9h-0.9zM50.9 442.6h1.5v1.5h-1.5zM103.4 450.8h1.5v1.5h-1.5zM64.9 439.8h1.0v1.0h-1.0zM59.6 450.2h1.2v1.2h-1.2zM94.9 455.4h1.3v1.3h-1.3zM83.0 461.2h1.1v1.1h-1.1zM43.8 448.5h0.6v0.6h-0.6zM57.4 461.4h1.0v1.0h-1.0zM61.2 442.6h1.5v1.5h-1.5zM51.2 470.0h1.5v1.5h-1.5zM38.4 464.9h0.7v0.7h-0.7zM122.8 459.6h1.6v1.6h-1.6zM49.8 446.4h1.2v1.2h-1.2zM118.1 464.7h1.5v1.5h-1.5zM82.5 450.1h0.7v0.7h-0.7zM41.2 469.6h0.8v0.8h-0.8zM95.0 441.8h1.2v1.2h-1.2zM102.8 437.7h1.3v1.3h-1.3zM62.9 455.2h1.6v1.6h-1.6zM84.1 468.7h0.7v0.7h-0.7zM89.6 467.8h0.9v0.9h-0.9zM43.3 464.2h1.1v1.1h-1.1zM71.0 440.7h1.4v1.4h-1.4zM121.2 460.4h0.8v0.8h-0.8zM79.2 448.0h0.8v0.8h-0.8zM81.4 439.0h1.1v1.1h-1.1zM45.2 469.2h0.9v0.9h-0.9zM50.3 460.1h1.4v1.4h-1.4zM49.3 443.4h0.8v0.8h-0.8zM99.3 468.1h1.1v1.1h-1.1zM102.5 468.0h0.8v0.8h-0.8zM64.2 436.8h1.5v1.5h-1.5zM60.1 462.1h0.9v0.9h-0.9zM99.8 465.2h0.8v0.8h-0.8zM96.7 443.8h1.3v1.3h-1.3zM101.5 467.0h1.6v1.6h-1.6zM78.0 442.3h1.5v1.5h-1.5zM47.1 440.2h1.6v1.6h-1.6zM50.4 445.1h0.9v0.9h-0.9zM108.9 447.6h0.7v0.7h-0.7zM79.3 468.5h1.3v1.3h-1.3zM69.4 464.4h0.9v0.9h-0.9zM84.9 458.9h0.8v0.8h-0.8zM41.2 452.0h0.8v0.8h-0.8zM52.2 439.3h1.1v1.1h-1.1zM114.5 452.8h1.4v1.4h-1.4zM109.4 452.0h0.8v0.8h-0.8zM106.2 465.1h1.0v1.0h-1.0zM97.4 451.8h1.1v1.1h-1.1zM115.8 460.9h1.0v1.0h-1.0zM63.9 462.1h1.3v1.3h-1.3zM39.0 469.9h1.5v1.5h-1.5zM62.5 460.3h1.5v1.5h-1.5zM64.3 463.5h0.9v0.9h-0.9zM85.4 457.7h1.1v1.1h-1.1zM82.4 448.3h0.8v0.8h-0.8zM64.5 439.4h1.4v1.4h-1.4zM118.6 451.4h1.2v1.2h-1.2zM111.9 465.3h0.8v0.8h-0.8zM85.6 467.4h1.3v1.3h-1.3zM84.1 453.8h0.9v0.9h-0.9zM41.2 456.5h1.6v1.6h-1.6zM80.7 456.2h1.1v1.1h-1.1zM111.4 443.7h0.8v0.8h-0.8zM54.9 446.0h0.7v0.7h-0.7zM105.9 450.8h0.9v0.9h-0.9zM51.6 459.0h0.9v0.9h-0.9zM59.9 447.9h0.9v0.9h-0.9zM105.5 467.7h1.3v1.3h-1.3zM95.2 441.9h1.6v1.6h-1.6zM65.3 454.7h1.5v1.5h-1.5zM116.1 452.1h0.9v0.9h-0.9zM57.6 448.2h1.3v1.3h-1.3zM72.4 450.8h1.1v1.1h-1.1zM47.6 438.6h1.0v1.0h-1.0zM47.9 457.6h1.3v1.3h-1.3zM62.7 450.8h0.6v0.6h-0.6zM73.5 471.3h0.8v0.8h-0.8z"/><path fill="#ecdcf4" opacity="0.6" d="M49.5 467.6h0.9v0.9h-0.9zM58.2 467.3h1.4v1.4h-1.4zM116.1 463.0h0.9v0.9h-0.9zM72.1 464.0h1.4v1.4h-1.4zM84.8 464.0h1.1v1.1h-1.1zM94.0 471.8h1.2v1.2h-1.2zM88.2 452.8h0.9v0.9h-0.9zM100.0 452.5h1.0v1.0h-1.0zM73.0 449.9h0.7v0.7h-0.7zM78.8 458.0h1.4v1.4h-1.4zM70.9 450.4h0.9v0.9h-0.9zM81.1 459.9h0.9v0.9h-0.9zM56.8 457.5h1.0v1.0h-1.0zM45.5 441.1h1.0v1.0h-1.0zM49.2 451.7h0.8v0.8h-0.8zM69.9 445.2h1.1v1.1h-1.1zM120.1 438.7h1.4v1.4h-1.4zM122.1 468.4h1.3v1.3h-1.3zM53.4 446.2h0.7v0.7h-0.7zM96.8 438.7h1.3v1.3h-1.3zM71.5 441.3h1.4v1.4h-1.4zM119.9 462.4h1.4v1.4h-1.4zM112.2 463.9h0.9v0.9h-0.9zM61.6 450.3h1.3v1.3h-1.3zM59.6 468.0h1.0v1.0h-1.0zM89.8 471.1h0.8v0.8h-0.8zM79.6 454.1h0.9v0.9h-0.9zM51.8 449.8h1.1v1.1h-1.1zM119.4 437.6h0.9v0.9h-0.9zM54.6 448.0h1.6v1.6h-1.6zM52.1 445.1h1.0v1.0h-1.0zM99.4 450.7h1.1v1.1h-1.1zM121.6 442.9h1.0v1.0h-1.0zM66.6 469.8h0.9v0.9h-0.9zM89.8 439.5h1.5v1.5h-1.5zM110.0 457.4h1.1v1.1h-1.1zM60.9 468.0h1.4v1.4h-1.4zM68.5 440.8h0.8v0.8h-0.8zM106.6 452.3h1.1v1.1h-1.1zM95.1 440.4h1.1v1.1h-1.1zM108.7 456.7h1.1v1.1h-1.1zM63.6 437.9h1.5v1.5h-1.5zM39.0 447.6h1.5v1.5h-1.5zM112.6 469.5h0.9v0.9h-0.9zM69.3 446.7h0.8v0.8h-0.8zM62.3 456.4h1.3v1.3h-1.3zM72.1 459.2h1.0v1.0h-1.0zM100.0 454.7h1.3v1.3h-1.3zM75.2 450.6h1.5v1.5h-1.5zM103.2 455.4h1.1v1.1h-1.1zM75.9 438.5h1.1v1.1h-1.1zM97.6 450.1h0.7v0.7h-0.7zM114.6 454.9h1.4v1.4h-1.4zM51.8 458.8h1.5v1.5h-1.5zM59.5 468.1h0.8v0.8h-0.8zM97.2 454.8h1.6v1.6h-1.6zM65.7 438.1h0.8v0.8h-0.8zM59.1 443.9h1.5v1.5h-1.5zM84.4 467.5h1.6v1.6h-1.6zM84.8 442.3h1.1v1.1h-1.1zM51.4 445.5h0.7v0.7h-0.7zM88.8 441.3h1.0v1.0h-1.0zM118.5 437.1h1.4v1.4h-1.4zM39.0 459.3h1.6v1.6h-1.6zM41.9 437.0h1.4v1.4h-1.4zM115.0 456.9h1.2v1.2h-1.2zM118.1 439.5h1.0v1.0h-1.0zM64.0 471.3h0.8v0.8h-0.8zM94.5 466.8h0.8v0.8h-0.8zM123.1 436.9h1.0v1.0h-1.0zM54.3 453.8h1.5v1.5h-1.5zM48.4 449.0h1.0v1.0h-1.0zM76.0 450.9h0.8v0.8h-0.8zM62.9 452.5h0.8v0.8h-0.8zM67.8 439.6h1.2v1.2h-1.2zM69.7 468.1h1.0v1.0h-1.0zM80.0 469.5h0.6v0.6h-0.6zM68.5 455.3h1.4v1.4h-1.4zM82.3 462.9h1.2v1.2h-1.2zM95.2 470.8h1.4v1.4h-1.4zM65.5 456.9h1.4v1.4h-1.4zM87.4 458.3h0.9v0.9h-0.9zM72.9 447.7h0.7v0.7h-0.7zM80.5 449.9h1.4v1.4h-1.4zM82.1 438.7h1.1v1.1h-1.1zM73.8 445.4h1.4v1.4h-1.4zM78.1 452.1h1.0v1.0h-1.0zM38.8 439.9h1.5v1.5h-1.5zM79.0 435.9h1.4v1.4h-1.4zM51.0 443.3h1.2v1.2h-1.2z"/><path fill="#d8b8ec" opacity="0.6" d="M87.6 486.8h0.7v0.7h-0.7zM89.8 498.7h1.5v1.5h-1.5zM93.3 491.6h0.7v0.7h-0.7zM82.7 475.3h0.7v0.7h-0.7zM123.1 485.1h1.0v1.0h-1.0zM115.7 471.2h1.1v1.1h-1.1zM103.0 472.1h1.4v1.4h-1.4zM86.2 485.0h1.5v1.5h-1.5zM113.1 490.0h1.3v1.3h-1.3zM89.2 473.9h0.7v0.7h-0.7zM111.1 496.0h0.8v0.8h-0.8zM104.9 487.0h1.4v1.4h-1.4zM103.4 471.2h1.4v1.4h-1.4zM109.1 481.5h1.1v1.1h-1.1zM120.2 487.7h1.6v1.6h-1.6zM119.2 494.6h0.8v0.8h-0.8zM101.7 471.3h1.0v1.0h-1.0zM93.9 489.0h0.9v0.9h-0.9zM90.4 497.5h1.3v1.3h-1.3zM93.8 487.0h1.0v1.0h-1.0zM83.7 489.3h1.2v1.2h-1.2zM100.3 495.3h1.0v1.0h-1.0zM107.3 486.4h1.3v1.3h-1.3zM86.3 492.0h0.8v0.8h-0.8zM118.8 475.1h0.7v0.7h-0.7z"/><path fill="#b8a0d8" opacity="0.7" d="M119.8 470.2h1.4v1.4h-1.4zM103.8 470.5h0.9v0.9h-0.9zM96.8 472.7h0.9v0.9h-0.9zM112.8 471.0h0.7v0.7h-0.7zM81.5 472.0h0.8v0.8h-0.8zM94.7 472.3h1.1v1.1h-1.1zM93.7 470.5h1.3v1.3h-1.3zM110.7 469.9h1.2v1.2h-1.2zM115.7 470.0h1.1v1.1h-1.1zM118.4 472.6h0.6v0.6h-0.6zM107.6 472.4h0.8v0.8h-0.8zM109.8 470.5h1.2v1.2h-1.2zM104.7 470.4h1.4v1.4h-1.4zM94.3 471.5h1.3v1.3h-1.3zM118.2 469.7h1.3v1.3h-1.3zM102.3 470.7h0.9v0.9h-0.9zM109.0 469.0h1.4v1.4h-1.4zM121.2 472.8h0.7v0.7h-0.7zM104.3 471.0h1.0v1.0h-1.0zM118.3 469.2h1.3v1.3h-1.3zM87.6 472.6h0.9v0.9h-0.9zM98.2 471.4h1.4v1.4h-1.4zM110.8 470.6h0.6v0.6h-0.6zM116.0 473.0h1.2v1.2h-1.2zM118.9 469.6h0.8v0.8h-0.8zM91.7 473.6h1.0v1.0h-1.0zM116.1 473.1h0.7v0.7h-0.7zM87.4 471.3h1.3v1.3h-1.3zM94.9 472.5h1.1v1.1h-1.1zM117.4 472.0h1.4v1.4h-1.4z"/><path fill="#a890cc" opacity="0.7" d="M118.7 469.9h1.1v1.1h-1.1zM97.1 472.5h1.0v1.0h-1.0zM81.4 470.8h1.0v1.0h-1.0zM102.0 471.2h1.2v1.2h-1.2zM119.1 469.3h1.3v1.3h-1.3zM91.4 474.1h0.7v0.7h-0.7zM104.5 473.9h1.2v1.2h-1.2zM113.5 469.5h0.7v0.7h-0.7zM95.2 470.0h0.7v0.7h-0.7zM97.8 472.9h0.6v0.6h-0.6zM116.3 470.2h0.7v0.7h-0.7zM98.8 470.7h1.2v1.2h-1.2zM113.9 471.0h1.3v1.3h-1.3zM123.3 469.6h1.2v1.2h-1.2zM113.2 470.0h1.2v1.2h-1.2zM99.1 472.1h1.1v1.1h-1.1zM87.5 473.8h0.6v0.6h-0.6zM123.4 473.3h1.2v1.2h-1.2zM99.9 470.2h1.2v1.2h-1.2zM118.2 470.8h1.4v1.4h-1.4zM119.0 470.3h0.8v0.8h-0.8z"/><path fill="#c8b0e4" opacity="0.7" d="M89.7 474.0h0.8v0.8h-0.8zM82.5 471.6h1.0v1.0h-1.0zM102.8 473.4h1.2v1.2h-1.2zM106.7 470.2h0.8v0.8h-0.8zM88.8 470.2h1.2v1.2h-1.2zM111.7 473.6h1.1v1.1h-1.1zM91.1 472.8h1.2v1.2h-1.2zM87.6 470.2h0.7v0.7h-0.7zM100.3 472.2h1.0v1.0h-1.0zM100.9 470.1h0.9v0.9h-0.9zM94.9 470.0h0.7v0.7h-0.7zM109.3 470.1h1.1v1.1h-1.1zM88.1 469.4h1.0v1.0h-1.0zM87.4 470.6h1.4v1.4h-1.4zM103.1 472.3h0.9v0.9h-0.9zM84.0 473.5h1.4v1.4h-1.4zM117.5 473.9h1.2v1.2h-1.2zM113.7 472.5h1.3v1.3h-1.3zM93.9 469.3h1.0v1.0h-1.0zM114.3 472.6h1.0v1.0h-1.0zM89.3 471.8h1.0v1.0h-1.0zM88.1 474.1h0.6v0.6h-0.6zM102.6 471.7h0.6v0.6h-0.6zM101.0 471.2h0.7v0.7h-0.7zM96.1 471.8h0.9v0.9h-0.9zM115.5 473.7h1.1v1.1h-1.1zM89.6 473.4h0.9v0.9h-0.9zM109.9 471.3h1.3v1.3h-1.3zM110.9 471.6h1.3v1.3h-1.3zM86.6 472.9h0.9v0.9h-0.9zM102.5 473.2h0.8v0.8h-0.8zM91.7 473.9h1.2v1.2h-1.2zM111.7 470.7h1.0v1.0h-1.0zM104.3 469.5h0.9v0.9h-0.9zM113.8 472.8h1.2v1.2h-1.2zM112.9 470.6h1.1v1.1h-1.1zM98.9 473.2h0.7v0.7h-0.7zM121.2 471.2h0.8v0.8h-0.8zM104.9 471.7h1.0v1.0h-1.0z"/></g><rect x="38.5" y="436.5" width="86" height="65" filter="url(#grain)" opacity="0.4"/><g filter="url(#soft)"><rect x="38.5" y="468.5" width="43" height="33" fill="#fff"/><path d="M53.1,477.2 C55.5,476.1 58.5,475.7 60.5,476.3 C63.5,477.5 65.5,479.5 66.8,480.7 L72.1,483.8 L70.3,489.2 L53.1,489.2 Z" fill="#d094e8"/><path d="M61.1,501.3 C61.5,497.5 62.0,495.0 62.5,494.0 C63.5,495.5 64.5,498.5 64.9,501.3 Z" fill="#d8a4ec"/><path fill="#f0a8e8" opacity="0.6" d="M76.9 479.9h1.0v1.0h-1.0zM75.9 479.4h1.2v1.2h-1.2zM79.6 476.4h0.9v0.9h-0.9zM79.1 494.2h1.5v1.5h-1.5zM78.1 479.6h0.6v0.6h-0.6zM78.9 488.8h1.1v1.1h-1.1zM77.3 487.5h1.3v1.3h-1.3zM76.8 487.1h0.6v0.6h-0.6zM74.4 479.0h1.2v1.2h-1.2zM76.0 483.6h1.3v1.3h-1.3zM78.6 486.7h1.5v1.5h-1.5zM77.2 475.2h1.5v1.5h-1.5z"/><path fill="#e090e0" opacity="0.6" d="M76.9 485.5h1.5v1.5h-1.5zM76.5 478.4h1.1v1.1h-1.1zM74.8 480.1h1.6v1.6h-1.6zM76.3 487.1h1.2v1.2h-1.2zM74.3 488.9h1.0v1.0h-1.0zM77.9 485.4h1.0v1.0h-1.0zM74.9 479.8h1.2v1.2h-1.2zM78.3 481.7h1.4v1.4h-1.4zM77.7 486.1h0.8v0.8h-0.8zM79.5 491.8h1.4v1.4h-1.4zM75.2 480.3h1.5v1.5h-1.5zM78.4 485.2h1.4v1.4h-1.4zM80.0 490.9h0.9v0.9h-0.9z"/></g></g>
<rect x="38.50" y="436.50" width="86.00" height="65.00" fill="none" stroke="#222" stroke-width="1" />
<rect x="38.50" y="468.50" width="43.00" height="33.00" fill="none" stroke="#222" stroke-width="1" />
<text x="40.00" y="499.60" font-size="8.4" text-anchor="start" fill="#111" stroke="#111" stroke-width="0.22" >x8</text>
<text x="122.10" y="499.60" font-size="8.4" text-anchor="end" fill="#111" stroke="#111" stroke-width="0.22" >x200</text>
<g clip-path="url(#cp9)"><g filter="url(#soft)"><rect x="155.2" y="357.3" width="70" height="68.9" fill="#fff"/><path fill="#7080f0" opacity="0.7" d="M174.3 369.9h.8v.8h-.8zM173.4 370.7h.8v.8h-.8zM167.3 378.1h.8v.8h-.8zM173.8 371.8h.8v.8h-.8zM179.4 371.6h.8v.8h-.8zM165.6 373.3h.8v.8h-.8zM184.4 372.2h.8v.8h-.8zM182.3 380.0h.8v.8h-.8zM182.8 374.1h.8v.8h-.8zM165.8 375.5h.8v.8h-.8zM166.8 380.2h.8v.8h-.8zM179.3 371.7h.8v.8h-.8zM166.7 375.4h.8v.8h-.8zM182.6 376.3h.8v.8h-.8zM180.5 368.0h.8v.8h-.8zM167.3 378.1h.8v.8h-.8zM181.7 380.5h.8v.8h-.8zM169.2 373.7h.8v.8h-.8zM183.4 376.5h.8v.8h-.8zM167.4 371.6h.8v.8h-.8zM172.6 371.1h.8v.8h-.8zM170.1 381.5h.8v.8h-.8zM177.2 381.4h.8v.8h-.8zM172.3 372.0h.8v.8h-.8zM166.7 377.6h.8v.8h-.8zM180.0 376.8h.8v.8h-.8zM169.6 378.9h.8v.8h-.8zM178.2 367.7h.8v.8h-.8zM168.9 380.1h.8v.8h-.8zM177.9 369.2h.8v.8h-.8zM169.1 378.5h.8v.8h-.8zM163.9 377.8h.8v.8h-.8zM184.3 371.4h.8v.8h-.8zM176.2 381.8h.8v.8h-.8zM175.2 369.0h.8v.8h-.8zM178.1 379.2h.8v.8h-.8zM175.9 381.9h.8v.8h-.8zM170.0 373.3h.8v.8h-.8zM172.7 380.6h.8v.8h-.8zM186.1 373.4h.8v.8h-.8zM166.2 374.1h.8v.8h-.8zM181.3 373.9h.8v.8h-.8zM183.4 369.1h.8v.8h-.8zM178.3 367.5h.8v.8h-.8zM182.5 376.9h.8v.8h-.8zM179.3 377.5h.8v.8h-.8zM184.3 371.5h.8v.8h-.8zM181.7 376.0h.8v.8h-.8zM179.5 379.0h.8v.8h-.8zM173.7 381.5h.8v.8h-.8zM181.1 370.1h.8v.8h-.8zM168.5 376.3h.8v.8h-.8zM167.2 378.9h.8v.8h-.8zM180.9 380.3h.8v.8h-.8zM174.9 381.0h.8v.8h-.8zM175.1 369.3h.8v.8h-.8zM183.7 369.5h.8v.8h-.8zM169.3 379.9h.8v.8h-.8zM183.3 372.3h.8v.8h-.8zM167.3 380.8h.8v.8h-.8zM180.9 368.6h.8v.8h-.8zM179.5 369.1h.8v.8h-.8zM169.4 375.8h.8v.8h-.8zM171.8 371.2h.8v.8h-.8zM169.2 375.8h.8v.8h-.8zM171.4 379.6h.8v.8h-.8zM182.7 371.9h.8v.8h-.8zM176.4 370.3h.8v.8h-.8zM167.6 379.0h.8v.8h-.8zM179.9 379.4h.8v.8h-.8zM184.0 374.3h.8v.8h-.8zM170.4 382.2h.8v.8h-.8zM174.8 380.5h.8v.8h-.8zM175.7 369.0h.8v.8h-.8zM177.7 380.4h.8v.8h-.8zM168.3 370.4h.8v.8h-.8zM179.5 368.3h.8v.8h-.8zM183.3 373.6h.8v.8h-.8zM182.3 373.9h.8v.8h-.8zM175.5 368.8h.8v.8h-.8zM180.4 378.9h.8v.8h-.8zM185.7 376.0h.8v.8h-.8zM164.7 374.4h.8v.8h-.8zM175.1 367.7h.8v.8h-.8zM165.3 377.8h.8v.8h-.8zM182.7 377.3h.8v.8h-.8zM165.5 374.9h.8v.8h-.8zM181.2 369.7h.8v.8h-.8zM167.3 379.9h.8v.8h-.8zM175.8 380.2h.8v.8h-.8zM167.3 371.4h.8v.8h-.8zM168.9 375.0h.8v.8h-.8zM173.3 382.1h.8v.8h-.8zM181.8 372.5h.8v.8h-.8zM185.1 372.5h.8v.8h-.8zM171.5 372.9h.8v.8h-.8zM177.2 379.8h.8v.8h-.8zM173.4 381.1h.8v.8h-.8zM179.9 367.6h.8v.8h-.8zM166.1 379.4h.8v.8h-.8zM184.8 375.4h.8v.8h-.8zM183.4 371.7h.8v.8h-.8zM173.6 381.9h.8v.8h-.8zM180.6 377.3h.8v.8h-.8zM167.5 377.6h.8v.8h-.8zM180.1 378.7h.8v.8h-.8zM182.9 379.0h.8v.8h-.8zM175.8 379.5h.8v.8h-.8zM167.6 380.4h.8v.8h-.8zM173.6 370.1h.8v.8h-.8zM164.3 375.8h.8v.8h-.8zM167.6 378.5h.8v.8h-.8zM168.8 378.2h.8v.8h-.8zM166.5 378.3h.8v.8h-.8zM175.9 380.8h.8v.8h-.8zM184.0 372.4h.8v.8h-.8zM185.7 376.0h.8v.8h-.8zM163.7 376.8h.8v.8h-.8zM175.7 379.7h.8v.8h-.8zM183.2 368.4h.8v.8h-.8zM169.6 372.4h.8v.8h-.8zM171.2 369.2h.8v.8h-.8zM183.2 373.5h.8v.8h-.8zM165.5 379.8h.8v.8h-.8zM185.7 373.2h.8v.8h-.8zM175.9 369.9h.8v.8h-.8zM178.3 378.9h.8v.8h-.8zM172.0 382.1h.8v.8h-.8zM168.4 380.3h.8v.8h-.8zM182.4 369.7h.8v.8h-.8zM179.8 378.8h.8v.8h-.8zM168.8 379.0h.8v.8h-.8zM182.8 378.0h.8v.8h-.8zM180.9 377.2h.8v.8h-.8zM183.4 377.6h.8v.8h-.8zM180.1 377.8h.8v.8h-.8zM170.9 373.3h.8v.8h-.8zM169.2 373.3h.8v.8h-.8zM177.8 380.3h.8v.8h-.8zM179.0 379.1h.8v.8h-.8zM170.9 383.4h.8v.8h-.8zM169.2 380.0h.8v.8h-.8zM166.0 375.0h.8v.8h-.8zM174.5 368.6h.8v.8h-.8zM178.3 368.0h.8v.8h-.8zM171.3 371.4h.8v.8h-.8zM175.2 382.9h.8v.8h-.8zM169.9 374.0h.8v.8h-.8zM181.9 371.4h.8v.8h-.8zM168.0 379.3h.8v.8h-.8zM169.0 376.5h.8v.8h-.8zM174.5 369.5h.8v.8h-.8zM181.2 369.2h.8v.8h-.8zM168.9 376.2h.8v.8h-.8zM181.9 374.6h.8v.8h-.8zM182.2 374.9h.8v.8h-.8zM178.1 380.1h.8v.8h-.8zM172.8 381.8h.8v.8h-.8zM169.1 376.2h.8v.8h-.8zM179.4 368.0h.8v.8h-.8zM168.5 380.2h.8v.8h-.8zM172.7 370.4h.8v.8h-.8zM181.7 373.6h.8v.8h-.8zM176.8 381.0h.8v.8h-.8zM167.4 382.0h.8v.8h-.8zM181.1 374.8h.8v.8h-.8zM165.7 381.8h.8v.8h-.8zM164.6 374.8h.8v.8h-.8zM178.8 379.8h.8v.8h-.8zM173.7 381.6h.8v.8h-.8zM178.9 370.4h.8v.8h-.8zM169.6 380.6h.8v.8h-.8zM171.9 372.3h.8v.8h-.8zM170.0 379.2h.8v.8h-.8zM183.6 371.5h.8v.8h-.8zM165.5 375.1h.8v.8h-.8zM182.2 372.8h.8v.8h-.8zM182.2 374.4h.8v.8h-.8zM166.7 377.7h.8v.8h-.8zM183.2 368.6h.8v.8h-.8zM173.3 380.9h.8v.8h-.8zM181.3 377.5h.8v.8h-.8zM181.0 376.3h.8v.8h-.8zM182.7 372.3h.8v.8h-.8zM170.8 383.1h.8v.8h-.8zM173.5 382.7h.8v.8h-.8zM180.3 377.2h.8v.8h-.8zM180.9 374.3h.8v.8h-.8zM179.6 380.4h.8v.8h-.8zM182.1 367.9h.8v.8h-.8zM178.7 371.2h.8v.8h-.8zM176.6 369.4h.8v.8h-.8zM171.0 371.3h.8v.8h-.8zM170.8 371.6h.8v.8h-.8zM177.9 370.7h.8v.8h-.8zM167.1 377.0h.8v.8h-.8zM174.6 369.9h.8v.8h-.8zM180.0 380.9h.8v.8h-.8zM176.5 368.8h.8v.8h-.8zM167.6 380.1h.8v.8h-.8z"/><path fill="#3a58d8" opacity="0.7" d="M174.2 374.3h.8v.8h-.8zM172.3 372.8h.8v.8h-.8zM176.2 373.6h.8v.8h-.8zM173.7 374.1h.8v.8h-.8zM176.3 375.9h.8v.8h-.8zM174.2 374.6h.8v.8h-.8zM173.3 374.3h.8v.8h-.8zM177.1 376.7h.8v.8h-.8zM173.6 373.3h.8v.8h-.8zM169.8 377.1h.8v.8h-.8zM169.7 377.4h.8v.8h-.8zM176.2 371.4h.8v.8h-.8zM179.2 372.2h.8v.8h-.8zM174.8 373.8h.8v.8h-.8zM174.5 379.6h.8v.8h-.8zM179.8 375.1h.8v.8h-.8zM176.6 377.0h.8v.8h-.8zM176.7 375.3h.8v.8h-.8zM177.1 374.0h.8v.8h-.8zM177.0 377.2h.8v.8h-.8zM179.1 372.9h.8v.8h-.8zM175.9 375.0h.8v.8h-.8zM172.5 379.2h.8v.8h-.8zM177.0 371.5h.8v.8h-.8zM177.8 376.7h.8v.8h-.8zM170.4 377.7h.8v.8h-.8zM170.5 377.0h.8v.8h-.8zM175.5 375.4h.8v.8h-.8zM177.2 373.2h.8v.8h-.8zM174.6 374.3h.8v.8h-.8zM177.8 374.7h.8v.8h-.8zM169.6 376.5h.8v.8h-.8zM176.7 376.7h.8v.8h-.8zM178.1 374.2h.8v.8h-.8zM178.2 376.6h.8v.8h-.8zM173.7 374.0h.8v.8h-.8zM179.9 375.1h.8v.8h-.8zM173.7 372.5h.8v.8h-.8zM174.4 377.6h.8v.8h-.8zM175.9 377.2h.8v.8h-.8zM169.3 376.7h.8v.8h-.8zM179.1 374.3h.8v.8h-.8zM177.3 377.3h.8v.8h-.8zM177.4 374.5h.8v.8h-.8zM171.3 377.0h.8v.8h-.8zM173.3 372.3h.8v.8h-.8zM170.3 377.6h.8v.8h-.8zM178.8 375.2h.8v.8h-.8zM173.0 377.4h.8v.8h-.8zM175.5 372.1h.8v.8h-.8zM179.6 373.6h.8v.8h-.8zM172.7 379.2h.8v.8h-.8zM179.8 375.9h.8v.8h-.8zM179.6 374.4h.8v.8h-.8zM177.0 376.0h.8v.8h-.8zM177.1 374.8h.8v.8h-.8zM172.9 378.8h.8v.8h-.8zM170.3 377.5h.8v.8h-.8zM175.1 373.6h.8v.8h-.8zM174.8 374.9h.8v.8h-.8zM178.0 374.6h.8v.8h-.8zM178.7 372.3h.8v.8h-.8zM173.0 374.3h.8v.8h-.8zM171.1 376.3h.8v.8h-.8zM172.3 375.5h.8v.8h-.8zM178.3 375.0h.8v.8h-.8zM174.5 377.3h.8v.8h-.8zM171.6 376.2h.8v.8h-.8zM171.8 379.0h.8v.8h-.8zM174.7 378.8h.8v.8h-.8zM179.2 375.2h.8v.8h-.8zM178.4 377.7h.8v.8h-.8zM176.2 375.4h.8v.8h-.8zM176.5 374.3h.8v.8h-.8zM172.4 378.1h.8v.8h-.8zM177.7 377.5h.8v.8h-.8zM176.3 373.8h.8v.8h-.8zM175.8 377.9h.8v.8h-.8zM172.2 377.6h.8v.8h-.8zM178.3 373.6h.8v.8h-.8zM177.7 373.6h.8v.8h-.8zM176.7 374.3h.8v.8h-.8zM169.6 375.6h.8v.8h-.8zM174.2 379.4h.8v.8h-.8zM177.0 376.7h.8v.8h-.8zM177.0 375.6h.8v.8h-.8zM175.8 373.1h.8v.8h-.8zM179.7 374.0h.8v.8h-.8zM178.3 374.6h.8v.8h-.8zM169.6 377.1h.8v.8h-.8zM174.6 372.7h.8v.8h-.8zM177.1 374.0h.8v.8h-.8zM172.3 372.9h.8v.8h-.8zM178.5 376.2h.8v.8h-.8zM178.4 372.2h.8v.8h-.8zM175.0 372.4h.8v.8h-.8zM176.3 377.5h.8v.8h-.8zM171.4 377.9h.8v.8h-.8z"/><path fill="#9aa4f6" opacity="0.7" d="M162.6 378.6h.8v.8h-.8zM187.6 370.1h.8v.8h-.8zM185.7 376.9h.8v.8h-.8zM163.4 375.4h.8v.8h-.8zM189.8 375.3h.8v.8h-.8zM195.3 372.8h.8v.8h-.8zM173.0 367.0h.8v.8h-.8zM148.1 380.4h.8v.8h-.8zM173.1 367.3h.8v.8h-.8zM174.6 366.2h.8v.8h-.8zM157.5 388.5h.8v.8h-.8zM163.5 387.2h.8v.8h-.8zM174.0 386.8h.8v.8h-.8zM171.0 385.2h.8v.8h-.8zM183.7 380.2h.8v.8h-.8zM187.1 370.1h.8v.8h-.8zM175.4 386.4h.8v.8h-.8zM188.9 374.2h.8v.8h-.8zM157.2 376.3h.8v.8h-.8zM181.0 360.4h.8v.8h-.8zM189.1 365.6h.8v.8h-.8zM187.7 372.3h.8v.8h-.8zM163.7 379.8h.8v.8h-.8zM159.5 385.9h.8v.8h-.8zM194.1 363.3h.8v.8h-.8zM182.6 383.4h.8v.8h-.8zM166.4 382.8h.8v.8h-.8zM164.1 373.3h.8v.8h-.8zM169.6 388.4h.8v.8h-.8zM159.4 383.7h.8v.8h-.8zM184.7 381.5h.8v.8h-.8zM184.0 380.3h.8v.8h-.8zM184.7 362.7h.8v.8h-.8zM168.7 385.6h.8v.8h-.8zM160.6 383.2h.8v.8h-.8zM163.3 368.0h.8v.8h-.8zM163.7 384.1h.8v.8h-.8zM178.8 383.1h.8v.8h-.8zM187.4 362.7h.8v.8h-.8zM190.4 366.1h.8v.8h-.8zM176.5 384.2h.8v.8h-.8zM168.2 366.0h.8v.8h-.8zM184.8 366.2h.8v.8h-.8zM161.2 373.1h.8v.8h-.8zM161.3 383.7h.8v.8h-.8zM183.6 381.6h.8v.8h-.8zM191.6 371.5h.8v.8h-.8zM172.8 392.7h.8v.8h-.8zM182.5 363.0h.8v.8h-.8zM175.6 366.7h.8v.8h-.8zM180.0 382.6h.8v.8h-.8zM177.5 383.9h.8v.8h-.8zM171.3 368.1h.8v.8h-.8zM169.2 368.5h.8v.8h-.8zM193.4 381.1h.8v.8h-.8zM155.9 373.6h.8v.8h-.8zM172.5 366.6h.8v.8h-.8zM175.9 367.1h.8v.8h-.8zM189.8 366.8h.8v.8h-.8zM192.6 373.0h.8v.8h-.8zM166.1 372.2h.8v.8h-.8zM163.8 386.2h.8v.8h-.8zM159.6 373.5h.8v.8h-.8zM167.5 365.5h.8v.8h-.8zM188.6 375.2h.8v.8h-.8zM156.3 377.8h.8v.8h-.8zM181.4 383.8h.8v.8h-.8zM187.2 382.1h.8v.8h-.8zM164.5 369.7h.8v.8h-.8zM171.5 387.6h.8v.8h-.8zM166.6 371.7h.8v.8h-.8zM191.4 368.0h.8v.8h-.8zM177.8 361.9h.8v.8h-.8zM162.1 388.4h.8v.8h-.8zM187.7 382.9h.8v.8h-.8zM172.9 362.3h.8v.8h-.8zM168.5 383.5h.8v.8h-.8zM186.9 372.1h.8v.8h-.8zM162.9 374.8h.8v.8h-.8zM182.1 380.6h.8v.8h-.8zM159.9 383.4h.8v.8h-.8zM185.8 370.1h.8v.8h-.8zM186.5 368.3h.8v.8h-.8zM153.1 374.0h.8v.8h-.8zM166.1 382.9h.8v.8h-.8zM158.2 380.5h.8v.8h-.8zM164.1 365.2h.8v.8h-.8zM185.9 376.1h.8v.8h-.8zM161.1 382.4h.8v.8h-.8zM172.0 385.2h.8v.8h-.8zM182.9 366.0h.8v.8h-.8zM172.8 361.0h.8v.8h-.8zM167.0 370.2h.8v.8h-.8zM162.8 371.5h.8v.8h-.8zM169.2 369.0h.8v.8h-.8zM172.5 384.9h.8v.8h-.8zM190.1 376.1h.8v.8h-.8zM183.2 381.3h.8v.8h-.8zM155.6 380.1h.8v.8h-.8zM190.3 375.4h.8v.8h-.8zM167.4 367.6h.8v.8h-.8zM163.0 374.2h.8v.8h-.8zM162.7 368.4h.8v.8h-.8zM161.3 373.2h.8v.8h-.8zM190.1 378.7h.8v.8h-.8zM179.9 382.7h.8v.8h-.8zM177.9 388.6h.8v.8h-.8zM166.7 370.7h.8v.8h-.8zM186.9 374.9h.8v.8h-.8zM163.8 384.9h.8v.8h-.8zM186.9 383.5h.8v.8h-.8zM163.9 367.9h.8v.8h-.8zM170.3 362.0h.8v.8h-.8zM186.3 365.6h.8v.8h-.8zM175.3 366.6h.8v.8h-.8zM164.1 384.2h.8v.8h-.8zM190.6 362.3h.8v.8h-.8zM184.9 369.3h.8v.8h-.8zM160.0 374.5h.8v.8h-.8zM190.6 375.3h.8v.8h-.8zM191.1 369.5h.8v.8h-.8zM173.5 383.8h.8v.8h-.8zM172.6 387.1h.8v.8h-.8zM183.8 365.0h.8v.8h-.8zM190.0 364.9h.8v.8h-.8zM175.7 384.9h.8v.8h-.8zM163.2 384.7h.8v.8h-.8zM171.3 384.7h.8v.8h-.8zM185.2 368.6h.8v.8h-.8zM161.8 374.6h.8v.8h-.8zM166.6 371.7h.8v.8h-.8zM162.5 372.9h.8v.8h-.8zM167.6 386.0h.8v.8h-.8zM165.3 388.7h.8v.8h-.8zM176.3 389.4h.8v.8h-.8zM163.3 368.2h.8v.8h-.8zM177.1 365.2h.8v.8h-.8zM166.9 369.3h.8v.8h-.8zM175.1 367.0h.8v.8h-.8zM171.1 389.3h.8v.8h-.8zM184.5 368.8h.8v.8h-.8zM189.8 374.6h.8v.8h-.8zM162.8 373.3h.8v.8h-.8zM166.2 369.7h.8v.8h-.8zM164.1 382.3h.8v.8h-.8zM189.1 375.5h.8v.8h-.8zM182.2 359.9h.8v.8h-.8zM165.9 385.4h.8v.8h-.8zM173.9 383.7h.8v.8h-.8zM166.8 387.3h.8v.8h-.8zM164.0 374.2h.8v.8h-.8zM172.9 386.4h.8v.8h-.8zM163.0 376.2h.8v.8h-.8zM171.0 385.1h.8v.8h-.8zM188.1 374.3h.8v.8h-.8zM164.4 387.1h.8v.8h-.8zM161.7 379.1h.8v.8h-.8zM168.8 369.7h.8v.8h-.8zM175.2 385.0h.8v.8h-.8zM155.4 385.4h.8v.8h-.8zM180.0 364.9h.8v.8h-.8zM160.4 389.9h.8v.8h-.8zM166.7 384.4h.8v.8h-.8zM184.1 379.6h.8v.8h-.8zM193.1 367.9h.8v.8h-.8zM172.6 392.0h.8v.8h-.8zM187.3 369.7h.8v.8h-.8zM182.5 361.5h.8v.8h-.8zM178.2 362.0h.8v.8h-.8zM188.5 380.3h.8v.8h-.8zM174.3 387.8h.8v.8h-.8zM159.6 376.2h.8v.8h-.8zM163.3 382.0h.8v.8h-.8zM189.3 363.3h.8v.8h-.8zM162.1 378.3h.8v.8h-.8zM169.6 369.2h.8v.8h-.8zM189.5 378.5h.8v.8h-.8zM183.9 379.3h.8v.8h-.8zM162.2 385.9h.8v.8h-.8zM160.9 377.5h.8v.8h-.8zM187.7 375.5h.8v.8h-.8zM151.7 385.7h.8v.8h-.8z"/><path fill="#e0a020" opacity="0.85" d="M199.2 372.3h.8v.8h-.8zM196.8 378.5h.8v.8h-.8zM193.5 377.5h.8v.8h-.8zM194.9 375.9h.8v.8h-.8zM194.8 374.8h.8v.8h-.8zM200.7 371.9h.8v.8h-.8zM193.4 377.3h.8v.8h-.8zM198.7 373.0h.8v.8h-.8zM197.1 379.0h.8v.8h-.8zM200.7 374.9h.8v.8h-.8zM194.0 375.7h.8v.8h-.8zM200.0 376.3h.8v.8h-.8zM201.6 372.4h.8v.8h-.8zM200.3 373.4h.8v.8h-.8zM195.8 375.0h.8v.8h-.8zM200.0 373.5h.8v.8h-.8zM195.0 379.3h.8v.8h-.8zM198.9 372.2h.8v.8h-.8zM196.3 378.7h.8v.8h-.8zM198.1 372.9h.8v.8h-.8zM194.1 376.3h.8v.8h-.8zM201.2 374.3h.8v.8h-.8zM200.3 372.4h.8v.8h-.8zM200.3 373.3h.8v.8h-.8zM198.6 377.0h.8v.8h-.8zM199.2 371.8h.8v.8h-.8zM196.8 379.0h.8v.8h-.8zM199.5 376.3h.8v.8h-.8zM199.3 376.6h.8v.8h-.8zM198.9 377.1h.8v.8h-.8zM197.9 373.3h.8v.8h-.8zM196.5 378.1h.8v.8h-.8zM201.5 372.8h.8v.8h-.8zM195.2 378.9h.8v.8h-.8zM198.3 372.6h.8v.8h-.8zM194.1 376.2h.8v.8h-.8zM196.5 373.1h.8v.8h-.8zM200.3 376.4h.8v.8h-.8zM198.3 377.2h.8v.8h-.8zM199.0 376.9h.8v.8h-.8zM200.5 373.7h.8v.8h-.8zM194.0 379.3h.8v.8h-.8zM201.0 375.7h.8v.8h-.8zM194.2 376.8h.8v.8h-.8zM199.5 377.3h.8v.8h-.8zM199.6 376.7h.8v.8h-.8zM194.1 377.7h.8v.8h-.8zM197.5 378.3h.8v.8h-.8zM197.9 378.3h.8v.8h-.8zM195.3 374.3h.8v.8h-.8zM194.4 379.5h.8v.8h-.8zM194.3 379.3h.8v.8h-.8zM199.9 376.5h.8v.8h-.8zM200.0 372.6h.8v.8h-.8zM195.8 374.8h.8v.8h-.8zM195.6 379.5h.8v.8h-.8zM199.3 372.2h.8v.8h-.8zM195.1 378.2h.8v.8h-.8zM196.8 373.4h.8v.8h-.8zM193.6 377.7h.8v.8h-.8zM199.7 372.8h.8v.8h-.8zM194.8 375.3h.8v.8h-.8zM196.9 378.3h.8v.8h-.8zM200.4 374.3h.8v.8h-.8zM194.5 378.5h.8v.8h-.8zM194.9 379.5h.8v.8h-.8zM201.0 373.8h.8v.8h-.8zM200.3 376.4h.8v.8h-.8zM201.2 372.1h.8v.8h-.8zM201.8 372.9h.8v.8h-.8zM194.7 377.9h.8v.8h-.8zM201.4 374.8h.8v.8h-.8zM193.9 376.8h.8v.8h-.8zM193.7 379.0h.8v.8h-.8zM200.4 373.3h.8v.8h-.8zM194.9 378.4h.8v.8h-.8zM194.6 375.1h.8v.8h-.8zM199.4 373.2h.8v.8h-.8zM198.6 377.6h.8v.8h-.8zM200.2 372.2h.8v.8h-.8zM194.3 376.4h.8v.8h-.8zM194.7 379.1h.8v.8h-.8zM200.8 372.0h.8v.8h-.8zM196.9 378.4h.8v.8h-.8zM194.7 374.8h.8v.8h-.8zM199.4 376.2h.8v.8h-.8zM194.2 376.8h.8v.8h-.8zM196.3 378.7h.8v.8h-.8z"/><path fill="#40b060" opacity="0.85" d="M201.3 371.2h.8v.8h-.8zM199.1 370.5h.8v.8h-.8zM199.7 379.0h.8v.8h-.8zM196.2 380.6h.8v.8h-.8zM203.6 372.9h.8v.8h-.8zM203.2 372.6h.8v.8h-.8zM200.5 376.9h.8v.8h-.8zM202.7 372.9h.8v.8h-.8zM196.3 379.5h.8v.8h-.8zM201.9 371.9h.8v.8h-.8zM195.6 373.4h.8v.8h-.8zM199.8 378.1h.8v.8h-.8zM192.6 381.2h.8v.8h-.8zM200.9 377.6h.8v.8h-.8zM194.7 373.9h.8v.8h-.8zM202.6 371.9h.8v.8h-.8zM202.5 372.9h.8v.8h-.8zM194.4 374.3h.8v.8h-.8zM193.0 376.4h.8v.8h-.8zM198.6 371.7h.8v.8h-.8zM200.2 370.2h.8v.8h-.8zM200.3 370.8h.8v.8h-.8zM203.4 373.5h.8v.8h-.8zM202.1 372.2h.8v.8h-.8zM194.8 381.5h.8v.8h-.8zM201.1 375.8h.8v.8h-.8zM196.2 379.7h.8v.8h-.8zM196.0 380.4h.8v.8h-.8zM192.3 377.3h.8v.8h-.8zM193.3 374.9h.8v.8h-.8zM192.5 378.9h.8v.8h-.8zM200.5 377.6h.8v.8h-.8zM196.6 380.0h.8v.8h-.8zM193.3 375.8h.8v.8h-.8zM196.1 372.3h.8v.8h-.8zM198.3 371.1h.8v.8h-.8zM193.2 381.3h.8v.8h-.8zM198.0 379.5h.8v.8h-.8zM192.9 377.6h.8v.8h-.8zM192.8 376.2h.8v.8h-.8zM199.2 379.1h.8v.8h-.8zM196.7 371.4h.8v.8h-.8zM193.7 380.2h.8v.8h-.8zM202.9 374.7h.8v.8h-.8zM194.8 381.1h.8v.8h-.8zM203.8 371.6h.8v.8h-.8zM194.2 380.2h.8v.8h-.8zM191.4 378.7h.8v.8h-.8zM193.5 375.1h.8v.8h-.8zM193.4 379.8h.8v.8h-.8zM191.9 378.9h.8v.8h-.8zM202.0 373.9h.8v.8h-.8zM199.7 378.7h.8v.8h-.8zM202.4 374.8h.8v.8h-.8zM200.6 376.6h.8v.8h-.8zM200.1 377.7h.8v.8h-.8zM194.6 380.6h.8v.8h-.8zM202.5 371.6h.8v.8h-.8zM201.9 370.3h.8v.8h-.8zM203.3 373.5h.8v.8h-.8zM199.8 378.4h.8v.8h-.8zM196.8 379.7h.8v.8h-.8zM197.2 372.0h.8v.8h-.8zM200.5 377.2h.8v.8h-.8zM197.4 372.1h.8v.8h-.8zM195.7 372.1h.8v.8h-.8zM196.2 380.3h.8v.8h-.8zM192.2 379.4h.8v.8h-.8zM192.3 379.7h.8v.8h-.8zM197.7 380.2h.8v.8h-.8zM203.2 374.0h.8v.8h-.8zM191.8 377.8h.8v.8h-.8zM194.6 380.4h.8v.8h-.8zM200.6 371.5h.8v.8h-.8zM200.4 377.1h.8v.8h-.8zM198.7 370.9h.8v.8h-.8zM202.1 370.8h.8v.8h-.8zM200.3 376.7h.8v.8h-.8zM193.6 380.3h.8v.8h-.8zM198.8 378.7h.8v.8h-.8zM192.6 375.9h.8v.8h-.8zM196.7 372.0h.8v.8h-.8zM192.0 378.0h.8v.8h-.8zM191.6 376.8h.8v.8h-.8zM203.2 373.0h.8v.8h-.8zM199.7 371.1h.8v.8h-.8zM201.8 375.0h.8v.8h-.8zM196.5 371.9h.8v.8h-.8zM194.4 380.4h.8v.8h-.8zM203.5 371.3h.8v.8h-.8zM199.5 378.8h.8v.8h-.8zM194.9 374.4h.8v.8h-.8zM194.0 380.4h.8v.8h-.8zM192.1 379.4h.8v.8h-.8zM193.0 376.0h.8v.8h-.8zM191.7 380.8h.8v.8h-.8zM195.8 373.6h.8v.8h-.8zM201.2 370.1h.8v.8h-.8zM203.5 371.2h.8v.8h-.8zM194.1 374.3h.8v.8h-.8zM193.3 376.4h.8v.8h-.8zM195.2 380.4h.8v.8h-.8zM191.6 379.3h.8v.8h-.8zM200.8 370.6h.8v.8h-.8zM198.7 378.3h.8v.8h-.8zM201.6 371.4h.8v.8h-.8zM202.1 373.9h.8v.8h-.8zM198.9 370.6h.8v.8h-.8zM194.4 380.6h.8v.8h-.8zM201.2 375.6h.8v.8h-.8zM195.1 380.7h.8v.8h-.8zM199.3 378.6h.8v.8h-.8zM197.6 379.2h.8v.8h-.8zM191.8 379.7h.8v.8h-.8zM201.3 369.9h.8v.8h-.8zM201.1 371.3h.8v.8h-.8zM199.2 370.4h.8v.8h-.8zM195.9 380.3h.8v.8h-.8zM202.1 371.7h.8v.8h-.8zM197.6 379.4h.8v.8h-.8zM199.8 370.5h.8v.8h-.8zM196.0 379.8h.8v.8h-.8zM203.1 371.2h.8v.8h-.8zM194.4 373.9h.8v.8h-.8zM192.5 379.5h.8v.8h-.8zM199.3 378.5h.8v.8h-.8zM199.1 379.3h.8v.8h-.8zM201.9 375.3h.8v.8h-.8zM193.0 376.5h.8v.8h-.8zM192.3 379.2h.8v.8h-.8z"/><path fill="#7080f0" opacity="0.85" d="M209.1 368.1h.8v.8h-.8zM205.1 378.2h.8v.8h-.8zM189.6 388.3h.8v.8h-.8zM193.8 384.1h.8v.8h-.8zM200.8 367.3h.8v.8h-.8zM186.0 383.3h.8v.8h-.8zM185.3 384.3h.8v.8h-.8zM191.8 385.3h.8v.8h-.8zM194.1 371.4h.8v.8h-.8zM189.2 384.1h.8v.8h-.8zM208.1 373.3h.8v.8h-.8zM194.1 386.4h.8v.8h-.8zM193.2 383.9h.8v.8h-.8zM185.0 381.8h.8v.8h-.8zM190.1 375.9h.8v.8h-.8zM209.5 376.8h.8v.8h-.8zM188.9 385.7h.8v.8h-.8zM187.5 375.8h.8v.8h-.8zM211.0 370.5h.8v.8h-.8zM196.3 369.8h.8v.8h-.8zM205.4 365.1h.8v.8h-.8zM193.5 383.9h.8v.8h-.8zM196.7 383.1h.8v.8h-.8zM183.4 372.6h.8v.8h-.8zM204.6 376.1h.8v.8h-.8zM209.6 366.4h.8v.8h-.8zM189.0 384.5h.8v.8h-.8zM207.4 362.2h.8v.8h-.8zM205.1 367.3h.8v.8h-.8zM188.4 384.2h.8v.8h-.8zM182.8 392.1h.8v.8h-.8zM187.0 376.3h.8v.8h-.8zM206.9 374.0h.8v.8h-.8zM192.6 372.5h.8v.8h-.8zM182.7 383.9h.8v.8h-.8zM199.0 382.1h.8v.8h-.8zM201.5 381.1h.8v.8h-.8zM197.7 385.6h.8v.8h-.8zM203.2 379.7h.8v.8h-.8zM208.4 361.7h.8v.8h-.8zM209.6 369.9h.8v.8h-.8zM182.4 388.7h.8v.8h-.8zM204.4 377.6h.8v.8h-.8zM199.2 366.9h.8v.8h-.8zM186.0 386.6h.8v.8h-.8zM189.8 384.6h.8v.8h-.8zM209.3 363.5h.8v.8h-.8zM178.8 382.8h.8v.8h-.8zM193.8 386.0h.8v.8h-.8zM192.4 372.5h.8v.8h-.8zM210.9 368.9h.8v.8h-.8zM206.0 382.5h.8v.8h-.8zM204.2 383.2h.8v.8h-.8zM194.9 386.7h.8v.8h-.8zM199.5 367.6h.8v.8h-.8zM181.8 387.1h.8v.8h-.8zM206.9 362.4h.8v.8h-.8zM192.8 368.6h.8v.8h-.8zM189.2 377.3h.8v.8h-.8zM194.9 369.3h.8v.8h-.8zM201.0 365.9h.8v.8h-.8zM193.9 370.5h.8v.8h-.8zM192.9 371.2h.8v.8h-.8zM203.7 362.9h.8v.8h-.8zM189.2 393.2h.8v.8h-.8zM189.9 388.3h.8v.8h-.8zM208.4 367.6h.8v.8h-.8zM193.6 369.8h.8v.8h-.8zM205.2 362.2h.8v.8h-.8zM188.1 384.1h.8v.8h-.8zM211.1 366.9h.8v.8h-.8zM196.6 363.9h.8v.8h-.8zM187.1 382.8h.8v.8h-.8zM186.1 384.6h.8v.8h-.8zM204.5 376.2h.8v.8h-.8zM188.1 381.3h.8v.8h-.8zM195.7 367.4h.8v.8h-.8zM208.8 367.5h.8v.8h-.8zM201.0 384.7h.8v.8h-.8zM203.8 377.8h.8v.8h-.8zM192.0 385.3h.8v.8h-.8zM188.8 382.0h.8v.8h-.8zM202.1 380.0h.8v.8h-.8zM185.2 384.5h.8v.8h-.8zM205.7 377.6h.8v.8h-.8zM186.5 376.5h.8v.8h-.8zM186.5 383.2h.8v.8h-.8zM189.1 390.2h.8v.8h-.8zM200.9 365.1h.8v.8h-.8zM211.5 361.1h.8v.8h-.8zM209.0 369.3h.8v.8h-.8zM201.3 366.9h.8v.8h-.8zM210.0 374.2h.8v.8h-.8zM204.2 376.6h.8v.8h-.8zM187.5 384.0h.8v.8h-.8zM193.5 388.9h.8v.8h-.8zM193.0 386.5h.8v.8h-.8zM206.3 368.0h.8v.8h-.8zM183.1 386.9h.8v.8h-.8zM201.6 387.5h.8v.8h-.8zM206.0 375.5h.8v.8h-.8zM204.3 367.1h.8v.8h-.8zM193.1 371.9h.8v.8h-.8zM189.0 375.3h.8v.8h-.8zM217.2 367.7h.8v.8h-.8zM198.1 387.0h.8v.8h-.8zM195.4 383.8h.8v.8h-.8zM199.6 381.5h.8v.8h-.8zM193.8 367.1h.8v.8h-.8zM204.1 377.2h.8v.8h-.8zM201.3 380.4h.8v.8h-.8zM187.7 383.9h.8v.8h-.8zM210.4 359.2h.8v.8h-.8zM191.6 384.4h.8v.8h-.8zM193.7 370.7h.8v.8h-.8zM192.0 387.4h.8v.8h-.8zM196.6 383.5h.8v.8h-.8zM208.0 373.0h.8v.8h-.8zM189.4 383.3h.8v.8h-.8zM202.5 380.1h.8v.8h-.8zM209.1 371.9h.8v.8h-.8zM208.5 374.1h.8v.8h-.8zM189.9 374.8h.8v.8h-.8zM183.6 387.3h.8v.8h-.8zM193.9 384.1h.8v.8h-.8zM204.2 379.4h.8v.8h-.8zM204.6 366.0h.8v.8h-.8zM193.0 384.5h.8v.8h-.8zM199.7 383.6h.8v.8h-.8zM207.0 369.1h.8v.8h-.8zM192.5 384.0h.8v.8h-.8zM191.2 372.8h.8v.8h-.8zM191.4 390.8h.8v.8h-.8zM202.8 378.6h.8v.8h-.8zM189.3 375.3h.8v.8h-.8zM199.0 368.1h.8v.8h-.8zM189.4 376.2h.8v.8h-.8zM188.4 383.9h.8v.8h-.8zM191.4 386.8h.8v.8h-.8zM207.7 366.8h.8v.8h-.8zM197.3 366.5h.8v.8h-.8zM192.4 372.4h.8v.8h-.8zM209.9 364.7h.8v.8h-.8zM191.6 368.7h.8v.8h-.8zM210.0 367.8h.8v.8h-.8zM204.7 363.4h.8v.8h-.8zM209.1 369.1h.8v.8h-.8zM189.5 376.3h.8v.8h-.8zM203.0 381.8h.8v.8h-.8zM204.5 376.4h.8v.8h-.8zM208.2 372.8h.8v.8h-.8zM195.4 368.5h.8v.8h-.8zM204.7 367.4h.8v.8h-.8zM188.5 375.7h.8v.8h-.8zM208.3 367.8h.8v.8h-.8zM187.1 387.0h.8v.8h-.8zM184.3 379.0h.8v.8h-.8zM201.8 382.4h.8v.8h-.8zM214.2 374.4h.8v.8h-.8zM201.4 364.9h.8v.8h-.8zM200.8 367.4h.8v.8h-.8zM201.9 363.2h.8v.8h-.8zM198.9 367.6h.8v.8h-.8zM208.2 374.8h.8v.8h-.8zM204.4 380.4h.8v.8h-.8zM207.6 363.7h.8v.8h-.8zM198.0 384.7h.8v.8h-.8zM188.2 378.8h.8v.8h-.8zM193.1 368.5h.8v.8h-.8zM193.3 371.5h.8v.8h-.8zM201.5 366.4h.8v.8h-.8zM201.3 380.3h.8v.8h-.8zM199.9 368.1h.8v.8h-.8zM185.3 380.8h.8v.8h-.8zM189.7 383.4h.8v.8h-.8zM192.9 383.9h.8v.8h-.8zM183.8 382.8h.8v.8h-.8zM203.1 378.9h.8v.8h-.8zM188.2 383.6h.8v.8h-.8zM205.7 368.3h.8v.8h-.8zM207.0 366.1h.8v.8h-.8zM188.2 376.5h.8v.8h-.8zM186.6 382.2h.8v.8h-.8zM182.4 387.7h.8v.8h-.8zM209.2 369.8h.8v.8h-.8zM186.8 384.6h.8v.8h-.8zM201.3 380.7h.8v.8h-.8zM207.1 366.8h.8v.8h-.8zM193.2 388.2h.8v.8h-.8zM200.6 380.3h.8v.8h-.8zM210.8 372.3h.8v.8h-.8zM194.3 384.5h.8v.8h-.8zM200.2 357.5h.8v.8h-.8zM200.7 382.9h.8v.8h-.8zM189.3 370.6h.8v.8h-.8zM207.3 373.9h.8v.8h-.8zM204.6 376.2h.8v.8h-.8z"/><path fill="#3858d8" opacity="0.85" d="M198.5 369.3h.8v.8h-.8zM203.6 368.8h.8v.8h-.8zM199.4 380.6h.8v.8h-.8zM205.0 371.2h.8v.8h-.8zM193.4 382.7h.8v.8h-.8zM198.8 380.4h.8v.8h-.8zM203.0 368.6h.8v.8h-.8zM190.6 383.2h.8v.8h-.8zM198.4 368.8h.8v.8h-.8zM203.9 370.2h.8v.8h-.8zM204.8 371.9h.8v.8h-.8zM201.9 368.4h.8v.8h-.8zM191.9 375.4h.8v.8h-.8zM192.8 382.8h.8v.8h-.8zM192.2 374.5h.8v.8h-.8zM205.0 369.2h.8v.8h-.8zM189.1 379.1h.8v.8h-.8zM197.6 370.5h.8v.8h-.8zM203.5 369.0h.8v.8h-.8zM204.4 369.0h.8v.8h-.8zM203.3 370.2h.8v.8h-.8zM202.5 378.0h.8v.8h-.8zM190.7 375.8h.8v.8h-.8zM205.2 372.6h.8v.8h-.8zM206.1 371.9h.8v.8h-.8zM190.9 381.7h.8v.8h-.8zM195.4 371.9h.8v.8h-.8zM197.7 381.6h.8v.8h-.8zM192.0 383.5h.8v.8h-.8zM205.6 372.6h.8v.8h-.8zM190.2 380.2h.8v.8h-.8zM190.2 378.9h.8v.8h-.8zM194.1 383.1h.8v.8h-.8zM199.0 379.7h.8v.8h-.8zM201.0 379.8h.8v.8h-.8zM193.1 374.0h.8v.8h-.8zM191.8 375.4h.8v.8h-.8zM195.3 381.4h.8v.8h-.8zM200.3 379.6h.8v.8h-.8zM193.5 381.8h.8v.8h-.8zM199.2 381.1h.8v.8h-.8zM195.2 381.8h.8v.8h-.8zM204.6 373.5h.8v.8h-.8zM190.1 378.0h.8v.8h-.8zM198.2 370.4h.8v.8h-.8zM191.3 376.3h.8v.8h-.8zM204.5 373.9h.8v.8h-.8zM196.9 370.5h.8v.8h-.8zM193.0 381.7h.8v.8h-.8zM197.6 381.0h.8v.8h-.8zM191.7 375.5h.8v.8h-.8zM204.1 374.5h.8v.8h-.8zM203.0 369.3h.8v.8h-.8zM204.6 373.0h.8v.8h-.8zM191.9 374.0h.8v.8h-.8zM204.8 373.2h.8v.8h-.8zM200.1 369.2h.8v.8h-.8zM196.5 381.8h.8v.8h-.8zM190.6 379.0h.8v.8h-.8zM203.4 376.1h.8v.8h-.8zM205.4 370.6h.8v.8h-.8zM194.1 383.1h.8v.8h-.8zM202.3 377.5h.8v.8h-.8zM195.6 381.9h.8v.8h-.8zM204.1 370.4h.8v.8h-.8zM202.2 368.4h.8v.8h-.8zM194.2 383.3h.8v.8h-.8zM201.3 379.1h.8v.8h-.8zM192.0 374.3h.8v.8h-.8zM203.8 375.0h.8v.8h-.8zM197.1 382.0h.8v.8h-.8zM197.3 369.4h.8v.8h-.8zM204.9 369.9h.8v.8h-.8zM195.7 371.2h.8v.8h-.8zM189.1 378.8h.8v.8h-.8zM194.8 382.8h.8v.8h-.8zM193.8 372.6h.8v.8h-.8zM204.5 369.7h.8v.8h-.8zM203.5 368.0h.8v.8h-.8zM189.6 378.2h.8v.8h-.8zM203.3 375.4h.8v.8h-.8zM195.3 372.2h.8v.8h-.8zM199.7 368.5h.8v.8h-.8zM204.0 374.9h.8v.8h-.8zM189.2 382.4h.8v.8h-.8zM190.4 381.3h.8v.8h-.8zM204.5 374.7h.8v.8h-.8zM189.2 378.3h.8v.8h-.8zM204.3 368.8h.8v.8h-.8zM189.2 379.7h.8v.8h-.8zM188.6 380.0h.8v.8h-.8zM195.3 371.1h.8v.8h-.8zM191.2 381.9h.8v.8h-.8zM205.8 371.3h.8v.8h-.8zM191.7 381.2h.8v.8h-.8zM190.6 378.0h.8v.8h-.8zM191.8 383.2h.8v.8h-.8zM204.8 370.5h.8v.8h-.8zM203.6 369.8h.8v.8h-.8zM190.3 381.4h.8v.8h-.8zM191.5 383.3h.8v.8h-.8zM189.6 379.0h.8v.8h-.8zM201.2 368.0h.8v.8h-.8zM188.9 380.9h.8v.8h-.8zM203.7 375.1h.8v.8h-.8zM195.0 381.5h.8v.8h-.8zM195.3 382.9h.8v.8h-.8zM203.5 368.9h.8v.8h-.8zM191.0 381.2h.8v.8h-.8zM197.9 370.4h.8v.8h-.8zM200.2 380.1h.8v.8h-.8zM189.2 378.7h.8v.8h-.8zM203.5 369.2h.8v.8h-.8zM203.3 374.8h.8v.8h-.8zM205.3 370.1h.8v.8h-.8zM192.9 373.3h.8v.8h-.8zM194.5 381.9h.8v.8h-.8zM204.0 369.8h.8v.8h-.8zM198.1 369.6h.8v.8h-.8zM195.3 381.8h.8v.8h-.8zM203.6 376.7h.8v.8h-.8zM190.7 379.2h.8v.8h-.8zM196.6 382.3h.8v.8h-.8zM193.4 372.3h.8v.8h-.8zM189.8 380.2h.8v.8h-.8zM204.2 369.9h.8v.8h-.8zM200.8 369.3h.8v.8h-.8zM189.9 380.6h.8v.8h-.8zM197.3 369.5h.8v.8h-.8zM194.1 372.9h.8v.8h-.8zM198.0 369.8h.8v.8h-.8zM200.0 369.7h.8v.8h-.8zM190.8 380.1h.8v.8h-.8zM190.6 376.5h.8v.8h-.8zM205.3 373.2h.8v.8h-.8zM188.9 382.0h.8v.8h-.8zM200.9 368.9h.8v.8h-.8zM191.6 376.1h.8v.8h-.8zM197.6 369.4h.8v.8h-.8zM204.0 376.7h.8v.8h-.8zM189.7 380.5h.8v.8h-.8z"/><path fill="#e8481c" opacity="0.85" d="M198.5 373.8h.8v.8h-.8zM198.6 374.5h.8v.8h-.8zM195.9 376.4h.8v.8h-.8zM197.6 374.0h.8v.8h-.8zM199.5 373.8h.8v.8h-.8zM196.8 376.5h.8v.8h-.8zM199.6 375.1h.8v.8h-.8zM197.0 376.5h.8v.8h-.8zM196.6 374.9h.8v.8h-.8zM195.9 376.8h.8v.8h-.8zM196.8 377.3h.8v.8h-.8zM196.9 376.3h.8v.8h-.8zM196.3 376.1h.8v.8h-.8zM196.6 375.0h.8v.8h-.8zM197.6 373.7h.8v.8h-.8zM197.1 376.3h.8v.8h-.8zM200.1 374.1h.8v.8h-.8zM197.1 374.8h.8v.8h-.8zM195.2 377.1h.8v.8h-.8zM199.9 373.7h.8v.8h-.8zM196.1 374.8h.8v.8h-.8zM198.7 373.9h.8v.8h-.8zM197.2 375.9h.8v.8h-.8zM197.6 374.6h.8v.8h-.8zM196.9 375.4h.8v.8h-.8zM197.8 374.1h.8v.8h-.8zM198.0 376.9h.8v.8h-.8zM197.9 376.8h.8v.8h-.8zM195.8 377.9h.8v.8h-.8zM196.5 375.3h.8v.8h-.8zM196.8 375.5h.8v.8h-.8zM197.8 377.4h.8v.8h-.8zM195.5 376.1h.8v.8h-.8zM196.8 375.0h.8v.8h-.8zM197.6 376.1h.8v.8h-.8zM197.5 373.9h.8v.8h-.8zM197.7 374.0h.8v.8h-.8zM197.0 375.7h.8v.8h-.8zM195.5 376.5h.8v.8h-.8zM196.9 376.4h.8v.8h-.8zM197.3 376.7h.8v.8h-.8zM196.3 375.6h.8v.8h-.8zM198.9 375.7h.8v.8h-.8zM195.8 376.0h.8v.8h-.8zM197.2 374.9h.8v.8h-.8zM195.7 375.5h.8v.8h-.8zM197.1 376.1h.8v.8h-.8zM199.0 376.2h.8v.8h-.8zM197.8 376.8h.8v.8h-.8zM199.6 373.4h.8v.8h-.8zM195.4 376.1h.8v.8h-.8zM197.5 376.5h.8v.8h-.8zM200.1 374.1h.8v.8h-.8zM196.5 376.9h.8v.8h-.8zM197.1 375.5h.8v.8h-.8zM198.4 376.0h.8v.8h-.8zM198.2 376.9h.8v.8h-.8zM195.5 375.5h.8v.8h-.8zM196.3 374.9h.8v.8h-.8zM196.1 375.6h.8v.8h-.8zM199.2 375.4h.8v.8h-.8zM198.0 373.7h.8v.8h-.8zM196.7 377.3h.8v.8h-.8zM195.4 378.0h.8v.8h-.8z"/><path fill="#6070e8" opacity="0.75" d="M179.1 390.9h.8v.8h-.8zM179.9 392.9h.8v.8h-.8zM173.0 390.9h.8v.8h-.8zM181.5 399.3h.8v.8h-.8zM166.4 401.7h.8v.8h-.8zM173.8 411.8h.8v.8h-.8zM171.5 388.5h.8v.8h-.8zM174.4 414.7h.8v.8h-.8zM178.0 410.9h.8v.8h-.8zM173.8 410.0h.8v.8h-.8zM177.7 390.8h.8v.8h-.8zM169.9 405.9h.8v.8h-.8zM167.5 407.9h.8v.8h-.8zM172.1 409.7h.8v.8h-.8zM182.3 406.4h.8v.8h-.8zM179.6 388.0h.8v.8h-.8zM168.7 401.4h.8v.8h-.8zM172.3 413.3h.8v.8h-.8zM174.4 391.3h.8v.8h-.8zM170.2 395.5h.8v.8h-.8zM183.0 394.4h.8v.8h-.8zM184.5 401.1h.8v.8h-.8zM181.8 407.0h.8v.8h-.8zM169.1 402.0h.8v.8h-.8zM182.9 408.4h.8v.8h-.8zM182.4 391.7h.8v.8h-.8zM167.5 400.7h.8v.8h-.8zM170.4 412.1h.8v.8h-.8zM176.3 391.3h.8v.8h-.8zM174.0 392.0h.8v.8h-.8zM167.0 402.3h.8v.8h-.8zM179.9 409.6h.8v.8h-.8zM168.8 397.7h.8v.8h-.8zM183.0 396.7h.8v.8h-.8zM182.2 405.0h.8v.8h-.8zM171.1 408.4h.8v.8h-.8zM182.4 409.5h.8v.8h-.8zM181.0 399.7h.8v.8h-.8zM182.3 396.1h.8v.8h-.8zM168.5 392.1h.8v.8h-.8zM172.0 392.3h.8v.8h-.8zM175.8 389.5h.8v.8h-.8zM180.2 409.7h.8v.8h-.8zM167.0 405.2h.8v.8h-.8zM172.3 392.7h.8v.8h-.8zM183.0 403.0h.8v.8h-.8zM166.9 405.5h.8v.8h-.8zM181.9 411.6h.8v.8h-.8zM173.4 391.0h.8v.8h-.8zM167.0 407.3h.8v.8h-.8zM177.4 391.2h.8v.8h-.8zM176.4 391.4h.8v.8h-.8zM167.6 403.2h.8v.8h-.8zM169.8 410.2h.8v.8h-.8zM182.9 401.1h.8v.8h-.8zM166.8 402.7h.8v.8h-.8zM178.6 408.8h.8v.8h-.8zM183.3 398.1h.8v.8h-.8zM170.6 410.5h.8v.8h-.8zM176.7 413.3h.8v.8h-.8zM171.5 409.5h.8v.8h-.8zM166.4 398.1h.8v.8h-.8zM167.6 404.0h.8v.8h-.8zM183.5 403.1h.8v.8h-.8zM179.9 407.7h.8v.8h-.8zM182.9 394.6h.8v.8h-.8zM181.5 405.0h.8v.8h-.8zM168.5 400.7h.8v.8h-.8zM180.1 409.1h.8v.8h-.8zM180.6 396.3h.8v.8h-.8zM171.7 391.6h.8v.8h-.8zM178.6 388.8h.8v.8h-.8zM168.0 405.7h.8v.8h-.8zM183.0 404.1h.8v.8h-.8zM167.1 399.4h.8v.8h-.8zM169.3 408.8h.8v.8h-.8zM180.6 392.2h.8v.8h-.8zM180.2 395.6h.8v.8h-.8zM170.7 393.9h.8v.8h-.8zM179.8 389.8h.8v.8h-.8zM182.9 393.5h.8v.8h-.8zM179.1 392.2h.8v.8h-.8zM182.0 402.4h.8v.8h-.8zM175.4 411.1h.8v.8h-.8zM184.5 400.1h.8v.8h-.8zM169.0 397.4h.8v.8h-.8zM184.7 401.5h.8v.8h-.8zM178.1 412.0h.8v.8h-.8zM180.9 392.3h.8v.8h-.8zM182.6 393.6h.8v.8h-.8zM177.0 388.4h.8v.8h-.8zM169.6 392.6h.8v.8h-.8zM179.2 414.4h.8v.8h-.8zM172.7 391.7h.8v.8h-.8zM180.9 397.1h.8v.8h-.8zM180.6 390.6h.8v.8h-.8zM167.1 398.4h.8v.8h-.8zM166.7 401.2h.8v.8h-.8zM167.8 410.8h.8v.8h-.8zM179.8 388.6h.8v.8h-.8zM174.9 410.8h.8v.8h-.8zM171.3 414.7h.8v.8h-.8zM179.9 411.5h.8v.8h-.8zM181.7 397.0h.8v.8h-.8zM179.0 410.9h.8v.8h-.8zM169.1 400.4h.8v.8h-.8zM167.6 402.2h.8v.8h-.8zM167.8 409.5h.8v.8h-.8zM167.7 406.1h.8v.8h-.8zM181.0 411.1h.8v.8h-.8zM182.6 406.2h.8v.8h-.8zM166.1 403.5h.8v.8h-.8zM172.3 387.5h.8v.8h-.8zM182.2 406.6h.8v.8h-.8zM181.3 398.0h.8v.8h-.8zM176.6 387.7h.8v.8h-.8zM176.7 391.0h.8v.8h-.8zM170.4 394.9h.8v.8h-.8zM172.5 388.4h.8v.8h-.8zM171.3 388.4h.8v.8h-.8zM166.2 398.3h.8v.8h-.8zM182.0 397.7h.8v.8h-.8zM172.0 413.8h.8v.8h-.8zM169.0 400.5h.8v.8h-.8zM168.6 399.0h.8v.8h-.8zM167.6 393.3h.8v.8h-.8zM176.4 386.3h.8v.8h-.8zM167.7 397.6h.8v.8h-.8zM167.6 400.7h.8v.8h-.8zM167.9 393.7h.8v.8h-.8zM170.8 391.2h.8v.8h-.8zM172.6 409.6h.8v.8h-.8zM175.8 414.5h.8v.8h-.8zM182.5 403.5h.8v.8h-.8zM183.2 397.2h.8v.8h-.8zM174.2 387.3h.8v.8h-.8zM167.6 395.3h.8v.8h-.8zM170.0 412.1h.8v.8h-.8zM175.8 411.3h.8v.8h-.8zM166.3 401.2h.8v.8h-.8zM184.8 400.9h.8v.8h-.8zM168.3 398.5h.8v.8h-.8zM182.3 398.7h.8v.8h-.8zM184.0 398.4h.8v.8h-.8zM180.5 395.1h.8v.8h-.8zM181.6 400.3h.8v.8h-.8zM176.5 387.9h.8v.8h-.8zM172.4 393.0h.8v.8h-.8zM169.1 396.3h.8v.8h-.8zM165.6 402.1h.8v.8h-.8zM167.6 397.2h.8v.8h-.8zM173.9 412.4h.8v.8h-.8zM167.6 404.6h.8v.8h-.8zM176.0 389.0h.8v.8h-.8zM168.2 392.7h.8v.8h-.8zM167.1 395.4h.8v.8h-.8zM179.0 389.6h.8v.8h-.8zM170.9 412.2h.8v.8h-.8zM170.3 410.3h.8v.8h-.8zM170.7 391.2h.8v.8h-.8zM166.6 394.3h.8v.8h-.8zM177.3 410.1h.8v.8h-.8zM183.8 398.2h.8v.8h-.8zM183.1 403.9h.8v.8h-.8zM178.6 388.9h.8v.8h-.8zM180.7 407.6h.8v.8h-.8zM181.9 403.8h.8v.8h-.8zM170.0 392.1h.8v.8h-.8zM167.2 401.9h.8v.8h-.8zM176.5 410.7h.8v.8h-.8zM171.2 389.2h.8v.8h-.8zM176.2 410.0h.8v.8h-.8zM179.4 393.9h.8v.8h-.8zM210.2 394.2h.8v.8h-.8zM202.5 405.1h.8v.8h-.8zM203.3 393.6h.8v.8h-.8zM209.9 395.6h.8v.8h-.8zM210.4 406.0h.8v.8h-.8zM211.8 403.5h.8v.8h-.8zM210.9 401.9h.8v.8h-.8zM211.6 401.4h.8v.8h-.8zM210.6 397.1h.8v.8h-.8zM200.1 398.9h.8v.8h-.8zM210.1 394.1h.8v.8h-.8zM201.3 401.5h.8v.8h-.8zM205.7 406.8h.8v.8h-.8zM211.3 395.3h.8v.8h-.8zM204.5 405.7h.8v.8h-.8zM211.5 395.9h.8v.8h-.8zM206.0 406.9h.8v.8h-.8zM208.8 393.1h.8v.8h-.8zM201.4 400.7h.8v.8h-.8zM210.8 398.2h.8v.8h-.8zM212.1 401.9h.8v.8h-.8zM205.8 405.7h.8v.8h-.8zM210.1 395.3h.8v.8h-.8zM210.5 393.7h.8v.8h-.8zM208.6 403.8h.8v.8h-.8zM205.7 405.2h.8v.8h-.8zM211.9 398.3h.8v.8h-.8zM201.6 396.8h.8v.8h-.8zM199.5 399.4h.8v.8h-.8zM199.5 398.9h.8v.8h-.8zM207.4 393.3h.8v.8h-.8zM201.4 394.0h.8v.8h-.8zM206.1 393.0h.8v.8h-.8zM205.4 393.1h.8v.8h-.8zM212.1 398.0h.8v.8h-.8zM205.6 394.4h.8v.8h-.8zM209.2 394.2h.8v.8h-.8zM205.1 405.1h.8v.8h-.8zM207.9 393.4h.8v.8h-.8zM210.2 400.7h.8v.8h-.8zM202.5 403.2h.8v.8h-.8zM206.5 393.9h.8v.8h-.8zM200.4 396.3h.8v.8h-.8zM202.0 405.4h.8v.8h-.8zM201.8 399.6h.8v.8h-.8zM204.2 405.1h.8v.8h-.8zM210.1 405.9h.8v.8h-.8zM211.0 403.3h.8v.8h-.8zM206.8 407.5h.8v.8h-.8zM211.2 402.4h.8v.8h-.8zM202.5 394.7h.8v.8h-.8zM206.7 394.5h.8v.8h-.8zM207.5 392.9h.8v.8h-.8zM200.5 398.3h.8v.8h-.8zM209.7 397.2h.8v.8h-.8zM202.4 397.3h.8v.8h-.8zM208.8 394.5h.8v.8h-.8zM209.5 406.6h.8v.8h-.8zM205.2 394.4h.8v.8h-.8zM202.2 393.4h.8v.8h-.8zM210.2 398.7h.8v.8h-.8zM208.7 407.1h.8v.8h-.8zM201.5 404.4h.8v.8h-.8zM202.3 393.0h.8v.8h-.8zM202.1 396.9h.8v.8h-.8zM210.9 399.0h.8v.8h-.8zM205.8 391.6h.8v.8h-.8zM201.3 396.1h.8v.8h-.8zM204.0 395.5h.8v.8h-.8zM199.6 401.2h.8v.8h-.8zM203.5 395.9h.8v.8h-.8zM210.0 397.3h.8v.8h-.8zM210.2 400.4h.8v.8h-.8zM206.9 393.8h.8v.8h-.8zM211.6 401.7h.8v.8h-.8zM211.5 398.9h.8v.8h-.8zM208.9 394.9h.8v.8h-.8zM202.3 403.2h.8v.8h-.8zM208.1 405.4h.8v.8h-.8zM204.8 406.4h.8v.8h-.8zM209.9 402.2h.8v.8h-.8zM208.0 395.3h.8v.8h-.8zM208.0 393.5h.8v.8h-.8zM202.4 403.0h.8v.8h-.8zM200.6 398.1h.8v.8h-.8zM203.6 392.6h.8v.8h-.8zM207.5 394.7h.8v.8h-.8zM207.1 406.2h.8v.8h-.8zM205.4 406.3h.8v.8h-.8zM207.6 404.5h.8v.8h-.8zM210.2 403.3h.8v.8h-.8zM208.3 404.9h.8v.8h-.8zM206.3 394.4h.8v.8h-.8zM199.9 402.6h.8v.8h-.8zM206.4 393.6h.8v.8h-.8zM210.7 401.1h.8v.8h-.8zM211.1 400.2h.8v.8h-.8zM209.3 394.5h.8v.8h-.8zM210.9 403.0h.8v.8h-.8zM200.3 401.1h.8v.8h-.8zM210.7 400.5h.8v.8h-.8zM203.7 394.3h.8v.8h-.8zM209.9 396.8h.8v.8h-.8zM210.7 397.7h.8v.8h-.8zM210.3 395.1h.8v.8h-.8zM206.1 393.7h.8v.8h-.8z"/><path fill="#2848d0" opacity="0.75" d="M175.8 408.9h.8v.8h-.8zM169.9 402.8h.8v.8h-.8zM176.6 394.4h.8v.8h-.8zM177.6 397.6h.8v.8h-.8zM178.2 405.7h.8v.8h-.8zM173.7 408.5h.8v.8h-.8zM171.9 399.8h.8v.8h-.8zM177.8 398.9h.8v.8h-.8zM176.1 408.6h.8v.8h-.8zM177.0 394.9h.8v.8h-.8zM180.0 398.6h.8v.8h-.8zM179.0 403.7h.8v.8h-.8zM175.3 406.8h.8v.8h-.8zM173.8 395.6h.8v.8h-.8zM171.4 402.4h.8v.8h-.8zM176.2 395.8h.8v.8h-.8zM179.7 395.9h.8v.8h-.8zM171.2 394.9h.8v.8h-.8zM175.0 408.1h.8v.8h-.8zM177.2 404.2h.8v.8h-.8zM177.5 407.5h.8v.8h-.8zM179.6 398.0h.8v.8h-.8zM171.4 403.3h.8v.8h-.8zM172.6 407.1h.8v.8h-.8zM176.9 406.8h.8v.8h-.8zM177.8 399.7h.8v.8h-.8zM173.7 394.2h.8v.8h-.8zM177.1 407.0h.8v.8h-.8zM170.0 403.9h.8v.8h-.8zM176.3 393.4h.8v.8h-.8zM172.5 402.9h.8v.8h-.8zM177.9 401.9h.8v.8h-.8zM178.0 405.6h.8v.8h-.8zM169.7 398.4h.8v.8h-.8zM173.7 406.8h.8v.8h-.8zM173.4 396.0h.8v.8h-.8zM170.4 401.0h.8v.8h-.8zM178.3 393.9h.8v.8h-.8zM177.7 402.2h.8v.8h-.8zM175.0 394.3h.8v.8h-.8zM176.7 408.7h.8v.8h-.8zM178.3 405.2h.8v.8h-.8zM170.2 399.8h.8v.8h-.8zM171.1 404.5h.8v.8h-.8zM173.1 397.2h.8v.8h-.8zM176.0 395.0h.8v.8h-.8zM175.9 407.4h.8v.8h-.8zM172.6 403.4h.8v.8h-.8zM175.8 392.2h.8v.8h-.8zM174.6 396.3h.8v.8h-.8zM174.4 393.6h.8v.8h-.8zM173.4 408.1h.8v.8h-.8zM177.8 402.5h.8v.8h-.8zM177.4 404.5h.8v.8h-.8zM178.6 399.2h.8v.8h-.8zM176.0 392.4h.8v.8h-.8zM176.9 406.7h.8v.8h-.8zM178.7 408.1h.8v.8h-.8zM171.4 397.4h.8v.8h-.8zM179.9 397.2h.8v.8h-.8zM174.6 395.1h.8v.8h-.8zM177.5 398.9h.8v.8h-.8zM176.4 395.3h.8v.8h-.8zM170.1 400.3h.8v.8h-.8zM171.9 404.2h.8v.8h-.8zM175.2 407.6h.8v.8h-.8zM177.7 407.3h.8v.8h-.8zM172.3 397.1h.8v.8h-.8zM173.9 397.0h.8v.8h-.8zM177.2 408.5h.8v.8h-.8zM179.0 394.4h.8v.8h-.8zM179.1 402.4h.8v.8h-.8zM171.5 400.0h.8v.8h-.8zM172.5 399.5h.8v.8h-.8zM177.0 392.9h.8v.8h-.8zM172.1 400.2h.8v.8h-.8zM176.5 393.6h.8v.8h-.8zM175.5 407.9h.8v.8h-.8zM177.2 405.3h.8v.8h-.8zM174.0 395.8h.8v.8h-.8zM171.6 397.5h.8v.8h-.8zM176.8 395.5h.8v.8h-.8zM177.6 406.0h.8v.8h-.8zM179.1 406.6h.8v.8h-.8zM176.8 406.9h.8v.8h-.8zM173.0 398.4h.8v.8h-.8zM173.2 395.6h.8v.8h-.8zM178.6 407.1h.8v.8h-.8zM170.1 403.7h.8v.8h-.8zM169.8 401.7h.8v.8h-.8zM176.1 394.6h.8v.8h-.8zM180.0 396.0h.8v.8h-.8zM177.4 393.1h.8v.8h-.8zM172.7 396.8h.8v.8h-.8zM171.5 395.0h.8v.8h-.8zM179.5 404.3h.8v.8h-.8zM175.2 408.3h.8v.8h-.8zM175.7 394.7h.8v.8h-.8zM178.9 396.9h.8v.8h-.8zM171.4 404.1h.8v.8h-.8zM177.9 398.0h.8v.8h-.8zM174.3 394.3h.8v.8h-.8zM178.3 405.4h.8v.8h-.8zM179.8 398.6h.8v.8h-.8zM175.4 395.9h.8v.8h-.8zM179.1 402.3h.8v.8h-.8zM176.5 405.3h.8v.8h-.8zM175.4 395.4h.8v.8h-.8zM177.2 405.8h.8v.8h-.8zM177.1 406.1h.8v.8h-.8zM175.8 409.7h.8v.8h-.8zM204.0 403.2h.8v.8h-.8zM207.6 403.4h.8v.8h-.8zM202.8 400.7h.8v.8h-.8zM204.5 402.7h.8v.8h-.8zM209.3 397.4h.8v.8h-.8zM208.6 398.6h.8v.8h-.8zM202.7 402.4h.8v.8h-.8zM208.2 398.6h.8v.8h-.8zM209.0 399.6h.8v.8h-.8zM208.8 400.5h.8v.8h-.8zM203.5 403.1h.8v.8h-.8zM209.6 398.6h.8v.8h-.8zM203.4 401.4h.8v.8h-.8zM205.7 396.8h.8v.8h-.8zM207.6 398.6h.8v.8h-.8zM209.7 400.7h.8v.8h-.8zM204.2 400.9h.8v.8h-.8zM203.2 400.1h.8v.8h-.8zM204.6 403.3h.8v.8h-.8zM206.6 397.2h.8v.8h-.8zM208.5 397.3h.8v.8h-.8zM206.4 397.3h.8v.8h-.8zM203.0 397.5h.8v.8h-.8zM205.4 402.6h.8v.8h-.8zM204.3 401.2h.8v.8h-.8zM207.6 397.4h.8v.8h-.8zM209.1 396.7h.8v.8h-.8zM204.9 403.0h.8v.8h-.8zM207.3 395.1h.8v.8h-.8zM202.4 398.1h.8v.8h-.8zM204.2 403.3h.8v.8h-.8zM209.0 401.7h.8v.8h-.8zM208.5 401.8h.8v.8h-.8zM207.9 395.7h.8v.8h-.8zM206.6 395.4h.8v.8h-.8zM204.2 400.2h.8v.8h-.8zM207.6 395.4h.8v.8h-.8zM203.7 402.4h.8v.8h-.8zM209.0 401.5h.8v.8h-.8zM208.7 396.9h.8v.8h-.8zM202.7 399.5h.8v.8h-.8zM206.3 402.3h.8v.8h-.8zM205.8 403.6h.8v.8h-.8zM204.7 401.5h.8v.8h-.8zM207.0 404.2h.8v.8h-.8zM202.3 398.9h.8v.8h-.8zM208.3 396.1h.8v.8h-.8zM206.2 395.1h.8v.8h-.8zM208.6 399.3h.8v.8h-.8zM209.4 397.6h.8v.8h-.8zM205.1 396.1h.8v.8h-.8zM206.8 401.9h.8v.8h-.8zM203.7 398.9h.8v.8h-.8zM208.9 402.9h.8v.8h-.8zM206.1 397.0h.8v.8h-.8zM202.9 398.3h.8v.8h-.8zM204.8 403.5h.8v.8h-.8zM208.3 396.4h.8v.8h-.8zM207.5 397.1h.8v.8h-.8zM208.1 402.3h.8v.8h-.8zM207.8 398.5h.8v.8h-.8zM205.1 397.2h.8v.8h-.8zM203.8 396.4h.8v.8h-.8zM209.4 400.9h.8v.8h-.8zM207.6 401.9h.8v.8h-.8zM209.0 397.6h.8v.8h-.8zM209.7 399.0h.8v.8h-.8zM204.3 402.2h.8v.8h-.8zM208.7 399.6h.8v.8h-.8zM206.7 403.3h.8v.8h-.8zM203.3 400.1h.8v.8h-.8zM203.5 403.4h.8v.8h-.8zM207.2 396.6h.8v.8h-.8zM204.2 396.2h.8v.8h-.8zM204.3 400.2h.8v.8h-.8zM204.0 397.4h.8v.8h-.8zM209.6 397.5h.8v.8h-.8zM206.3 404.1h.8v.8h-.8zM208.8 396.2h.8v.8h-.8zM203.2 398.6h.8v.8h-.8zM205.0 402.0h.8v.8h-.8zM203.9 398.9h.8v.8h-.8zM203.4 396.2h.8v.8h-.8zM208.1 402.7h.8v.8h-.8zM208.8 403.0h.8v.8h-.8z"/><path fill="#8c98f4" opacity="0.75" d="M191.3 402.3h.8v.8h-.8zM183.0 411.9h.8v.8h-.8zM166.7 384.9h.8v.8h-.8zM170.7 380.3h.8v.8h-.8zM170.1 416.9h.8v.8h-.8zM167.7 390.8h.8v.8h-.8zM194.1 407.6h.8v.8h-.8zM166.3 408.9h.8v.8h-.8zM188.6 398.0h.8v.8h-.8zM185.7 388.2h.8v.8h-.8zM164.0 407.1h.8v.8h-.8zM183.5 378.8h.8v.8h-.8zM167.7 419.7h.8v.8h-.8zM175.4 419.0h.8v.8h-.8zM187.0 406.5h.8v.8h-.8zM176.0 385.9h.8v.8h-.8zM179.0 385.1h.8v.8h-.8zM158.8 413.6h.8v.8h-.8zM170.7 424.9h.8v.8h-.8zM170.5 417.7h.8v.8h-.8zM160.9 396.8h.8v.8h-.8zM160.8 394.5h.8v.8h-.8zM182.4 416.2h.8v.8h-.8zM182.5 379.5h.8v.8h-.8zM175.6 416.7h.8v.8h-.8zM170.7 387.4h.8v.8h-.8zM183.5 414.1h.8v.8h-.8zM169.1 425.4h.8v.8h-.8zM183.9 376.2h.8v.8h-.8zM185.2 391.5h.8v.8h-.8zM181.4 416.0h.8v.8h-.8zM175.0 380.9h.8v.8h-.8zM182.8 410.7h.8v.8h-.8zM164.2 409.6h.8v.8h-.8zM169.9 417.8h.8v.8h-.8zM181.6 424.0h.8v.8h-.8zM182.0 424.4h.8v.8h-.8zM185.8 409.4h.8v.8h-.8zM185.1 397.0h.8v.8h-.8zM169.6 422.2h.8v.8h-.8zM165.5 397.9h.8v.8h-.8zM182.3 389.5h.8v.8h-.8zM176.2 428.7h.8v.8h-.8zM184.0 412.4h.8v.8h-.8zM164.4 407.4h.8v.8h-.8zM165.1 401.6h.8v.8h-.8zM167.6 416.3h.8v.8h-.8zM181.6 423.1h.8v.8h-.8zM169.4 413.7h.8v.8h-.8zM168.6 388.2h.8v.8h-.8zM182.8 419.5h.8v.8h-.8zM164.2 414.5h.8v.8h-.8zM167.0 411.4h.8v.8h-.8zM172.6 384.4h.8v.8h-.8zM182.9 376.1h.8v.8h-.8zM173.5 384.1h.8v.8h-.8zM164.0 387.1h.8v.8h-.8zM187.3 395.7h.8v.8h-.8zM171.4 416.3h.8v.8h-.8zM165.0 405.9h.8v.8h-.8zM191.7 401.5h.8v.8h-.8zM165.9 392.3h.8v.8h-.8zM173.5 418.3h.8v.8h-.8zM189.4 393.4h.8v.8h-.8zM186.5 386.3h.8v.8h-.8zM172.2 375.6h.8v.8h-.8zM163.7 407.9h.8v.8h-.8zM187.4 409.5h.8v.8h-.8zM167.4 411.9h.8v.8h-.8zM160.1 401.4h.8v.8h-.8zM172.1 415.5h.8v.8h-.8zM172.2 415.8h.8v.8h-.8zM180.2 377.4h.8v.8h-.8zM185.0 416.2h.8v.8h-.8zM160.8 394.8h.8v.8h-.8zM195.0 396.1h.8v.8h-.8zM182.0 413.7h.8v.8h-.8zM161.6 412.4h.8v.8h-.8zM167.8 372.6h.8v.8h-.8zM172.1 380.5h.8v.8h-.8zM166.1 413.7h.8v.8h-.8zM170.1 381.0h.8v.8h-.8zM165.4 398.2h.8v.8h-.8zM166.9 392.9h.8v.8h-.8zM167.9 415.5h.8v.8h-.8zM171.6 383.0h.8v.8h-.8zM185.5 395.6h.8v.8h-.8zM164.4 400.5h.8v.8h-.8zM182.9 384.3h.8v.8h-.8zM176.0 385.6h.8v.8h-.8zM175.1 419.5h.8v.8h-.8zM167.2 390.4h.8v.8h-.8zM174.1 424.0h.8v.8h-.8zM172.8 378.4h.8v.8h-.8zM180.6 386.2h.8v.8h-.8zM183.7 413.7h.8v.8h-.8zM161.4 405.8h.8v.8h-.8zM161.5 402.2h.8v.8h-.8zM185.3 402.7h.8v.8h-.8zM174.9 383.8h.8v.8h-.8zM167.4 415.8h.8v.8h-.8zM169.9 415.1h.8v.8h-.8zM169.1 416.7h.8v.8h-.8zM161.8 392.8h.8v.8h-.8zM158.1 409.7h.8v.8h-.8zM166.1 414.7h.8v.8h-.8zM186.4 402.4h.8v.8h-.8zM163.0 409.3h.8v.8h-.8zM185.6 406.5h.8v.8h-.8zM186.3 395.6h.8v.8h-.8zM162.5 378.7h.8v.8h-.8zM176.6 381.9h.8v.8h-.8zM172.6 374.8h.8v.8h-.8zM163.6 396.4h.8v.8h-.8zM177.1 416.5h.8v.8h-.8zM164.6 404.8h.8v.8h-.8zM171.5 418.7h.8v.8h-.8zM170.4 419.1h.8v.8h-.8zM180.6 374.1h.8v.8h-.8zM184.1 394.7h.8v.8h-.8zM178.0 420.4h.8v.8h-.8zM188.1 408.5h.8v.8h-.8zM161.0 410.1h.8v.8h-.8zM183.7 413.0h.8v.8h-.8zM189.0 394.9h.8v.8h-.8zM164.4 413.3h.8v.8h-.8zM169.3 419.2h.8v.8h-.8zM163.2 418.0h.8v.8h-.8zM168.5 385.8h.8v.8h-.8zM187.0 413.1h.8v.8h-.8zM160.4 417.3h.8v.8h-.8zM178.9 372.3h.8v.8h-.8zM163.4 389.3h.8v.8h-.8zM187.3 398.2h.8v.8h-.8zM185.5 397.0h.8v.8h-.8zM184.8 407.9h.8v.8h-.8zM176.8 419.6h.8v.8h-.8zM172.9 372.9h.8v.8h-.8zM174.4 384.4h.8v.8h-.8zM163.3 411.1h.8v.8h-.8zM168.5 387.2h.8v.8h-.8zM168.8 381.2h.8v.8h-.8zM188.3 400.9h.8v.8h-.8zM185.4 390.4h.8v.8h-.8zM192.6 403.4h.8v.8h-.8zM175.3 419.0h.8v.8h-.8zM173.2 416.9h.8v.8h-.8zM170.6 387.4h.8v.8h-.8zM176.5 380.9h.8v.8h-.8zM178.3 385.5h.8v.8h-.8zM172.9 384.7h.8v.8h-.8zM157.3 407.6h.8v.8h-.8zM165.2 410.9h.8v.8h-.8zM185.1 415.9h.8v.8h-.8zM163.5 379.8h.8v.8h-.8zM177.8 420.8h.8v.8h-.8zM185.8 406.2h.8v.8h-.8zM206.7 410.0h.8v.8h-.8zM197.2 392.3h.8v.8h-.8zM211.8 409.5h.8v.8h-.8zM199.0 394.7h.8v.8h-.8zM206.4 386.4h.8v.8h-.8zM198.2 391.7h.8v.8h-.8zM212.1 413.8h.8v.8h-.8zM202.2 392.0h.8v.8h-.8zM210.9 412.0h.8v.8h-.8zM199.4 401.5h.8v.8h-.8zM196.2 407.2h.8v.8h-.8zM204.3 409.2h.8v.8h-.8zM196.3 404.8h.8v.8h-.8zM213.8 399.2h.8v.8h-.8zM197.5 397.4h.8v.8h-.8zM208.3 411.9h.8v.8h-.8zM198.9 405.3h.8v.8h-.8zM209.6 392.7h.8v.8h-.8zM212.1 393.8h.8v.8h-.8zM203.5 389.3h.8v.8h-.8zM211.2 389.9h.8v.8h-.8zM202.5 392.5h.8v.8h-.8zM214.3 395.8h.8v.8h-.8zM209.3 407.3h.8v.8h-.8zM198.2 395.2h.8v.8h-.8zM198.1 400.2h.8v.8h-.8zM202.7 411.2h.8v.8h-.8zM213.3 396.4h.8v.8h-.8zM201.8 382.8h.8v.8h-.8zM197.2 406.0h.8v.8h-.8zM202.5 388.0h.8v.8h-.8zM212.7 403.9h.8v.8h-.8zM217.5 392.5h.8v.8h-.8zM195.0 397.0h.8v.8h-.8zM213.4 395.9h.8v.8h-.8zM209.9 389.5h.8v.8h-.8zM208.1 391.8h.8v.8h-.8zM215.1 401.4h.8v.8h-.8zM211.7 394.6h.8v.8h-.8zM214.0 399.7h.8v.8h-.8zM205.8 408.1h.8v.8h-.8zM209.6 392.5h.8v.8h-.8zM197.6 390.0h.8v.8h-.8zM213.8 408.8h.8v.8h-.8zM212.5 404.3h.8v.8h-.8zM200.2 385.3h.8v.8h-.8zM198.9 393.4h.8v.8h-.8zM215.7 397.2h.8v.8h-.8zM202.0 388.8h.8v.8h-.8zM205.8 410.1h.8v.8h-.8zM202.9 410.3h.8v.8h-.8zM211.9 410.6h.8v.8h-.8zM215.4 398.5h.8v.8h-.8zM209.9 389.5h.8v.8h-.8zM201.2 390.1h.8v.8h-.8zM202.1 410.2h.8v.8h-.8zM199.4 403.5h.8v.8h-.8zM191.1 402.5h.8v.8h-.8zM196.3 402.9h.8v.8h-.8zM216.6 407.7h.8v.8h-.8zM213.9 394.7h.8v.8h-.8zM201.1 414.0h.8v.8h-.8zM202.1 408.0h.8v.8h-.8zM216.3 401.8h.8v.8h-.8zM211.8 394.1h.8v.8h-.8zM200.2 395.1h.8v.8h-.8zM204.4 413.2h.8v.8h-.8zM200.1 395.7h.8v.8h-.8zM198.9 400.3h.8v.8h-.8zM201.3 409.5h.8v.8h-.8zM206.0 391.2h.8v.8h-.8zM203.0 407.3h.8v.8h-.8zM212.9 403.0h.8v.8h-.8zM215.3 400.8h.8v.8h-.8zM217.9 395.7h.8v.8h-.8zM206.5 409.7h.8v.8h-.8zM200.5 392.5h.8v.8h-.8zM213.9 395.9h.8v.8h-.8zM199.6 393.6h.8v.8h-.8zM210.0 389.5h.8v.8h-.8zM214.2 393.0h.8v.8h-.8zM193.9 394.5h.8v.8h-.8zM208.4 408.0h.8v.8h-.8zM214.5 395.1h.8v.8h-.8zM198.8 399.9h.8v.8h-.8zM198.3 402.7h.8v.8h-.8zM198.4 415.6h.8v.8h-.8zM212.2 403.8h.8v.8h-.8zM202.3 418.0h.8v.8h-.8zM215.2 394.3h.8v.8h-.8zM195.5 395.5h.8v.8h-.8zM204.4 390.0h.8v.8h-.8zM201.9 392.3h.8v.8h-.8zM215.5 398.9h.8v.8h-.8zM201.8 393.2h.8v.8h-.8zM206.8 412.2h.8v.8h-.8zM216.2 401.1h.8v.8h-.8zM216.5 400.0h.8v.8h-.8zM215.3 391.9h.8v.8h-.8zM216.7 404.2h.8v.8h-.8zM215.5 402.8h.8v.8h-.8zM206.3 390.1h.8v.8h-.8zM202.1 389.2h.8v.8h-.8zM213.7 400.2h.8v.8h-.8zM213.2 405.6h.8v.8h-.8zM198.8 391.2h.8v.8h-.8z"/><path fill="#40a088" opacity="0.75" d="M174.4 397.2h.8v.8h-.8zM175.0 398.7h.8v.8h-.8zM176.8 399.2h.8v.8h-.8zM177.1 398.9h.8v.8h-.8zM174.5 400.6h.8v.8h-.8zM175.2 398.5h.8v.8h-.8zM173.7 402.1h.8v.8h-.8zM176.1 398.3h.8v.8h-.8zM174.9 402.5h.8v.8h-.8zM172.7 401.1h.8v.8h-.8zM177.5 401.5h.8v.8h-.8zM176.3 398.5h.8v.8h-.8zM176.7 399.3h.8v.8h-.8zM174.6 397.3h.8v.8h-.8zM175.3 399.0h.8v.8h-.8zM175.1 397.7h.8v.8h-.8zM175.7 399.7h.8v.8h-.8zM175.5 403.1h.8v.8h-.8zM176.4 402.2h.8v.8h-.8zM177.5 402.4h.8v.8h-.8zM174.6 400.9h.8v.8h-.8zM175.3 398.7h.8v.8h-.8zM174.2 404.4h.8v.8h-.8zM174.5 400.8h.8v.8h-.8zM174.3 398.8h.8v.8h-.8zM173.6 403.2h.8v.8h-.8zM175.2 403.1h.8v.8h-.8zM173.5 401.4h.8v.8h-.8zM175.5 403.7h.8v.8h-.8zM176.0 398.6h.8v.8h-.8zM176.4 402.2h.8v.8h-.8zM176.1 404.0h.8v.8h-.8zM175.8 402.4h.8v.8h-.8zM175.4 400.0h.8v.8h-.8zM176.6 401.6h.8v.8h-.8zM176.3 399.5h.8v.8h-.8zM175.7 397.3h.8v.8h-.8zM177.3 399.5h.8v.8h-.8zM174.2 400.4h.8v.8h-.8zM206.1 397.8h.8v.8h-.8zM205.7 399.2h.8v.8h-.8zM207.8 399.9h.8v.8h-.8zM207.0 398.9h.8v.8h-.8zM205.1 400.0h.8v.8h-.8zM204.4 400.4h.8v.8h-.8zM204.9 400.6h.8v.8h-.8zM207.7 400.2h.8v.8h-.8zM205.5 400.2h.8v.8h-.8zM204.9 401.4h.8v.8h-.8zM206.4 401.2h.8v.8h-.8zM206.4 401.3h.8v.8h-.8zM205.5 398.4h.8v.8h-.8zM207.4 400.9h.8v.8h-.8zM207.1 398.6h.8v.8h-.8zM207.4 399.8h.8v.8h-.8zM207.8 399.9h.8v.8h-.8zM206.7 400.3h.8v.8h-.8zM204.6 400.7h.8v.8h-.8zM207.3 398.7h.8v.8h-.8zM206.1 400.9h.8v.8h-.8zM207.0 398.5h.8v.8h-.8zM206.6 400.9h.8v.8h-.8z"/><path d="M155.2,386.4 L182.4,386.4 L198.5,357.3 M182.4,386.4 L197.1,392.8 L197.1,426.2 M197.1,392.8 L225.2,372" fill="none" stroke="#333" stroke-width="0.9"/></g><g filter="url(#soft)"></g></g>
<rect x="155.20" y="357.30" width="70.00" height="68.90" fill="none" stroke="#333" stroke-width="1" />
<text x="157.00" y="364.60" font-size="8.2" text-anchor="start" fill="#111" stroke="#111" stroke-width="0.22" >13</text>
<text x="223.50" y="364.60" font-size="8.2" text-anchor="end" fill="#111" stroke="#111" stroke-width="0.22" >50</text>
<text x="157.00" y="425.20" font-size="8.2" text-anchor="start" fill="#111" stroke="#111" stroke-width="0.22" >25</text>
<text x="223.50" y="425.20" font-size="8.2" text-anchor="end" fill="#111" stroke="#111" stroke-width="0.22" >11</text>
<g clip-path="url(#cp10)"><g filter="url(#soft)"><rect x="155.2" y="433.1" width="69.6" height="69.2" fill="#fff"/><path fill="#a8acf2" opacity="0.75" d="M185.3 452.2h.8v.8h-.8zM173.2 445.8h.8v.8h-.8zM181.8 457.2h.8v.8h-.8zM168.6 456.9h.8v.8h-.8zM182.9 444.2h.8v.8h-.8zM172.4 441.4h.8v.8h-.8zM173.5 457.8h.8v.8h-.8zM174.5 445.4h.8v.8h-.8zM180.2 446.7h.8v.8h-.8zM168.1 454.5h.8v.8h-.8zM167.8 445.8h.8v.8h-.8zM166.5 458.1h.8v.8h-.8zM176.0 459.5h.8v.8h-.8zM179.0 447.0h.8v.8h-.8zM186.7 459.0h.8v.8h-.8zM167.7 450.9h.8v.8h-.8zM180.6 440.8h.8v.8h-.8zM176.6 446.0h.8v.8h-.8zM167.0 451.2h.8v.8h-.8zM183.9 447.6h.8v.8h-.8zM160.3 451.7h.8v.8h-.8zM162.3 456.3h.8v.8h-.8zM180.9 447.9h.8v.8h-.8zM173.1 458.4h.8v.8h-.8zM184.2 449.8h.8v.8h-.8zM165.3 442.5h.8v.8h-.8zM172.7 459.2h.8v.8h-.8zM183.9 449.9h.8v.8h-.8zM169.8 457.8h.8v.8h-.8zM176.3 458.3h.8v.8h-.8zM180.4 446.8h.8v.8h-.8zM173.3 446.3h.8v.8h-.8zM177.2 458.0h.8v.8h-.8zM178.3 460.1h.8v.8h-.8zM182.8 443.9h.8v.8h-.8zM190.1 450.3h.8v.8h-.8zM168.6 464.6h.8v.8h-.8zM183.1 449.9h.8v.8h-.8zM162.0 458.9h.8v.8h-.8zM162.4 451.6h.8v.8h-.8zM177.2 443.4h.8v.8h-.8zM169.8 447.4h.8v.8h-.8zM175.0 458.0h.8v.8h-.8zM179.8 458.3h.8v.8h-.8zM163.9 452.3h.8v.8h-.8zM170.3 458.6h.8v.8h-.8zM167.8 456.4h.8v.8h-.8zM174.1 457.0h.8v.8h-.8zM172.3 444.4h.8v.8h-.8zM156.3 452.6h.8v.8h-.8zM165.9 451.3h.8v.8h-.8zM167.5 449.7h.8v.8h-.8zM174.2 457.8h.8v.8h-.8zM168.6 448.0h.8v.8h-.8zM182.2 449.2h.8v.8h-.8zM168.8 448.3h.8v.8h-.8zM170.3 445.8h.8v.8h-.8zM166.9 444.9h.8v.8h-.8zM170.4 446.7h.8v.8h-.8zM181.9 450.0h.8v.8h-.8zM185.5 457.2h.8v.8h-.8zM185.2 456.6h.8v.8h-.8zM187.8 444.0h.8v.8h-.8zM175.0 458.8h.8v.8h-.8zM176.1 459.3h.8v.8h-.8zM186.2 450.3h.8v.8h-.8zM169.3 460.1h.8v.8h-.8zM168.4 456.5h.8v.8h-.8zM178.6 443.3h.8v.8h-.8zM168.3 455.8h.8v.8h-.8zM169.3 444.2h.8v.8h-.8zM169.3 448.4h.8v.8h-.8zM166.7 451.1h.8v.8h-.8zM183.8 450.9h.8v.8h-.8zM172.5 444.2h.8v.8h-.8zM169.9 466.7h.8v.8h-.8zM167.6 457.1h.8v.8h-.8zM163.2 453.5h.8v.8h-.8zM182.7 454.3h.8v.8h-.8zM167.0 445.1h.8v.8h-.8zM165.7 454.2h.8v.8h-.8zM181.8 453.6h.8v.8h-.8zM167.1 450.7h.8v.8h-.8zM170.0 445.7h.8v.8h-.8zM177.4 458.0h.8v.8h-.8zM172.3 446.4h.8v.8h-.8zM172.9 457.5h.8v.8h-.8zM181.9 452.0h.8v.8h-.8zM182.9 457.0h.8v.8h-.8zM182.7 457.8h.8v.8h-.8zM179.8 441.8h.8v.8h-.8zM183.1 455.4h.8v.8h-.8zM179.5 456.2h.8v.8h-.8zM171.6 459.6h.8v.8h-.8zM167.6 454.2h.8v.8h-.8zM174.3 440.6h.8v.8h-.8zM175.1 460.9h.8v.8h-.8zM165.6 448.2h.8v.8h-.8zM155.2 448.9h.8v.8h-.8zM166.0 457.7h.8v.8h-.8zM168.5 457.0h.8v.8h-.8zM178.5 457.5h.8v.8h-.8zM171.9 445.1h.8v.8h-.8zM173.3 458.7h.8v.8h-.8zM166.1 448.4h.8v.8h-.8zM180.3 455.3h.8v.8h-.8zM168.5 445.1h.8v.8h-.8zM182.2 449.1h.8v.8h-.8zM182.6 453.0h.8v.8h-.8zM172.6 457.3h.8v.8h-.8zM172.9 457.1h.8v.8h-.8zM166.9 461.0h.8v.8h-.8zM169.5 456.1h.8v.8h-.8zM165.5 452.4h.8v.8h-.8zM167.6 447.2h.8v.8h-.8zM165.8 447.0h.8v.8h-.8zM181.9 455.8h.8v.8h-.8zM167.9 447.3h.8v.8h-.8zM170.4 446.5h.8v.8h-.8zM175.6 457.6h.8v.8h-.8zM167.1 456.3h.8v.8h-.8zM169.6 445.7h.8v.8h-.8zM171.8 456.8h.8v.8h-.8zM181.9 451.6h.8v.8h-.8zM182.6 449.4h.8v.8h-.8zM182.4 452.9h.8v.8h-.8zM177.7 457.1h.8v.8h-.8zM182.4 449.4h.8v.8h-.8zM185.2 452.9h.8v.8h-.8zM163.8 456.6h.8v.8h-.8zM185.2 445.5h.8v.8h-.8zM182.8 447.1h.8v.8h-.8zM183.5 454.3h.8v.8h-.8zM178.1 457.8h.8v.8h-.8zM170.1 460.8h.8v.8h-.8zM177.9 446.3h.8v.8h-.8zM167.9 450.1h.8v.8h-.8zM181.9 449.5h.8v.8h-.8zM179.2 443.6h.8v.8h-.8zM185.0 458.9h.8v.8h-.8zM184.5 452.0h.8v.8h-.8zM155.2 458.5h.8v.8h-.8zM168.9 455.2h.8v.8h-.8zM167.4 446.5h.8v.8h-.8zM155.7 452.3h.8v.8h-.8zM167.4 455.1h.8v.8h-.8zM170.2 457.1h.8v.8h-.8zM173.6 445.7h.8v.8h-.8zM155.5 451.9h.8v.8h-.8zM166.3 453.1h.8v.8h-.8zM164.2 453.4h.8v.8h-.8zM161.6 454.6h.8v.8h-.8zM182.8 444.1h.8v.8h-.8zM175.8 445.5h.8v.8h-.8zM172.5 461.4h.8v.8h-.8zM170.9 458.8h.8v.8h-.8zM172.4 443.3h.8v.8h-.8zM164.4 488.0h.8v.8h-.8zM158.0 488.4h.8v.8h-.8zM166.9 490.8h.8v.8h-.8zM165.6 497.2h.8v.8h-.8zM169.5 470.4h.8v.8h-.8zM176.8 496.6h.8v.8h-.8zM177.7 496.0h.8v.8h-.8zM174.0 467.3h.8v.8h-.8zM188.4 458.7h.8v.8h-.8zM171.6 495.0h.8v.8h-.8zM165.8 464.6h.8v.8h-.8zM157.4 482.9h.8v.8h-.8zM173.5 468.4h.8v.8h-.8zM185.6 498.4h.8v.8h-.8zM162.6 493.0h.8v.8h-.8zM192.7 488.6h.8v.8h-.8zM187.9 482.1h.8v.8h-.8zM193.3 489.6h.8v.8h-.8zM194.0 475.5h.8v.8h-.8zM187.4 474.8h.8v.8h-.8zM156.9 489.7h.8v.8h-.8zM185.0 471.9h.8v.8h-.8zM180.1 455.4h.8v.8h-.8zM167.6 469.0h.8v.8h-.8zM185.5 491.8h.8v.8h-.8zM171.9 505.0h.8v.8h-.8zM167.3 500.3h.8v.8h-.8zM191.8 491.2h.8v.8h-.8zM163.3 488.1h.8v.8h-.8zM180.6 462.2h.8v.8h-.8zM187.2 493.5h.8v.8h-.8zM159.7 477.0h.8v.8h-.8zM164.3 491.3h.8v.8h-.8zM181.9 456.4h.8v.8h-.8zM158.0 481.2h.8v.8h-.8zM214.3 489.0h.8v.8h-.8zM207.8 469.1h.8v.8h-.8zM217.7 476.3h.8v.8h-.8zM219.1 480.7h.8v.8h-.8zM203.3 475.0h.8v.8h-.8zM204.1 471.3h.8v.8h-.8zM205.3 472.7h.8v.8h-.8zM214.9 474.1h.8v.8h-.8zM206.0 480.3h.8v.8h-.8zM207.2 486.6h.8v.8h-.8zM205.3 478.3h.8v.8h-.8zM212.0 471.2h.8v.8h-.8zM203.8 489.7h.8v.8h-.8zM206.8 473.0h.8v.8h-.8zM205.1 471.6h.8v.8h-.8zM217.0 484.2h.8v.8h-.8zM213.2 469.7h.8v.8h-.8zM208.5 486.3h.8v.8h-.8zM216.1 480.5h.8v.8h-.8zM213.8 471.6h.8v.8h-.8zM213.5 467.4h.8v.8h-.8zM205.6 475.2h.8v.8h-.8zM212.5 472.2h.8v.8h-.8zM206.9 472.9h.8v.8h-.8zM209.0 485.3h.8v.8h-.8zM207.3 472.5h.8v.8h-.8zM210.9 485.7h.8v.8h-.8zM218.5 472.7h.8v.8h-.8zM202.1 478.7h.8v.8h-.8zM213.7 484.3h.8v.8h-.8zM217.2 474.7h.8v.8h-.8zM217.5 471.3h.8v.8h-.8zM202.1 486.5h.8v.8h-.8zM209.4 468.3h.8v.8h-.8zM205.9 479.1h.8v.8h-.8zM216.7 478.0h.8v.8h-.8zM214.6 471.5h.8v.8h-.8zM208.4 471.7h.8v.8h-.8zM203.2 468.5h.8v.8h-.8zM209.9 488.0h.8v.8h-.8zM217.9 473.7h.8v.8h-.8zM216.5 476.0h.8v.8h-.8zM214.7 471.9h.8v.8h-.8zM211.6 470.9h.8v.8h-.8zM204.9 478.3h.8v.8h-.8zM205.8 477.2h.8v.8h-.8zM215.1 472.5h.8v.8h-.8zM206.0 484.8h.8v.8h-.8zM206.6 470.2h.8v.8h-.8zM212.2 485.5h.8v.8h-.8zM207.4 473.1h.8v.8h-.8zM215.2 483.3h.8v.8h-.8zM205.9 483.2h.8v.8h-.8zM205.6 477.6h.8v.8h-.8zM213.2 472.5h.8v.8h-.8zM210.7 488.0h.8v.8h-.8zM216.3 481.2h.8v.8h-.8zM218.2 470.6h.8v.8h-.8zM216.5 483.6h.8v.8h-.8zM206.1 480.2h.8v.8h-.8zM205.5 478.1h.8v.8h-.8zM213.4 470.0h.8v.8h-.8zM201.9 478.3h.8v.8h-.8zM204.3 481.1h.8v.8h-.8zM205.1 474.5h.8v.8h-.8zM207.9 483.7h.8v.8h-.8zM205.8 475.1h.8v.8h-.8zM215.1 470.1h.8v.8h-.8zM209.4 472.1h.8v.8h-.8zM216.2 488.5h.8v.8h-.8zM213.6 488.1h.8v.8h-.8zM215.7 484.5h.8v.8h-.8zM205.6 476.7h.8v.8h-.8zM212.2 467.8h.8v.8h-.8zM218.2 472.4h.8v.8h-.8zM214.5 470.2h.8v.8h-.8zM205.7 482.2h.8v.8h-.8zM211.3 486.6h.8v.8h-.8zM222.0 465.8h.8v.8h-.8zM221.3 475.9h.8v.8h-.8zM205.2 489.7h.8v.8h-.8zM205.9 481.8h.8v.8h-.8zM219.1 478.3h.8v.8h-.8zM203.9 480.8h.8v.8h-.8zM221.2 482.0h.8v.8h-.8zM215.0 473.2h.8v.8h-.8zM204.2 478.9h.8v.8h-.8zM209.1 485.3h.8v.8h-.8zM207.7 464.5h.8v.8h-.8zM197.9 478.4h.8v.8h-.8zM214.6 473.8h.8v.8h-.8zM217.6 472.4h.8v.8h-.8zM216.0 479.9h.8v.8h-.8zM205.7 479.8h.8v.8h-.8zM216.1 474.0h.8v.8h-.8zM217.2 486.3h.8v.8h-.8zM211.2 465.3h.8v.8h-.8zM212.3 471.2h.8v.8h-.8zM216.6 475.9h.8v.8h-.8zM205.1 470.3h.8v.8h-.8zM209.5 485.4h.8v.8h-.8zM213.3 469.3h.8v.8h-.8zM214.3 485.4h.8v.8h-.8zM212.7 471.1h.8v.8h-.8zM209.3 466.8h.8v.8h-.8zM219.3 479.5h.8v.8h-.8zM206.3 481.1h.8v.8h-.8zM222.0 475.2h.8v.8h-.8zM217.0 478.8h.8v.8h-.8zM205.3 479.3h.8v.8h-.8zM215.9 486.1h.8v.8h-.8zM206.5 481.2h.8v.8h-.8zM216.2 479.6h.8v.8h-.8zM211.5 485.8h.8v.8h-.8zM216.1 473.6h.8v.8h-.8zM209.0 490.4h.8v.8h-.8zM210.1 466.1h.8v.8h-.8zM205.3 444.7h.8v.8h-.8zM169.0 425.9h.8v.8h-.8zM228.3 464.1h.8v.8h-.8zM178.8 510.4h.8v.8h-.8zM155.7 479.0h.8v.8h-.8zM218.0 469.8h.8v.8h-.8zM156.7 503.0h.8v.8h-.8zM214.5 481.6h.8v.8h-.8zM211.6 447.9h.8v.8h-.8zM176.1 435.5h.8v.8h-.8zM191.3 505.0h.8v.8h-.8zM203.6 448.3h.8v.8h-.8zM191.5 431.8h.8v.8h-.8zM219.7 505.6h.8v.8h-.8zM215.2 452.9h.8v.8h-.8zM177.7 492.2h.8v.8h-.8zM207.9 458.8h.8v.8h-.8zM196.7 443.2h.8v.8h-.8zM206.3 483.8h.8v.8h-.8zM163.0 456.1h.8v.8h-.8zM215.9 504.3h.8v.8h-.8zM214.9 492.6h.8v.8h-.8z"/><path fill="#8c8ce6" opacity="0.75" d="M177.3 453.1h.8v.8h-.8zM175.8 448.9h.8v.8h-.8zM175.9 454.3h.8v.8h-.8zM173.6 448.2h.8v.8h-.8zM175.7 455.4h.8v.8h-.8zM176.5 454.0h.8v.8h-.8zM174.1 449.1h.8v.8h-.8zM177.9 451.0h.8v.8h-.8zM177.6 453.1h.8v.8h-.8zM169.5 448.6h.8v.8h-.8zM171.8 450.3h.8v.8h-.8zM173.7 448.0h.8v.8h-.8zM170.9 448.0h.8v.8h-.8zM175.8 456.2h.8v.8h-.8zM169.3 453.6h.8v.8h-.8zM179.1 447.7h.8v.8h-.8zM176.6 455.3h.8v.8h-.8zM179.8 450.5h.8v.8h-.8zM172.5 454.5h.8v.8h-.8zM172.5 454.8h.8v.8h-.8zM172.7 456.7h.8v.8h-.8zM173.2 455.8h.8v.8h-.8zM177.8 450.7h.8v.8h-.8zM168.2 450.4h.8v.8h-.8zM173.0 449.5h.8v.8h-.8zM174.7 448.8h.8v.8h-.8zM180.3 453.0h.8v.8h-.8zM178.1 448.1h.8v.8h-.8zM177.0 453.1h.8v.8h-.8zM178.3 448.1h.8v.8h-.8zM176.4 455.3h.8v.8h-.8zM170.1 455.7h.8v.8h-.8zM171.2 451.2h.8v.8h-.8zM177.3 447.9h.8v.8h-.8zM174.9 446.9h.8v.8h-.8zM168.9 454.8h.8v.8h-.8zM167.9 452.2h.8v.8h-.8zM180.1 451.4h.8v.8h-.8zM175.1 454.3h.8v.8h-.8zM171.3 452.8h.8v.8h-.8zM170.9 450.3h.8v.8h-.8zM174.7 454.0h.8v.8h-.8zM177.6 452.9h.8v.8h-.8zM180.5 449.4h.8v.8h-.8zM170.7 455.0h.8v.8h-.8zM168.2 453.0h.8v.8h-.8zM168.9 454.9h.8v.8h-.8zM168.9 451.4h.8v.8h-.8zM173.8 447.6h.8v.8h-.8zM171.1 448.2h.8v.8h-.8zM173.2 447.8h.8v.8h-.8zM174.8 455.8h.8v.8h-.8zM178.2 454.7h.8v.8h-.8zM176.3 448.8h.8v.8h-.8zM169.5 451.5h.8v.8h-.8zM174.9 446.9h.8v.8h-.8zM168.7 452.7h.8v.8h-.8zM174.9 456.0h.8v.8h-.8zM171.4 451.2h.8v.8h-.8zM175.8 454.0h.8v.8h-.8zM171.3 454.9h.8v.8h-.8zM170.1 450.7h.8v.8h-.8zM178.0 449.9h.8v.8h-.8zM173.0 449.4h.8v.8h-.8zM179.1 452.5h.8v.8h-.8zM180.5 451.0h.8v.8h-.8zM178.5 447.3h.8v.8h-.8zM169.7 451.2h.8v.8h-.8zM177.8 452.2h.8v.8h-.8zM170.8 452.1h.8v.8h-.8zM171.8 449.8h.8v.8h-.8zM175.1 448.0h.8v.8h-.8zM178.5 450.3h.8v.8h-.8zM171.3 447.6h.8v.8h-.8zM179.6 447.6h.8v.8h-.8zM172.1 455.3h.8v.8h-.8zM169.2 449.2h.8v.8h-.8zM175.0 448.4h.8v.8h-.8zM177.4 455.4h.8v.8h-.8zM170.9 455.3h.8v.8h-.8zM177.4 455.5h.8v.8h-.8zM174.3 447.5h.8v.8h-.8zM177.2 454.5h.8v.8h-.8zM177.3 449.7h.8v.8h-.8zM170.7 452.6h.8v.8h-.8zM176.7 449.5h.8v.8h-.8zM170.9 450.8h.8v.8h-.8zM177.8 450.6h.8v.8h-.8zM170.5 448.6h.8v.8h-.8zM180.0 451.2h.8v.8h-.8zM177.5 455.9h.8v.8h-.8zM172.5 448.4h.8v.8h-.8zM175.1 448.8h.8v.8h-.8zM175.2 455.6h.8v.8h-.8zM175.4 448.3h.8v.8h-.8zM169.7 449.3h.8v.8h-.8zM174.9 448.5h.8v.8h-.8zM170.6 454.3h.8v.8h-.8zM171.2 450.6h.8v.8h-.8zM175.0 454.3h.8v.8h-.8zM171.0 453.7h.8v.8h-.8zM177.6 455.8h.8v.8h-.8zM170.2 451.5h.8v.8h-.8zM178.8 451.7h.8v.8h-.8zM181.2 451.6h.8v.8h-.8zM178.2 452.9h.8v.8h-.8zM175.6 456.1h.8v.8h-.8zM176.6 448.8h.8v.8h-.8zM175.5 455.9h.8v.8h-.8zM175.0 454.3h.8v.8h-.8zM171.3 449.7h.8v.8h-.8zM174.8 455.0h.8v.8h-.8zM176.6 448.0h.8v.8h-.8zM175.8 455.3h.8v.8h-.8zM181.2 450.2h.8v.8h-.8zM175.0 447.2h.8v.8h-.8zM173.8 449.1h.8v.8h-.8zM177.6 446.9h.8v.8h-.8zM174.3 455.1h.8v.8h-.8zM176.9 449.6h.8v.8h-.8zM170.9 454.8h.8v.8h-.8zM177.1 448.3h.8v.8h-.8zM169.7 448.9h.8v.8h-.8zM177.2 448.5h.8v.8h-.8zM178.8 450.3h.8v.8h-.8zM175.9 455.5h.8v.8h-.8zM178.5 451.1h.8v.8h-.8zM169.8 452.0h.8v.8h-.8zM173.5 454.2h.8v.8h-.8zM175.2 447.4h.8v.8h-.8zM171.8 447.1h.8v.8h-.8zM174.8 454.1h.8v.8h-.8zM171.8 447.1h.8v.8h-.8zM173.5 449.3h.8v.8h-.8zM177.0 454.6h.8v.8h-.8zM174.0 454.1h.8v.8h-.8zM170.2 449.9h.8v.8h-.8zM173.1 449.3h.8v.8h-.8zM176.3 456.2h.8v.8h-.8zM166.1 478.5h.8v.8h-.8zM169.2 492.0h.8v.8h-.8zM168.8 490.7h.8v.8h-.8zM173.3 487.6h.8v.8h-.8zM166.1 480.9h.8v.8h-.8zM186.1 477.5h.8v.8h-.8zM168.0 479.6h.8v.8h-.8zM175.3 492.9h.8v.8h-.8zM173.9 476.1h.8v.8h-.8zM167.2 476.9h.8v.8h-.8zM179.3 471.4h.8v.8h-.8zM182.7 474.8h.8v.8h-.8zM180.3 492.1h.8v.8h-.8zM176.6 492.2h.8v.8h-.8zM166.5 481.2h.8v.8h-.8zM181.1 492.9h.8v.8h-.8zM181.6 480.4h.8v.8h-.8zM185.7 476.5h.8v.8h-.8zM173.9 494.2h.8v.8h-.8zM171.4 490.5h.8v.8h-.8zM170.0 472.7h.8v.8h-.8zM179.2 476.4h.8v.8h-.8zM170.8 478.6h.8v.8h-.8zM174.7 470.7h.8v.8h-.8zM169.8 478.1h.8v.8h-.8zM170.6 487.8h.8v.8h-.8zM182.8 483.0h.8v.8h-.8zM178.8 489.0h.8v.8h-.8zM171.6 475.7h.8v.8h-.8zM186.7 480.2h.8v.8h-.8zM171.7 487.2h.8v.8h-.8zM169.7 480.3h.8v.8h-.8zM183.4 489.7h.8v.8h-.8zM166.3 485.1h.8v.8h-.8zM174.5 471.8h.8v.8h-.8zM208.2 478.2h.8v.8h-.8zM207.4 477.3h.8v.8h-.8zM207.9 479.2h.8v.8h-.8zM212.6 476.0h.8v.8h-.8zM213.8 481.5h.8v.8h-.8zM210.4 481.8h.8v.8h-.8zM209.0 482.9h.8v.8h-.8zM213.3 482.8h.8v.8h-.8zM212.6 474.4h.8v.8h-.8zM214.4 476.6h.8v.8h-.8zM215.0 481.9h.8v.8h-.8zM211.3 483.4h.8v.8h-.8zM215.7 479.7h.8v.8h-.8zM209.0 483.9h.8v.8h-.8zM211.7 474.8h.8v.8h-.8zM209.7 473.4h.8v.8h-.8zM211.9 482.0h.8v.8h-.8zM213.3 482.6h.8v.8h-.8zM215.0 478.7h.8v.8h-.8zM209.0 482.8h.8v.8h-.8zM207.2 477.0h.8v.8h-.8zM209.9 473.6h.8v.8h-.8zM207.3 480.7h.8v.8h-.8zM206.9 480.4h.8v.8h-.8zM214.3 476.4h.8v.8h-.8zM214.1 480.6h.8v.8h-.8zM208.5 478.8h.8v.8h-.8zM210.5 475.6h.8v.8h-.8zM208.1 474.2h.8v.8h-.8zM208.1 475.8h.8v.8h-.8zM211.9 483.0h.8v.8h-.8zM207.8 473.8h.8v.8h-.8zM208.9 475.2h.8v.8h-.8zM213.0 475.7h.8v.8h-.8zM207.7 482.0h.8v.8h-.8zM213.6 474.5h.8v.8h-.8zM208.3 477.2h.8v.8h-.8zM207.7 483.1h.8v.8h-.8zM208.3 477.2h.8v.8h-.8zM215.5 477.0h.8v.8h-.8zM210.2 474.1h.8v.8h-.8zM213.2 479.3h.8v.8h-.8zM212.3 475.9h.8v.8h-.8zM207.4 474.4h.8v.8h-.8zM214.7 478.4h.8v.8h-.8zM208.2 482.4h.8v.8h-.8zM214.4 481.9h.8v.8h-.8zM212.2 474.1h.8v.8h-.8zM209.1 476.6h.8v.8h-.8zM213.9 473.3h.8v.8h-.8zM214.3 474.9h.8v.8h-.8zM206.8 479.7h.8v.8h-.8zM214.9 479.6h.8v.8h-.8zM211.8 481.8h.8v.8h-.8zM213.4 478.1h.8v.8h-.8zM214.6 482.0h.8v.8h-.8zM210.7 472.5h.8v.8h-.8zM212.5 483.6h.8v.8h-.8zM214.1 474.7h.8v.8h-.8zM212.0 475.3h.8v.8h-.8zM211.0 473.6h.8v.8h-.8zM211.1 475.4h.8v.8h-.8zM211.0 473.1h.8v.8h-.8zM211.0 481.5h.8v.8h-.8zM206.9 476.8h.8v.8h-.8zM208.3 480.8h.8v.8h-.8zM210.4 481.9h.8v.8h-.8zM208.2 475.1h.8v.8h-.8zM214.4 476.7h.8v.8h-.8zM207.7 481.5h.8v.8h-.8zM212.9 473.6h.8v.8h-.8zM207.5 480.0h.8v.8h-.8zM208.3 477.4h.8v.8h-.8zM211.4 475.3h.8v.8h-.8zM209.0 473.9h.8v.8h-.8zM208.2 476.3h.8v.8h-.8zM212.7 474.9h.8v.8h-.8zM212.2 475.7h.8v.8h-.8zM206.6 479.7h.8v.8h-.8zM211.2 474.6h.8v.8h-.8zM210.2 483.8h.8v.8h-.8zM214.4 477.3h.8v.8h-.8zM179.1 481.4h.8v.8h-.8zM198.8 478.5h.8v.8h-.8zM204.5 462.2h.8v.8h-.8zM189.5 483.9h.8v.8h-.8zM180.4 471.3h.8v.8h-.8zM200.3 482.5h.8v.8h-.8zM181.1 473.7h.8v.8h-.8zM195.0 479.6h.8v.8h-.8zM176.2 463.4h.8v.8h-.8zM179.7 461.6h.8v.8h-.8zM199.3 482.4h.8v.8h-.8zM204.4 465.6h.8v.8h-.8zM198.7 455.6h.8v.8h-.8zM201.9 463.8h.8v.8h-.8zM181.6 477.1h.8v.8h-.8zM192.8 451.6h.8v.8h-.8zM198.6 460.3h.8v.8h-.8zM207.8 465.9h.8v.8h-.8zM197.9 453.6h.8v.8h-.8zM210.6 467.9h.8v.8h-.8z"/><path fill="#6a68d0" opacity="0.75" d="M176.8 452.6h.8v.8h-.8zM172.5 452.0h.8v.8h-.8zM173.3 452.4h.8v.8h-.8zM174.2 451.4h.8v.8h-.8zM172.0 452.6h.8v.8h-.8zM177.2 450.7h.8v.8h-.8zM173.5 451.7h.8v.8h-.8zM176.8 452.5h.8v.8h-.8zM172.5 450.0h.8v.8h-.8zM173.3 451.4h.8v.8h-.8zM176.2 449.5h.8v.8h-.8zM172.2 452.7h.8v.8h-.8zM173.1 453.6h.8v.8h-.8zM172.3 452.4h.8v.8h-.8zM174.1 452.4h.8v.8h-.8zM176.3 451.8h.8v.8h-.8zM174.2 451.2h.8v.8h-.8zM174.1 449.5h.8v.8h-.8zM176.8 449.8h.8v.8h-.8zM174.4 453.5h.8v.8h-.8zM174.5 449.7h.8v.8h-.8zM175.7 450.6h.8v.8h-.8zM173.2 453.6h.8v.8h-.8zM173.0 452.4h.8v.8h-.8zM173.4 453.6h.8v.8h-.8zM174.8 453.7h.8v.8h-.8zM177.0 449.8h.8v.8h-.8zM173.5 453.6h.8v.8h-.8zM175.3 449.4h.8v.8h-.8zM172.5 451.5h.8v.8h-.8zM174.4 453.0h.8v.8h-.8zM175.7 450.9h.8v.8h-.8zM175.8 452.9h.8v.8h-.8zM173.3 452.7h.8v.8h-.8zM176.6 450.7h.8v.8h-.8zM172.3 451.7h.8v.8h-.8zM174.2 452.2h.8v.8h-.8zM171.5 452.5h.8v.8h-.8zM177.7 451.2h.8v.8h-.8zM174.1 450.9h.8v.8h-.8zM176.6 452.5h.8v.8h-.8zM175.5 451.9h.8v.8h-.8zM175.9 450.5h.8v.8h-.8zM175.7 451.7h.8v.8h-.8zM179.9 479.6h.8v.8h-.8zM174.5 483.6h.8v.8h-.8zM175.1 482.5h.8v.8h-.8zM178.6 482.2h.8v.8h-.8zM173.6 480.2h.8v.8h-.8zM174.7 476.2h.8v.8h-.8zM175.1 481.8h.8v.8h-.8zM175.2 479.1h.8v.8h-.8zM175.5 481.5h.8v.8h-.8zM175.9 485.0h.8v.8h-.8zM212.4 479.3h.8v.8h-.8zM210.0 476.1h.8v.8h-.8zM211.8 476.7h.8v.8h-.8zM213.3 478.4h.8v.8h-.8zM212.4 476.4h.8v.8h-.8zM211.8 476.7h.8v.8h-.8zM210.0 481.1h.8v.8h-.8zM210.0 479.1h.8v.8h-.8zM211.5 480.8h.8v.8h-.8zM211.6 481.2h.8v.8h-.8zM211.0 476.6h.8v.8h-.8zM210.1 480.6h.8v.8h-.8zM213.1 478.0h.8v.8h-.8zM211.5 477.6h.8v.8h-.8zM209.4 478.3h.8v.8h-.8zM210.9 479.7h.8v.8h-.8zM210.9 478.8h.8v.8h-.8zM210.6 476.7h.8v.8h-.8zM210.0 479.6h.8v.8h-.8zM209.1 479.9h.8v.8h-.8zM212.1 479.8h.8v.8h-.8zM212.0 479.8h.8v.8h-.8zM209.0 477.5h.8v.8h-.8zM208.8 479.2h.8v.8h-.8zM211.6 477.3h.8v.8h-.8zM210.2 477.9h.8v.8h-.8zM210.4 476.0h.8v.8h-.8zM209.7 479.6h.8v.8h-.8zM211.8 477.1h.8v.8h-.8zM212.3 479.6h.8v.8h-.8zM212.1 478.5h.8v.8h-.8zM211.3 476.1h.8v.8h-.8zM211.2 477.3h.8v.8h-.8zM209.7 478.3h.8v.8h-.8zM210.0 477.6h.8v.8h-.8zM208.8 479.4h.8v.8h-.8zM211.1 476.0h.8v.8h-.8zM211.7 478.2h.8v.8h-.8zM209.4 478.8h.8v.8h-.8zM211.3 480.4h.8v.8h-.8zM209.4 480.6h.8v.8h-.8zM190.0 475.8h.8v.8h-.8zM190.1 470.1h.8v.8h-.8zM187.5 476.8h.8v.8h-.8zM194.5 464.7h.8v.8h-.8zM189.0 478.2h.8v.8h-.8zM181.7 465.6h.8v.8h-.8zM186.2 471.8h.8v.8h-.8zM183.6 463.6h.8v.8h-.8z"/><path d="M155.2,462 L182.4,462 L198,433.1 M182.4,462 L196.2,469.8 L196.2,502.3 M196.2,469.8 L224.8,448.2" fill="none" stroke="#333" stroke-width="0.9"/></g><g filter="url(#soft)"></g></g>
<rect x="155.20" y="433.10" width="69.60" height="69.20" fill="none" stroke="#333" stroke-width="1" />
<text x="157.00" y="440.00" font-size="8.2" text-anchor="start" fill="#111" stroke="#111" stroke-width="0.22" >60</text>
<text x="223.30" y="440.00" font-size="8.2" text-anchor="end" fill="#111" stroke="#111" stroke-width="0.22" >0.3</text>
<text x="157.00" y="500.00" font-size="8.2" text-anchor="start" fill="#111" stroke="#111" stroke-width="0.22" >12</text>
<text x="223.30" y="500.00" font-size="8.2" text-anchor="end" fill="#111" stroke="#111" stroke-width="0.22" >28</text>
<line x1="148.70" y1="510.00" x2="148.70" y2="382.00" stroke="#111" stroke-width="0.9" />
<path d="M146.5,383 L148.7,377.5 L150.9,383 Z" fill="#111"/>
<line x1="148.20" y1="510.00" x2="202.00" y2="510.00" stroke="#111" stroke-width="0.9" />
<path d="M201,507.8 L206.6,510 L201,512.2 Z" fill="#111"/>
<text x="0.00" y="0.00" font-size="8.2" text-anchor="middle" fill="#111" font-weight="bold" transform="translate(151.2,362.8) rotate(-90)" textLength="11.6" lengthAdjust="spacingAndGlyphs">CD4</text>
<text x="219.30" y="512.70" font-size="8.6" text-anchor="middle" fill="#111" font-weight="bold" textLength="13.3" lengthAdjust="spacingAndGlyphs">CD8</text>
<text x="347.80" y="396.70" font-size="10" text-anchor="middle" fill="#231f20" stroke="#231f20" stroke-width="0.22" >DP cells</text>
<rect x="297.50" y="467.50" width="39.00" height="31.80" fill="#c6c9de" stroke="#53699c" stroke-width="1.0" />
<line x1="317.70" y1="454.10" x2="317.70" y2="479.00" stroke="#4c6299" stroke-width="1.2" />
<line x1="307.70" y1="454.10" x2="327.70" y2="454.10" stroke="#4c6299" stroke-width="1.2" />
<line x1="307.70" y1="479.00" x2="327.70" y2="479.00" stroke="#4c6299" stroke-width="1.2" />
<circle cx="317.70" cy="421.20" r="2.0" fill="#1f3d7a"/>
<circle cx="317.70" cy="458.50" r="2.0" fill="#1f3d7a"/>
<circle cx="317.70" cy="479.70" r="2.0" fill="#1f3d7a"/>
<circle cx="314.80" cy="487.70" r="2.0" fill="#1f3d7a"/>
<circle cx="320.60" cy="485.90" r="2.0" fill="#1f3d7a"/>
<circle cx="366.30" cy="499.30" r="2.0" fill="#a3002b"/>
<circle cx="372.20" cy="499.30" r="2.0" fill="#a3002b"/>
<circle cx="378.00" cy="499.30" r="2.0" fill="#a3002b"/>
<circle cx="383.80" cy="499.30" r="2.0" fill="#a3002b"/>
<circle cx="389.50" cy="499.30" r="2.0" fill="#a3002b"/>
<line x1="277.50" y1="402.70" x2="277.50" y2="499.90" stroke="#231f20" stroke-width="1.3" />
<line x1="274.90" y1="499.30" x2="277.50" y2="499.30" stroke="#231f20" stroke-width="1" />
<text x="270.40" y="501.96" font-size="7.4" text-anchor="end" fill="#231f20" stroke="#231f20" stroke-width="0.22" >0.0</text>
<line x1="274.90" y1="480.52" x2="277.50" y2="480.52" stroke="#231f20" stroke-width="1" />
<text x="270.40" y="483.18" font-size="7.4" text-anchor="end" fill="#231f20" stroke="#231f20" stroke-width="0.22" >0.2</text>
<line x1="274.90" y1="461.74" x2="277.50" y2="461.74" stroke="#231f20" stroke-width="1" />
<text x="270.40" y="464.40" font-size="7.4" text-anchor="end" fill="#231f20" stroke="#231f20" stroke-width="0.22" >0.4</text>
<line x1="274.90" y1="442.96" x2="277.50" y2="442.96" stroke="#231f20" stroke-width="1" />
<text x="270.40" y="445.62" font-size="7.4" text-anchor="end" fill="#231f20" stroke="#231f20" stroke-width="0.22" >0.6</text>
<line x1="274.90" y1="424.18" x2="277.50" y2="424.18" stroke="#231f20" stroke-width="1" />
<text x="270.40" y="426.84" font-size="7.4" text-anchor="end" fill="#231f20" stroke="#231f20" stroke-width="0.22" >0.8</text>
<line x1="274.90" y1="405.40" x2="277.50" y2="405.40" stroke="#231f20" stroke-width="1" />
<text x="270.40" y="408.06" font-size="7.4" text-anchor="end" fill="#231f20" stroke="#231f20" stroke-width="0.22" >1.0</text>
<line x1="276.90" y1="499.30" x2="418.20" y2="499.30" stroke="#231f20" stroke-width="1.3" />
<line x1="317.70" y1="499.30" x2="317.70" y2="502.70" stroke="#231f20" stroke-width="1" />
<line x1="377.90" y1="499.30" x2="377.90" y2="502.70" stroke="#231f20" stroke-width="1" />
<line x1="316.60" y1="415.80" x2="375.00" y2="415.80" stroke="#222" stroke-width="1.2" />
<text x="344.20" y="411.50" font-size="7.5" text-anchor="middle" fill="#222" stroke="#222" stroke-width="0.22" >**</text>
<text x="0.00" y="0.00" font-size="9.6" text-anchor="start" fill="#231f20" font-weight="bold" transform="translate(253.5,465.4) rotate(-90)" textLength="30.2" lengthAdjust="spacingAndGlyphs">Cells x10<tspan dy="-3" font-size="4.6">6</tspan></text>
<text x="302.30" y="513.60" font-size="7.6" text-anchor="start" fill="#231f20" stroke="#231f20" stroke-width="0.22" >PD-1<tspan dx="0.61" dy="-2.36" font-size="3.95" letter-spacing="0.46" stroke-width="0.08">+/+</tspan></text>
<text x="366.30" y="513.60" font-size="7.6" text-anchor="start" fill="#231f20" stroke="#231f20" stroke-width="0.22" >PD-1<tspan dx="0.61" dy="-2.36" font-size="3.95" letter-spacing="0.46" stroke-width="0.08">-/-</tspan></text>
<text x="7.00" y="537.70" font-size="12.5" text-anchor="start" fill="#000" font-weight="bold" >E</text>
<text x="109.00" y="553.40" font-size="9.9" text-anchor="middle" fill="#231f20" stroke="#231f20" stroke-width="0.22" >Single-positive cells</text>
<rect x="62.00" y="631.40" width="36.75" height="28.60" fill="#2f4c7d" stroke="none" stroke-width="1" />
<rect x="62.00" y="594.60" width="36.75" height="36.80" fill="#a50026" stroke="none" stroke-width="1" />
<rect x="62.00" y="572.30" width="36.75" height="22.30" fill="#6aaa44" stroke="none" stroke-width="1" />
<rect x="118.00" y="581.25" width="36.80" height="78.75" fill="#2f4c7d" stroke="none" stroke-width="1" />
<rect x="118.00" y="573.00" width="36.80" height="8.25" fill="#a50026" stroke="none" stroke-width="1" />
<line x1="80.40" y1="584.00" x2="80.40" y2="594.60" stroke="#a04a30" stroke-width="1.3" />
<line x1="71.10" y1="584.00" x2="89.70" y2="584.00" stroke="#a04a30" stroke-width="1.3" />
<line x1="71.10" y1="594.60" x2="89.70" y2="594.60" stroke="#a04a30" stroke-width="1.3" />
<line x1="80.40" y1="627.50" x2="80.40" y2="631.40" stroke="#3f5593" stroke-width="1.3" />
<line x1="71.10" y1="627.50" x2="89.70" y2="627.50" stroke="#3f5593" stroke-width="1.3" />
<line x1="71.10" y1="631.40" x2="89.70" y2="631.40" stroke="#3f5593" stroke-width="1.3" />
<line x1="136.50" y1="577.40" x2="136.50" y2="581.25" stroke="#3f5593" stroke-width="1.3" />
<line x1="127.30" y1="577.40" x2="145.70" y2="577.40" stroke="#3f5593" stroke-width="1.3" />
<line x1="127.30" y1="581.25" x2="145.70" y2="581.25" stroke="#3f5593" stroke-width="1.3" />
<line x1="136.50" y1="572.50" x2="136.50" y2="573.20" stroke="#6cc040" stroke-width="1.3" />
<line x1="127.30" y1="572.50" x2="145.70" y2="572.50" stroke="#6cc040" stroke-width="1.3" />
<line x1="127.30" y1="573.20" x2="145.70" y2="573.20" stroke="#6cc040" stroke-width="1.3" />
<line x1="98.75" y1="595.00" x2="118.00" y2="573.60" stroke="#c0304a" stroke-width="1.1" stroke-dasharray="3,2"/>
<line x1="98.75" y1="631.75" x2="118.00" y2="581.25" stroke="#3a5aa0" stroke-width="1.1" stroke-dasharray="3,2"/>
<line x1="42.90" y1="570.30" x2="42.90" y2="660.60" stroke="#231f20" stroke-width="1.3" />
<line x1="40.30" y1="660.00" x2="42.90" y2="660.00" stroke="#231f20" stroke-width="1" />
<text x="37.70" y="663.10" font-size="8.6" text-anchor="end" fill="#231f20" stroke="#231f20" stroke-width="0.22" >0</text>
<line x1="40.30" y1="616.15" x2="42.90" y2="616.15" stroke="#231f20" stroke-width="1" />
<text x="37.70" y="619.25" font-size="8.6" text-anchor="end" fill="#231f20" stroke="#231f20" stroke-width="0.22" >50</text>
<line x1="40.30" y1="572.30" x2="42.90" y2="572.30" stroke="#231f20" stroke-width="1" />
<text x="37.70" y="575.40" font-size="8.6" text-anchor="end" fill="#231f20" stroke="#231f20" stroke-width="0.22" >100</text>
<line x1="42.30" y1="660.00" x2="174.50" y2="660.00" stroke="#231f20" stroke-width="1.3" />
<line x1="80.38" y1="660.00" x2="80.38" y2="663.40" stroke="#231f20" stroke-width="1" />
<line x1="136.40" y1="660.00" x2="136.40" y2="663.40" stroke="#231f20" stroke-width="1" />
<line x1="81.25" y1="568.25" x2="136.75" y2="568.25" stroke="#222" stroke-width="1.2" />
<text x="108.70" y="566.50" font-size="6.5" text-anchor="middle" fill="#222" stroke="#222" stroke-width="0.22" >***</text>
<text x="67.00" y="673.80" font-size="8.4" text-anchor="start" fill="#231f20" stroke="#231f20" stroke-width="0.22" >PD-1<tspan dx="0.67" dy="-2.60" font-size="4.37" letter-spacing="0.50" stroke-width="0.08">+/+</tspan></text>
<text x="125.00" y="673.80" font-size="8.4" text-anchor="start" fill="#231f20" stroke="#231f20" stroke-width="0.22" >PD-1<tspan dx="0.67" dy="-2.60" font-size="4.37" letter-spacing="0.50" stroke-width="0.08">-/-</tspan></text>
<text x="0.00" y="0.00" font-size="9.8" text-anchor="middle" fill="#231f20" font-weight="bold" transform="translate(16.1,615) rotate(-90)" textLength="37.6" lengthAdjust="spacingAndGlyphs">% of CD8SP</text>
<rect x="178.00" y="582.30" width="9.10" height="9.20" fill="#6aaa44" stroke="none" stroke-width="1" />
<text x="190.80" y="589.40" font-size="7.6" text-anchor="start" fill="#231f20" stroke="#231f20" stroke-width="0.22" >Stem</text>
<rect x="178.00" y="595.00" width="9.10" height="9.20" fill="#a50026" stroke="none" stroke-width="1" />
<text x="190.80" y="602.10" font-size="7.6" text-anchor="start" fill="#231f20" stroke="#231f20" stroke-width="0.22" >Host</text>
<rect x="178.00" y="607.70" width="9.10" height="9.20" fill="#2f4c7d" stroke="none" stroke-width="1" />
<text x="190.80" y="614.80" font-size="7.6" text-anchor="start" fill="#231f20" stroke="#231f20" stroke-width="0.22" >Graft</text>
<text x="325.00" y="554.80" font-size="9.9" text-anchor="middle" fill="#231f20" stroke="#231f20" stroke-width="0.22" >Single-positive cells</text>
<rect x="278.60" y="642.80" width="36.60" height="17.20" fill="#2f4c7d" stroke="none" stroke-width="1" />
<rect x="278.60" y="574.80" width="36.60" height="68.00" fill="#a50026" stroke="none" stroke-width="1" />
<rect x="278.60" y="573.60" width="36.60" height="1.20" fill="#6aaa44" stroke="none" stroke-width="1" />
<rect x="333.80" y="590.30" width="36.60" height="69.70" fill="#2f4c7d" stroke="none" stroke-width="1" />
<rect x="333.80" y="574.60" width="36.60" height="15.70" fill="#a50026" stroke="none" stroke-width="1" />
<rect x="333.80" y="573.80" width="36.60" height="0.80" fill="#6aaa44" stroke="none" stroke-width="1" />
<line x1="296.90" y1="636.40" x2="296.90" y2="642.80" stroke="#3f5593" stroke-width="1.3" />
<line x1="287.80" y1="636.40" x2="306.00" y2="636.40" stroke="#3f5593" stroke-width="1.3" />
<line x1="287.80" y1="642.80" x2="306.00" y2="642.80" stroke="#3f5593" stroke-width="1.3" />
<line x1="352.20" y1="577.40" x2="352.20" y2="590.30" stroke="#3f5593" stroke-width="1.3" />
<line x1="343.10" y1="577.40" x2="361.30" y2="577.40" stroke="#3f5593" stroke-width="1.3" />
<line x1="343.10" y1="590.30" x2="361.30" y2="590.30" stroke="#3f5593" stroke-width="1.3" />
<line x1="315.20" y1="575.50" x2="334.00" y2="574.30" stroke="#c0304a" stroke-width="1.1" stroke-dasharray="3,2"/>
<line x1="315.20" y1="642.80" x2="333.80" y2="590.30" stroke="#3a5aa0" stroke-width="1.1" stroke-dasharray="3,2"/>
<line x1="259.50" y1="571.00" x2="259.50" y2="660.60" stroke="#231f20" stroke-width="1.3" />
<line x1="256.90" y1="660.00" x2="259.50" y2="660.00" stroke="#231f20" stroke-width="1" />
<text x="254.30" y="663.10" font-size="8.6" text-anchor="end" fill="#231f20" stroke="#231f20" stroke-width="0.22" >0</text>
<line x1="256.90" y1="616.50" x2="259.50" y2="616.50" stroke="#231f20" stroke-width="1" />
<text x="254.30" y="619.60" font-size="8.6" text-anchor="end" fill="#231f20" stroke="#231f20" stroke-width="0.22" >50</text>
<line x1="256.90" y1="573.00" x2="259.50" y2="573.00" stroke="#231f20" stroke-width="1" />
<text x="254.30" y="576.10" font-size="8.6" text-anchor="end" fill="#231f20" stroke="#231f20" stroke-width="0.22" >100</text>
<line x1="258.90" y1="660.00" x2="389.00" y2="660.00" stroke="#231f20" stroke-width="1.3" />
<line x1="296.90" y1="660.00" x2="296.90" y2="663.40" stroke="#231f20" stroke-width="1" />
<line x1="352.10" y1="660.00" x2="352.10" y2="663.40" stroke="#231f20" stroke-width="1" />
<line x1="297.30" y1="568.10" x2="351.20" y2="568.10" stroke="#222" stroke-width="1.2" />
<text x="323.10" y="566.20" font-size="6.5" text-anchor="middle" fill="#222" stroke="#222" stroke-width="0.22" >***</text>
<text x="283.50" y="673.80" font-size="8.4" text-anchor="start" fill="#231f20" stroke="#231f20" stroke-width="0.22" >PD-1<tspan dx="0.67" dy="-2.60" font-size="4.37" letter-spacing="0.50" stroke-width="0.08">+/+</tspan></text>
<text x="340.60" y="673.80" font-size="8.4" text-anchor="start" fill="#231f20" stroke="#231f20" stroke-width="0.22" >PD-1<tspan dx="0.67" dy="-2.60" font-size="4.37" letter-spacing="0.50" stroke-width="0.08">-/-</tspan></text>
<text x="0.00" y="0.00" font-size="9.8" text-anchor="middle" fill="#231f20" font-weight="bold" transform="translate(233.1,617) rotate(-90)" textLength="44.7" lengthAdjust="spacingAndGlyphs">% of CD4Tcon</text>
<rect x="392.50" y="581.70" width="9.10" height="9.20" fill="#6aaa44" stroke="none" stroke-width="1" />
<text x="405.30" y="588.80" font-size="7.6" text-anchor="start" fill="#231f20" stroke="#231f20" stroke-width="0.22" >Stem</text>
<rect x="392.50" y="594.40" width="9.10" height="9.20" fill="#a50026" stroke="none" stroke-width="1" />
<text x="405.30" y="601.50" font-size="7.6" text-anchor="start" fill="#231f20" stroke="#231f20" stroke-width="0.22" >Host</text>
<rect x="392.50" y="607.10" width="9.10" height="9.20" fill="#2f4c7d" stroke="none" stroke-width="1" />
<text x="405.30" y="614.20" font-size="7.6" text-anchor="start" fill="#231f20" stroke="#231f20" stroke-width="0.22" >Graft</text><rect x="0.5" y="0.5" width="519" height="683" fill="none" stroke="#000" stroke-width="1.2"/></svg>
</body></html>
